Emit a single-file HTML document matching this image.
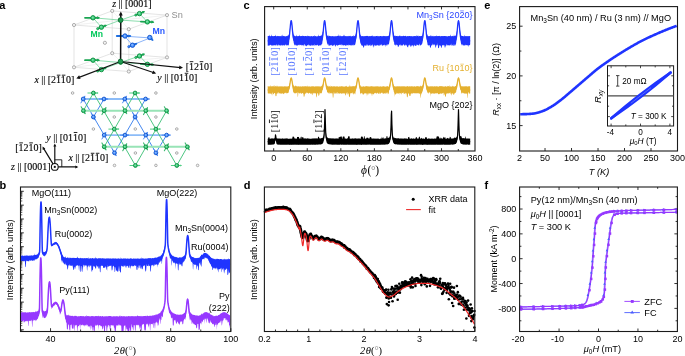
<!DOCTYPE html>
<html><head><meta charset="utf-8"><title>Figure</title>
<style>html,body{margin:0;padding:0;background:#fff;width:685px;height:356px;overflow:hidden}
svg{display:block;font-family:"Liberation Sans",sans-serif;will-change:transform}</style></head>
<body><svg xmlns="http://www.w3.org/2000/svg" width="685" height="356" viewBox="0 0 685 356"><text x="-0.7" y="8.8" font-family='"Liberation Sans", sans-serif' font-size="11" fill="#000" font-weight="bold">a</text><text x="-0.4" y="188.8" font-family='"Liberation Sans", sans-serif' font-size="11" fill="#000" font-weight="bold">b</text><text x="243.6" y="8.7" font-family='"Liberation Sans", sans-serif' font-size="11" fill="#000" font-weight="bold">c</text><text x="243.7" y="188.8" font-family='"Liberation Sans", sans-serif' font-size="11" fill="#000" font-weight="bold">d</text><text x="484.3" y="8.7" font-family='"Liberation Sans", sans-serif' font-size="11" fill="#000" font-weight="bold">e</text><text x="484.5" y="188.8" font-family='"Liberation Sans", sans-serif' font-size="11" fill="#000" font-weight="bold">f</text><line x1="50.54" y1="331.5" x2="50.54" y2="328.2" stroke="#1a1a1a" stroke-width="0.9"/><line x1="110.63" y1="331.5" x2="110.63" y2="328.2" stroke="#1a1a1a" stroke-width="0.9"/><line x1="170.71" y1="331.5" x2="170.71" y2="328.2" stroke="#1a1a1a" stroke-width="0.9"/><line x1="230.8" y1="331.5" x2="230.8" y2="328.2" stroke="#1a1a1a" stroke-width="0.9"/><line x1="80.59" y1="331.5" x2="80.59" y2="329.5" stroke="#1a1a1a" stroke-width="0.9"/><line x1="140.67" y1="331.5" x2="140.67" y2="329.5" stroke="#1a1a1a" stroke-width="0.9"/><line x1="200.76" y1="331.5" x2="200.76" y2="329.5" stroke="#1a1a1a" stroke-width="0.9"/><line x1="20.5" y1="191.3" x2="23.8" y2="191.3" stroke="#1a1a1a" stroke-width="0.9"/><line x1="20.5" y1="200.98" x2="22.3" y2="200.98" stroke="#1a1a1a" stroke-width="0.7"/><line x1="20.5" y1="198.54" x2="22.3" y2="198.54" stroke="#1a1a1a" stroke-width="0.7"/><line x1="20.5" y1="196.81" x2="22.3" y2="196.81" stroke="#1a1a1a" stroke-width="0.7"/><line x1="20.5" y1="195.47" x2="22.3" y2="195.47" stroke="#1a1a1a" stroke-width="0.7"/><line x1="20.5" y1="194.37" x2="22.3" y2="194.37" stroke="#1a1a1a" stroke-width="0.7"/><line x1="20.5" y1="193.45" x2="22.3" y2="193.45" stroke="#1a1a1a" stroke-width="0.7"/><line x1="20.5" y1="192.64" x2="22.3" y2="192.64" stroke="#1a1a1a" stroke-width="0.7"/><line x1="20.5" y1="191.93" x2="22.3" y2="191.93" stroke="#1a1a1a" stroke-width="0.7"/><line x1="20.5" y1="205.15" x2="23.8" y2="205.15" stroke="#1a1a1a" stroke-width="0.9"/><line x1="20.5" y1="214.83" x2="22.3" y2="214.83" stroke="#1a1a1a" stroke-width="0.7"/><line x1="20.5" y1="212.39" x2="22.3" y2="212.39" stroke="#1a1a1a" stroke-width="0.7"/><line x1="20.5" y1="210.66" x2="22.3" y2="210.66" stroke="#1a1a1a" stroke-width="0.7"/><line x1="20.5" y1="209.32" x2="22.3" y2="209.32" stroke="#1a1a1a" stroke-width="0.7"/><line x1="20.5" y1="208.22" x2="22.3" y2="208.22" stroke="#1a1a1a" stroke-width="0.7"/><line x1="20.5" y1="207.3" x2="22.3" y2="207.3" stroke="#1a1a1a" stroke-width="0.7"/><line x1="20.5" y1="206.49" x2="22.3" y2="206.49" stroke="#1a1a1a" stroke-width="0.7"/><line x1="20.5" y1="205.78" x2="22.3" y2="205.78" stroke="#1a1a1a" stroke-width="0.7"/><line x1="20.5" y1="219" x2="23.8" y2="219" stroke="#1a1a1a" stroke-width="0.9"/><line x1="20.5" y1="228.68" x2="22.3" y2="228.68" stroke="#1a1a1a" stroke-width="0.7"/><line x1="20.5" y1="226.24" x2="22.3" y2="226.24" stroke="#1a1a1a" stroke-width="0.7"/><line x1="20.5" y1="224.51" x2="22.3" y2="224.51" stroke="#1a1a1a" stroke-width="0.7"/><line x1="20.5" y1="223.17" x2="22.3" y2="223.17" stroke="#1a1a1a" stroke-width="0.7"/><line x1="20.5" y1="222.07" x2="22.3" y2="222.07" stroke="#1a1a1a" stroke-width="0.7"/><line x1="20.5" y1="221.15" x2="22.3" y2="221.15" stroke="#1a1a1a" stroke-width="0.7"/><line x1="20.5" y1="220.34" x2="22.3" y2="220.34" stroke="#1a1a1a" stroke-width="0.7"/><line x1="20.5" y1="219.63" x2="22.3" y2="219.63" stroke="#1a1a1a" stroke-width="0.7"/><line x1="20.5" y1="232.85" x2="23.8" y2="232.85" stroke="#1a1a1a" stroke-width="0.9"/><line x1="20.5" y1="242.53" x2="22.3" y2="242.53" stroke="#1a1a1a" stroke-width="0.7"/><line x1="20.5" y1="240.09" x2="22.3" y2="240.09" stroke="#1a1a1a" stroke-width="0.7"/><line x1="20.5" y1="238.36" x2="22.3" y2="238.36" stroke="#1a1a1a" stroke-width="0.7"/><line x1="20.5" y1="237.02" x2="22.3" y2="237.02" stroke="#1a1a1a" stroke-width="0.7"/><line x1="20.5" y1="235.92" x2="22.3" y2="235.92" stroke="#1a1a1a" stroke-width="0.7"/><line x1="20.5" y1="235" x2="22.3" y2="235" stroke="#1a1a1a" stroke-width="0.7"/><line x1="20.5" y1="234.19" x2="22.3" y2="234.19" stroke="#1a1a1a" stroke-width="0.7"/><line x1="20.5" y1="233.48" x2="22.3" y2="233.48" stroke="#1a1a1a" stroke-width="0.7"/><line x1="20.5" y1="246.7" x2="23.8" y2="246.7" stroke="#1a1a1a" stroke-width="0.9"/><line x1="20.5" y1="256.38" x2="22.3" y2="256.38" stroke="#1a1a1a" stroke-width="0.7"/><line x1="20.5" y1="253.94" x2="22.3" y2="253.94" stroke="#1a1a1a" stroke-width="0.7"/><line x1="20.5" y1="252.21" x2="22.3" y2="252.21" stroke="#1a1a1a" stroke-width="0.7"/><line x1="20.5" y1="250.87" x2="22.3" y2="250.87" stroke="#1a1a1a" stroke-width="0.7"/><line x1="20.5" y1="249.77" x2="22.3" y2="249.77" stroke="#1a1a1a" stroke-width="0.7"/><line x1="20.5" y1="248.85" x2="22.3" y2="248.85" stroke="#1a1a1a" stroke-width="0.7"/><line x1="20.5" y1="248.04" x2="22.3" y2="248.04" stroke="#1a1a1a" stroke-width="0.7"/><line x1="20.5" y1="247.33" x2="22.3" y2="247.33" stroke="#1a1a1a" stroke-width="0.7"/><line x1="20.5" y1="260.55" x2="23.8" y2="260.55" stroke="#1a1a1a" stroke-width="0.9"/><line x1="20.5" y1="270.23" x2="22.3" y2="270.23" stroke="#1a1a1a" stroke-width="0.7"/><line x1="20.5" y1="267.79" x2="22.3" y2="267.79" stroke="#1a1a1a" stroke-width="0.7"/><line x1="20.5" y1="266.06" x2="22.3" y2="266.06" stroke="#1a1a1a" stroke-width="0.7"/><line x1="20.5" y1="264.72" x2="22.3" y2="264.72" stroke="#1a1a1a" stroke-width="0.7"/><line x1="20.5" y1="263.62" x2="22.3" y2="263.62" stroke="#1a1a1a" stroke-width="0.7"/><line x1="20.5" y1="262.7" x2="22.3" y2="262.7" stroke="#1a1a1a" stroke-width="0.7"/><line x1="20.5" y1="261.89" x2="22.3" y2="261.89" stroke="#1a1a1a" stroke-width="0.7"/><line x1="20.5" y1="261.18" x2="22.3" y2="261.18" stroke="#1a1a1a" stroke-width="0.7"/><line x1="20.5" y1="274.4" x2="23.8" y2="274.4" stroke="#1a1a1a" stroke-width="0.9"/><line x1="20.5" y1="284.08" x2="22.3" y2="284.08" stroke="#1a1a1a" stroke-width="0.7"/><line x1="20.5" y1="281.64" x2="22.3" y2="281.64" stroke="#1a1a1a" stroke-width="0.7"/><line x1="20.5" y1="279.91" x2="22.3" y2="279.91" stroke="#1a1a1a" stroke-width="0.7"/><line x1="20.5" y1="278.57" x2="22.3" y2="278.57" stroke="#1a1a1a" stroke-width="0.7"/><line x1="20.5" y1="277.47" x2="22.3" y2="277.47" stroke="#1a1a1a" stroke-width="0.7"/><line x1="20.5" y1="276.55" x2="22.3" y2="276.55" stroke="#1a1a1a" stroke-width="0.7"/><line x1="20.5" y1="275.74" x2="22.3" y2="275.74" stroke="#1a1a1a" stroke-width="0.7"/><line x1="20.5" y1="275.03" x2="22.3" y2="275.03" stroke="#1a1a1a" stroke-width="0.7"/><line x1="20.5" y1="288.25" x2="23.8" y2="288.25" stroke="#1a1a1a" stroke-width="0.9"/><line x1="20.5" y1="297.93" x2="22.3" y2="297.93" stroke="#1a1a1a" stroke-width="0.7"/><line x1="20.5" y1="295.49" x2="22.3" y2="295.49" stroke="#1a1a1a" stroke-width="0.7"/><line x1="20.5" y1="293.76" x2="22.3" y2="293.76" stroke="#1a1a1a" stroke-width="0.7"/><line x1="20.5" y1="292.42" x2="22.3" y2="292.42" stroke="#1a1a1a" stroke-width="0.7"/><line x1="20.5" y1="291.32" x2="22.3" y2="291.32" stroke="#1a1a1a" stroke-width="0.7"/><line x1="20.5" y1="290.4" x2="22.3" y2="290.4" stroke="#1a1a1a" stroke-width="0.7"/><line x1="20.5" y1="289.59" x2="22.3" y2="289.59" stroke="#1a1a1a" stroke-width="0.7"/><line x1="20.5" y1="288.88" x2="22.3" y2="288.88" stroke="#1a1a1a" stroke-width="0.7"/><line x1="20.5" y1="302.1" x2="23.8" y2="302.1" stroke="#1a1a1a" stroke-width="0.9"/><line x1="20.5" y1="311.78" x2="22.3" y2="311.78" stroke="#1a1a1a" stroke-width="0.7"/><line x1="20.5" y1="309.34" x2="22.3" y2="309.34" stroke="#1a1a1a" stroke-width="0.7"/><line x1="20.5" y1="307.61" x2="22.3" y2="307.61" stroke="#1a1a1a" stroke-width="0.7"/><line x1="20.5" y1="306.27" x2="22.3" y2="306.27" stroke="#1a1a1a" stroke-width="0.7"/><line x1="20.5" y1="305.17" x2="22.3" y2="305.17" stroke="#1a1a1a" stroke-width="0.7"/><line x1="20.5" y1="304.25" x2="22.3" y2="304.25" stroke="#1a1a1a" stroke-width="0.7"/><line x1="20.5" y1="303.44" x2="22.3" y2="303.44" stroke="#1a1a1a" stroke-width="0.7"/><line x1="20.5" y1="302.73" x2="22.3" y2="302.73" stroke="#1a1a1a" stroke-width="0.7"/><line x1="20.5" y1="315.95" x2="23.8" y2="315.95" stroke="#1a1a1a" stroke-width="0.9"/><line x1="20.5" y1="325.63" x2="22.3" y2="325.63" stroke="#1a1a1a" stroke-width="0.7"/><line x1="20.5" y1="323.19" x2="22.3" y2="323.19" stroke="#1a1a1a" stroke-width="0.7"/><line x1="20.5" y1="321.46" x2="22.3" y2="321.46" stroke="#1a1a1a" stroke-width="0.7"/><line x1="20.5" y1="320.12" x2="22.3" y2="320.12" stroke="#1a1a1a" stroke-width="0.7"/><line x1="20.5" y1="319.02" x2="22.3" y2="319.02" stroke="#1a1a1a" stroke-width="0.7"/><line x1="20.5" y1="318.1" x2="22.3" y2="318.1" stroke="#1a1a1a" stroke-width="0.7"/><line x1="20.5" y1="317.29" x2="22.3" y2="317.29" stroke="#1a1a1a" stroke-width="0.7"/><line x1="20.5" y1="316.58" x2="22.3" y2="316.58" stroke="#1a1a1a" stroke-width="0.7"/><line x1="20.5" y1="329.8" x2="23.8" y2="329.8" stroke="#1a1a1a" stroke-width="0.9"/><line x1="20.5" y1="330.43" x2="22.3" y2="330.43" stroke="#1a1a1a" stroke-width="0.7"/><polygon points="21,312.09 21.3,312.2 21.6,312.19 21.9,312.41 22.2,312.25 22.5,312.44 22.8,312.12 23.1,312.56 23.4,312.27 23.7,312.31 24,312.27 24.3,312.22 24.6,312.13 24.9,312.42 25.2,312.1 25.5,312.33 25.8,312.56 26.1,312.25 26.4,312.75 26.7,312.53 27,312.73 27.3,312.16 27.6,312.52 27.9,312.17 28.2,312.12 28.5,312.13 28.8,312.94 29.1,312.24 29.4,312.06 29.7,312.08 30,312.57 30.3,312.19 30.6,312.36 30.9,312.29 31.2,312.37 31.5,312.27 31.8,311.99 32.1,312.27 32.4,312.15 32.7,311.97 33,311.95 33.3,311.91 33.6,312.29 33.9,311.87 34.2,312.28 34.5,312.32 34.8,312.04 35.1,311.74 35.4,310.6 35.7,312.29 36,311.78 36.3,311.86 36.6,311.37 36.9,311.43 37.2,311.16 37.5,311.16 37.8,310.73 38.1,310.68 38.4,310.64 38.7,309.94 39,307.98 39.3,308.27 39.4,307.32 39.5,305.75 39.6,301.63 39.7,295.94 39.8,290.07 39.9,283.52 40,278.31 40.1,273.27 40.2,269.11 40.3,265.48 40.4,262.5 40.5,260.18 40.6,258.53 40.7,257.54 40.8,257.22 40.9,257.57 41,258.58 41.1,260.26 41.2,262.61 41.3,265.61 41.4,269.27 41.5,273.58 41.6,278.52 41.7,284.04 41.8,290.02 41.9,296.31 42,302.11 42.1,304.03 42.2,307.5 42.3,308.53 42.6,309.39 42.9,310.22 43.2,310.26 43.5,310.74 43.8,311.17 44.1,310.95 44.4,311.48 44.7,311.6 45,310.96 45.3,311.09 45.6,310.71 45.9,311.27 46.2,310.55 46.5,310.19 46.8,307.95 47.1,309.13 47.4,307.4 47.7,303.61 48,298.17 48.1,296.13 48.2,294.39 48.3,292.21 48.4,290.46 48.5,289.21 48.6,287.45 48.7,286.02 48.8,284.84 48.9,283.81 49,282.94 49.1,282.22 49.2,281.67 49.3,281.28 49.4,281.04 49.5,280.98 49.6,281.07 49.7,281.33 49.8,281.74 49.9,282.32 50,283.06 50.1,283.96 50.2,285.01 50.3,286.21 50.4,287.99 50.5,289.54 50.6,290.22 50.7,292.44 50.8,294.18 50.9,296.28 51,298.11 51.3,302.36 51.6,304.14 51.9,304.63 52.2,304.31 52.5,304.23 52.8,303.93 53.1,301.9 53.4,303.28 53.7,302.68 54,302.65 54.3,302.25 54.6,302.08 54.9,301.67 55.2,301.63 55.5,301.5 55.8,301.84 56.1,301.68 56.4,302.1 56.7,301.95 57,302.37 57.3,302.48 57.6,303.3 57.9,303.83 58.2,303.97 58.5,304.77 58.8,305.86 59.1,306.24 59.4,306.75 59.7,307.52 60,308.44 60.3,308.81 60.6,308.88 60.9,308.1 61.2,307.05 61.5,305.22 61.6,304.6 61.7,303.66 61.8,302.94 61.9,302.24 62,301.81 62.1,301.29 62.2,300.85 62.3,300.29 62.4,299.85 62.5,299.48 62.6,299.62 62.7,299.24 62.8,298.99 62.9,298.97 63,299.25 63.1,299.14 63.2,299.26 63.3,299.15 63.4,299.54 63.5,299.51 63.6,300.31 63.7,300.77 63.8,301.09 63.9,302 64,302.51 64.1,303.01 64.2,303.57 64.3,304.44 64.4,305.55 64.5,306.2 64.8,308.51 65.1,310.98 65.4,312.51 65.7,313.81 66,314.18 66.3,314.84 66.6,315.34 66.9,315.64 67.2,315.11 67.5,315.13 67.8,315.27 68.1,315.27 68.4,315.62 68.7,314.35 69,315.47 69.3,315.79 69.6,315.18 69.9,315.7 70.2,315.57 70.5,315.72 70.8,315.95 71.1,315.85 71.4,315.99 71.7,315.97 72,315.75 72.3,315.97 72.6,315.83 72.9,315.84 73.2,316.44 73.5,316.23 73.8,316.07 74.1,315.8 74.4,315.78 74.7,316.29 75,315.95 75.3,316.06 75.6,315.84 75.9,315.84 76.2,315.92 76.5,316.23 76.8,315.84 77.1,316.61 77.4,316.09 77.7,316.54 78,316.99 78.3,316.04 78.6,316.33 78.9,315.88 79.2,316.28 79.5,316.2 79.8,316.27 80.1,315.94 80.4,315.9 80.7,315.91 81,315.91 81.3,316.18 81.6,316.09 81.9,315.98 82.2,316.27 82.5,316.09 82.8,316.15 83.1,316.3 83.4,316.36 83.7,315.97 84,315.92 84.3,316.39 84.6,316.53 84.9,316.44 85.2,316.09 85.5,316.2 85.8,316.07 86.1,316.85 86.4,316.03 86.7,315.07 87,315.97 87.3,316.32 87.6,316.04 87.9,316.01 88.2,316.36 88.5,316.07 88.8,315.95 89.1,316.49 89.4,316.15 89.7,316.09 90,316.59 90.3,316.51 90.6,316.3 90.9,316.28 91.2,316.2 91.5,316 91.8,316.04 92.1,316.06 92.4,316.04 92.7,315.99 93,316.5 93.3,316.17 93.6,315.99 93.9,316.18 94.2,316.2 94.5,316.54 94.8,316.15 95.1,316 95.4,316.1 95.7,316.37 96,316 96.3,316.29 96.6,316.12 96.9,316.06 97.2,316.06 97.5,316.02 97.8,316.54 98.1,316.07 98.4,315.61 98.7,316.3 99,316.26 99.3,316.19 99.6,316.52 99.9,316.1 100.2,316.2 100.5,316.06 100.8,315.99 101.1,316.34 101.4,316.16 101.7,316.7 102,316.09 102.3,316.07 102.6,316.36 102.9,316.11 103.2,316.44 103.5,316.39 103.8,316.45 104.1,316.32 104.4,316.38 104.7,316.54 105,316.09 105.3,316.2 105.6,316.69 105.9,316.07 106.2,316.21 106.5,316.48 106.8,316.02 107.1,316.52 107.4,316.34 107.7,316.34 108,316.31 108.3,316.18 108.6,316.11 108.9,316.08 109.2,316.08 109.5,316.11 109.8,316.11 110.1,316.02 110.4,316.08 110.7,316.04 111,316.19 111.3,316.66 111.6,316.22 111.9,316.03 112.2,316.6 112.5,316.15 112.8,316.69 113.1,316.5 113.4,316.31 113.7,316.26 114,316.06 114.3,316.61 114.6,316.14 114.9,316.25 115.2,316.23 115.5,316.8 115.8,316.09 116.1,316.28 116.4,316.42 116.7,316.03 117,316.07 117.3,316.41 117.6,316.05 117.9,316.41 118.2,316.4 118.5,316.38 118.8,316.39 119.1,316.17 119.4,316.19 119.7,316.05 120,315.05 120.3,316.12 120.6,316.46 120.9,316.51 121.2,316.28 121.5,316.07 121.8,316.08 122.1,316.35 122.4,316.61 122.7,316.28 123,316.06 123.3,316.14 123.6,316.13 123.9,316.36 124.2,316.07 124.5,316.42 124.8,316.32 125.1,316.28 125.4,316.16 125.7,316.66 126,316.46 126.3,316.2 126.6,316.46 126.9,316.12 127.2,316.09 127.5,316.38 127.8,316.87 128.1,316.04 128.4,316.01 128.7,316.21 129,316.03 129.3,316.56 129.6,316.11 129.9,316.32 130.2,316.41 130.5,316.34 130.8,316.08 131.1,316.33 131.4,316.14 131.7,316.12 132,315.98 132.3,316.14 132.6,316.24 132.9,316.06 133.2,316.31 133.5,316.4 133.8,315.96 134.1,316.25 134.4,316.47 134.7,315.94 135,316.16 135.3,316.27 135.6,316.22 135.9,316.1 136.2,316.44 136.5,316.19 136.8,316.04 137.1,315.99 137.4,314.68 137.7,316.1 138,315.95 138.3,316.1 138.6,315.9 138.9,316.26 139.2,315.91 139.5,315.89 139.8,316.2 140.1,316.17 140.4,315.86 140.7,316.45 141,316.07 141.3,316.21 141.6,316.46 141.9,315.84 142.2,316.2 142.5,316.34 142.8,316.17 143.1,316.05 143.4,316.17 143.7,315.9 144,316.04 144.3,316 144.6,315.94 144.9,315.99 145.2,315.87 145.5,316.04 145.8,316.12 146.1,316.32 146.4,316.32 146.7,315.76 147,315.72 147.3,315.63 147.6,315.66 147.9,315.61 148.2,316.24 148.5,315.92 148.8,316.08 149.1,315.87 149.4,315.96 149.7,315.73 150,315.74 150.3,315.76 150.6,315.88 150.9,315.49 151.2,315.82 151.5,316.29 151.8,315.46 152.1,315.61 152.4,315.56 152.7,315.54 153,315.22 153.3,315.6 153.6,315.37 153.9,315.46 154.2,315.21 154.5,315.01 154.8,315.11 155.1,315.4 155.4,314.81 155.7,314.61 156,314.55 156.3,314.47 156.6,314.74 156.9,314.27 157.2,314.16 157.5,314.48 157.8,314.56 158.1,313.82 158.4,313.9 158.7,313.5 159,313.52 159.3,313.38 159.6,312.93 159.9,313.05 160.2,312.66 160.5,312.21 160.8,311.96 161.1,309.98 161.4,311.43 161.7,311.1 162,310.39 162.3,309.99 162.6,309.3 162.9,308.56 163.2,308.29 163.5,306.98 163.8,306.45 164.1,305.05 164.4,303.58 164.7,302.6 164.9,300.61 165,299.81 165.1,298.62 165.2,296.64 165.3,293.11 165.4,288.17 165.5,282.82 165.6,277.58 165.7,272.77 165.8,268.52 165.9,264.9 166,261.92 166.1,259.59 166.2,257.92 166.3,256.92 166.4,256.59 166.5,256.92 166.6,257.92 166.7,259.59 166.8,261.92 166.9,264.9 167,268.52 167.1,272.77 167.2,277.58 167.3,282.81 167.4,288.16 167.5,293.16 167.6,296.9 167.7,298.91 167.8,299.83 167.9,300.14 168,301.58 168.3,303.02 168.6,305.28 168.9,305.72 169.2,307.15 169.5,307.97 169.8,308.51 170.1,309.41 170.4,309.69 170.7,310.18 171,311.17 171.3,311.53 171.6,311.38 171.9,311.76 172.2,312.42 172.5,312.49 172.8,312.64 173.1,312.85 173.4,312.95 173.7,313.44 174,313.52 174.3,313.42 174.6,313.79 174.9,313.86 175.2,314.14 175.5,314 175.8,314.06 176.1,314.16 176.4,314.46 176.7,314.75 177,314.43 177.3,314.3 177.6,314.43 177.9,314.96 178.2,314.52 178.5,314.63 178.8,314.74 179.1,315.23 179.4,314.57 179.7,314.76 180,314.57 180.3,314.63 180.6,314.4 180.9,314.62 181.2,315.28 181.5,314.3 181.8,314.38 182.1,314.34 182.4,314.6 182.7,314.28 183,313.85 183.3,313.68 183.6,313.65 183.9,313.34 184.2,312.89 184.5,312.87 184.8,312.86 185.1,311.78 185.4,311.18 185.7,310.42 186,309.45 186.1,308.35 186.2,308.1 186.3,307.08 186.4,305.88 186.5,304.91 186.6,304.13 186.7,303.24 186.8,302.46 186.9,301.38 187,300.38 187.1,299.8 187.2,299.52 187.3,298.89 187.4,298.36 187.5,298.16 187.6,298.09 187.7,298.35 187.8,298.27 187.9,298.91 188,299.3 188.1,299.87 188.2,299.94 188.3,301.3 188.4,302.17 188.5,302.97 188.6,304.18 188.7,304.88 188.8,305.95 188.9,307.07 189,307.83 189.1,308.51 189.3,309.99 189.6,311.51 189.9,312.14 190.2,312 190.5,312.5 190.8,313.34 191.1,313.18 191.4,313.76 191.7,313.71 192,314.04 192.3,314.36 192.6,314.81 192.9,314.88 193.2,314.74 193.5,314.88 193.8,314.77 194.1,314.88 194.4,315.1 194.7,315.07 195,315.2 195.3,315.39 195.6,315.26 195.9,315.53 196.2,315.61 196.5,315.26 196.8,315.53 197.1,315.42 197.4,315.38 197.7,315.56 198,315.87 198.3,315.66 198.6,315.4 198.9,316.11 199.2,315.51 199.5,315.14 199.8,315.26 200.1,315.63 200.4,314.87 200.7,314.77 201,314.91 201.3,313.02 201.6,314.36 201.9,314.1 202.2,314.38 202.5,314.1 202.8,313.48 203.1,313.31 203.4,313.57 203.7,312.89 204,312.55 204.3,312.47 204.6,312.41 204.9,312.16 205.2,312.54 205.5,312 205.8,312.08 206.1,311.91 206.4,312.02 206.7,311.96 207,312.71 207.3,312.42 207.6,312.2 207.9,312.64 208.2,313.1 208.5,312.59 208.8,313.41 209.1,313.31 209.4,313.63 209.7,311.86 210,313.69 210.3,314.59 210.6,314.24 210.9,314.86 211.2,314.64 211.5,314.76 211.8,315.01 212.1,315.08 212.4,315.38 212.7,315.53 213,315.46 213.3,315.52 213.6,316.23 213.9,316.33 214.2,316.15 214.5,315.96 214.8,315.98 215.1,316.25 215.4,315.77 215.7,315.76 216,315.82 216.3,315.72 216.6,315.79 216.9,315.61 217.2,315.88 217.5,315.54 217.8,316.1 218.1,315.2 218.4,315.12 218.7,315.06 219,314.94 219.3,314.89 219.6,314.37 219.9,314.4 220.2,313.95 220.5,313.67 220.8,313.15 221.1,313.41 221.4,312.98 221.7,312.93 222,313.08 222.3,313.07 222.6,312.46 222.9,311.38 223.2,312.23 223.5,312.13 223.8,312.35 224.1,312.39 224.4,312.1 224.7,311.98 225,312.17 225.3,312.21 225.6,312.46 225.9,313 226.2,312.57 226.5,313.14 226.8,313.04 227.1,313.16 227.4,313.36 227.7,314.03 228,313.77 228.3,314.47 228.6,314.42 228.9,314.69 229.2,315 229.5,314.92 229.8,315.17 230.1,315.79 230.1,324.17 229.8,325.48 229.5,325.51 229.2,328.86 228.9,322.52 228.6,322.25 228.3,321.45 228,322.51 227.7,322.41 227.4,320.46 227.1,320.1 226.8,319.18 226.5,319.85 226.2,320.73 225.9,320.17 225.6,320.07 225.3,317.69 225,318.43 224.7,318.41 224.4,318.37 224.1,317.93 223.8,318.27 223.5,320.23 223.2,320.21 222.9,320.69 222.6,320.41 222.3,325.13 222,321.2 221.7,319.88 221.4,325.19 221.1,325.43 220.8,320.97 220.5,320.54 220.2,322.21 219.9,322.17 219.6,322.3 219.3,322.86 219,323.04 218.7,322.97 218.4,322.97 218.1,323.79 217.8,324.39 217.5,324.79 217.2,324.46 216.9,330.33 216.6,325.08 216.3,324.84 216,322.62 215.7,324.72 215.4,324.97 215.1,324.74 214.8,325.6 214.5,326.9 214.2,327.04 213.9,324.12 213.6,324.84 213.3,323.8 213,323.84 212.7,324.38 212.4,324.02 212.1,323.74 211.8,322.7 211.5,322.31 211.2,322.95 210.9,322.28 210.6,322.02 210.3,320.06 210,321.23 209.7,323.49 209.4,323.38 209.1,322.72 208.8,323.31 208.5,322.05 208.2,320.66 207.9,319.8 207.6,319.08 207.3,318.61 207,318 206.7,318.91 206.4,323.14 206.1,321.82 205.8,319.26 205.5,318.77 205.2,318.71 204.9,318.24 204.6,324.34 204.3,319.15 204,319.14 203.7,319.76 203.4,320.05 203.1,320.22 202.8,321.83 202.5,321.5 202.2,322.58 201.9,320.6 201.6,322.39 201.3,325.01 201,322.54 200.7,323.25 200.4,323.4 200.1,323.61 199.8,329.35 199.5,329.83 199.2,329.62 198.9,330.19 198.6,329.54 198.3,323.91 198,323.86 197.7,324.07 197.4,323.72 197.1,327.69 196.8,327.78 196.5,328.52 196.2,327.97 195.9,325.02 195.6,325.12 195.3,325.24 195,324.81 194.7,325.1 194.4,323.93 194.1,324.1 193.8,322.87 193.5,324.12 193.2,324.19 192.9,323.74 192.6,322.37 192.3,322.11 192,323.99 191.7,323.85 191.4,320.28 191.1,320.4 190.8,319.76 190.5,318.61 190.2,320.84 189.9,320.19 189.6,318.4 189.3,316.66 189.1,313.29 189,312.43 188.9,314.71 188.8,310.2 188.7,309.4 188.6,307.13 188.5,305.77 188.4,305.05 188.3,303.5 188.2,302.69 188.1,302.51 188,301.94 187.9,300.88 187.8,300.82 187.7,299.95 187.6,300.98 187.5,300.65 187.4,301.52 187.3,301.98 187.2,303.14 187.1,301.79 187,302.44 186.9,305.16 186.8,304.7 186.7,306.2 186.6,307.16 186.5,308.69 186.4,309.34 186.3,310.4 186.2,311.82 186.1,312.64 186,318.74 185.7,320.14 185.4,316.92 185.1,317.79 184.8,318.98 184.5,319.53 184.2,318.65 183.9,320.52 183.6,320.37 183.3,323.41 183,323.99 182.7,324.06 182.4,324.82 182.1,321.13 181.8,321.6 181.5,321.75 181.2,321.37 180.9,321.55 180.6,321.17 180.3,322.28 180,322.52 179.7,324.72 179.4,324.14 179.1,324.71 178.8,322.38 178.5,323.95 178.2,323.87 177.9,321.48 177.6,321.39 177.3,322.31 177,322.29 176.7,323.94 176.4,323.17 176.1,323.72 175.8,321.98 175.5,321.04 175.2,319.61 174.9,321.09 174.6,320.14 174.3,319.93 174,319.88 173.7,325.7 173.4,325.52 173.1,325.25 172.8,325.27 172.5,318.61 172.2,317.61 171.9,318.2 171.6,317.26 171.3,318.82 171,317.65 170.7,315.32 170.4,313.8 170.1,314.37 169.8,313.28 169.5,312.19 169.2,314.04 168.9,311.73 168.6,308.25 168.3,305.93 168,304.4 167.9,302.69 167.8,302.74 167.7,301.52 167.6,299.49 167.5,295.19 167.4,290.98 167.3,284.69 167.2,279.32 167.1,274.48 167,270.14 166.9,266.48 166.8,263.5 166.7,261.16 166.6,259.49 166.5,258.48 166.4,258.14 166.3,258.47 166.2,259.47 166.1,261.14 166,263.48 165.9,266.48 165.8,270.43 165.7,274.73 165.6,279.62 165.5,284.7 165.4,290.26 165.3,294.94 165.2,298.97 165.1,301.4 165,301.86 164.9,302.92 164.7,305.3 164.4,306.9 164.1,309.71 163.8,309.61 163.5,311.06 163.2,311.83 162.9,316.71 162.6,317.09 162.3,317.39 162,315.42 161.7,315.85 161.4,319.39 161.1,320.18 160.8,318.78 160.5,323.7 160.2,323.78 159.9,317.85 159.6,319.35 159.3,319.83 159,321.27 158.7,323.45 158.4,325.42 158.1,325.29 157.8,326.11 157.5,322.92 157.2,322.63 156.9,321.26 156.6,322.5 156.3,322.41 156,322.16 155.7,322.87 155.4,322.64 155.1,328.98 154.8,323.29 154.5,322.97 154.2,328.39 153.9,327.8 153.6,327.72 153.3,322.86 153,323.08 152.7,324.59 152.4,324.18 152.1,324.22 151.8,324.11 151.5,323.99 151.2,323.86 150.9,324.7 150.6,323.31 150.3,330.16 150,330.67 149.7,324.46 149.4,323.24 149.1,325.16 148.8,327.83 148.5,326.2 148.2,325.5 147.9,323.29 147.6,324 147.3,324.6 147,324.61 146.7,323.49 146.4,324.86 146.1,324.31 145.8,330.9 145.5,330.45 145.2,329.84 144.9,330.41 144.6,330.34 144.3,329.15 144,324.83 143.7,324.08 143.4,324.27 143.1,323.87 142.8,324.28 142.5,324.59 142.2,324.89 141.9,325.42 141.6,330.9 141.3,330.08 141,330.9 140.7,325.38 140.4,328.48 140.1,328.8 139.8,329.09 139.5,325.01 139.2,328.79 138.9,325.15 138.6,325.3 138.3,324.48 138,325.39 137.7,325.15 137.4,324.44 137.1,325.61 136.8,324.47 136.5,325.26 136.2,325.23 135.9,325.02 135.6,330.9 135.3,330.34 135,330.9 134.7,325.25 134.4,325.39 134.1,325.09 133.8,324.88 133.5,329.41 133.2,330.68 132.9,329.4 132.6,327.82 132.3,326.87 132,327.14 131.7,325.1 131.4,323.86 131.1,330.9 130.8,330.9 130.5,330.69 130.2,330.86 129.9,327.6 129.6,327.91 129.3,330.56 129,330.9 128.7,330.9 128.4,330.9 128.1,330.9 127.8,330.62 127.5,330.9 127.2,328.72 126.9,329.31 126.6,329.26 126.3,326.39 126,330.9 125.7,330.9 125.4,326.57 125.1,324.94 124.8,325.65 124.5,325.54 124.2,325.74 123.9,326.26 123.6,330.56 123.3,330.9 123,330.9 122.7,330.75 122.4,330.9 122.1,330.9 121.8,330.9 121.5,330.9 121.2,325.73 120.9,325.59 120.6,325.76 120.3,325.18 120,324.87 119.7,325.79 119.4,325.34 119.1,324.2 118.8,325.8 118.5,323.72 118.2,325.76 117.9,325.68 117.6,324.86 117.3,325.81 117,326.02 116.7,325.35 116.4,324.99 116.1,327.18 115.8,330.9 115.5,330.9 115.2,330.9 114.9,330.9 114.6,329.8 114.3,327.32 114,327.95 113.7,325.63 113.4,325.25 113.1,325.4 112.8,325.84 112.5,325.35 112.2,325.17 111.9,324.93 111.6,324.88 111.3,325.88 111,324.64 110.7,325.5 110.4,329.43 110.1,328.99 109.8,329.35 109.5,326.34 109.2,325.16 108.9,326.83 108.6,325.03 108.3,324.93 108,325.12 107.7,326.97 107.4,327.46 107.1,330.9 106.8,330.66 106.5,330.9 106.2,325.61 105.9,325.78 105.6,325.83 105.3,325.35 105,330.9 104.7,330.9 104.4,330.9 104.1,330.9 103.8,326.02 103.5,325.81 103.2,328.36 102.9,328.7 102.6,329.48 102.3,329.31 102,326.42 101.7,326.18 101.4,326.45 101.1,325.82 100.8,326.46 100.5,325.45 100.2,325.62 99.9,325.01 99.6,324.89 99.3,325.16 99,325.85 98.7,325.63 98.4,330.44 98.1,325.09 97.8,325.34 97.5,325.18 97.2,324.21 96.9,325.87 96.6,324.76 96.3,325.64 96,325.64 95.7,325.81 95.4,325.62 95.1,324.13 94.8,330.9 94.5,330.9 94.2,330.75 93.9,330.27 93.6,330.9 93.3,327.27 93,326.91 92.7,327.32 92.4,330.78 92.1,330.46 91.8,327.92 91.5,325.64 91.2,325.74 90.9,326.05 90.6,324.96 90.3,330.9 90,327.85 89.7,326.9 89.4,325.65 89.1,326.52 88.8,326.75 88.5,325.73 88.2,326.55 87.9,326.64 87.6,324.65 87.3,324.76 87,325.47 86.7,325.39 86.4,325.34 86.1,323.96 85.8,325.6 85.5,325.79 85.2,324.99 84.9,325.56 84.6,326.75 84.3,325.24 84,324.77 83.7,325.67 83.4,325.5 83.1,324.98 82.8,325.02 82.5,325.6 82.2,324.04 81.9,325.5 81.6,325.18 81.3,324.72 81,325.49 80.7,324.11 80.4,325.53 80.1,330.9 79.8,324.93 79.5,325.62 79.2,324.31 78.9,326.03 78.6,326.05 78.3,326.25 78,326.23 77.7,327.38 77.4,330.9 77.1,330.9 76.8,324.95 76.5,324.66 76.2,325.59 75.9,324.69 75.6,325.33 75.3,325.66 75,325.59 74.7,330.9 74.4,330.26 74.1,324.67 73.8,324.62 73.5,328.85 73.2,328.62 72.9,329.07 72.6,328.49 72.3,328.31 72,328.85 71.7,325.14 71.4,324.78 71.1,324.23 70.8,324.92 70.5,324.9 70.2,330.75 69.9,330.67 69.6,329.32 69.3,330.42 69,324.02 68.7,324.7 68.4,324.47 68.1,325.75 67.8,329.9 67.5,329.25 67.2,329.13 66.9,328.88 66.6,322.97 66.3,322.51 66,322.19 65.7,319.45 65.4,319.15 65.1,316.2 64.8,311.73 64.5,310.76 64.4,309.44 64.3,307.47 64.2,306.66 64.1,305.61 64,305.29 63.9,303.82 63.8,304.16 63.7,303.56 63.6,303.47 63.5,302.26 63.4,302.16 63.3,302.56 63.2,301.87 63.1,301.43 63,300.88 62.9,301.24 62.8,300.1 62.7,301.81 62.6,304.12 62.5,303.8 62.4,304.04 62.3,302.36 62.2,303.74 62.1,303.99 62,304.38 61.9,304.16 61.8,305.96 61.7,306.85 61.6,307.46 61.5,308.61 61.2,310.64 60.9,312.98 60.6,313.53 60.3,313.87 60,315.05 59.7,312.79 59.4,310.71 59.1,310.56 58.8,309.46 58.5,308.22 58.2,307.72 57.9,306.43 57.6,306.58 57.3,305.35 57,305.11 56.7,305 56.4,304.06 56.1,304.73 55.8,304.04 55.5,304.65 55.2,303.73 54.9,304.89 54.6,305.29 54.3,306.05 54,304.62 53.7,306.1 53.4,306.19 53.1,306.18 52.8,306.56 52.5,307.91 52.2,307.75 51.9,308.77 51.6,308.76 51.3,306.1 51,300.82 50.9,297.44 50.8,296.24 50.7,293.47 50.6,292.05 50.5,290.47 50.4,289.5 50.3,288.3 50.2,287.05 50.1,285.95 50,285.02 49.9,284.25 49.8,283.66 49.7,283.22 49.6,282.96 49.5,282.86 49.4,282.93 49.3,283.17 49.2,283.58 49.1,284.15 49,284.9 48.9,285.8 48.8,286.88 48.7,288.12 48.6,287.76 48.5,290.88 48.4,292.55 48.3,294.19 48.2,295.68 48.1,298.25 48,300.88 47.7,307.14 47.4,312.89 47.1,315.2 46.8,315.19 46.5,316.87 46.2,316.43 45.9,316.82 45.6,318 45.3,317.5 45,318.23 44.7,317.76 44.4,318.33 44.1,317.9 43.8,317.97 43.5,317.08 43.2,316.01 42.9,318.24 42.6,316.96 42.3,315.59 42.2,314.23 42.1,310.47 42,305.45 41.9,299.36 41.8,291.8 41.7,286.08 41.6,280.36 41.5,275.31 41.4,270.93 41.3,267.23 41.2,264.2 41.1,261.84 41,260.15 40.9,259.13 40.8,258.78 40.7,259.1 40.6,260.09 40.5,261.75 40.4,264.35 40.3,267.36 40.2,271.04 40.1,275.39 40,280.14 39.9,285.84 39.8,291.21 39.7,298.86 39.6,304.8 39.5,310.07 39.4,312.97 39.3,314.39 39,315.83 38.7,316.31 38.4,316.78 38.1,318.04 37.8,318.65 37.5,319 37.2,319.17 36.9,319.46 36.6,320.56 36.3,319.72 36,321.4 35.7,320.39 35.4,320.45 35.1,319.5 34.8,320.25 34.5,320.59 34.2,319.72 33.9,320.77 33.6,319.35 33.3,320.89 33,320.56 32.7,320.99 32.4,326.71 32.1,326.77 31.8,320.9 31.5,319.51 31.2,320.86 30.9,320.63 30.6,320.48 30.3,321.19 30,320.95 29.7,320.47 29.4,321.22 29.1,320.74 28.8,320.71 28.5,326.28 28.2,325.77 27.9,321.4 27.6,320.94 27.3,321.21 27,320.14 26.7,321.38 26.4,320.9 26.1,321.18 25.8,321.41 25.5,320.79 25.2,321.42 24.9,320.99 24.6,322.37 24.3,322.19 24,322.25 23.7,322.41 23.4,319.74 23.1,320.69 22.8,321.38 22.5,321.32 22.2,321.25 21.9,320.68 21.6,321.15 21.3,321 21,320.5" fill="#9638ff"/><polyline points="21,316.83 21.3,316.83 21.6,316.83 21.9,316.83 22.2,316.83 22.5,316.83 22.8,316.83 23.1,316.83 23.4,316.82 23.7,316.82 24,316.82 24.3,316.82 24.6,316.81 24.9,316.81 25.2,316.81 25.5,316.8 25.8,316.8 26.1,316.8 26.4,316.79 26.7,316.79 27,316.78 27.3,316.78 27.6,316.77 27.9,316.76 28.2,316.76 28.5,316.75 28.8,316.74 29.1,316.73 29.4,316.72 29.7,316.71 30,316.7 30.3,316.68 30.6,316.67 30.9,316.65 31.2,316.64 31.5,316.62 31.8,316.6 32.1,316.58 32.4,316.55 32.7,316.53 33,316.5 33.3,316.47 33.6,316.43 33.9,316.39 34.2,316.34 34.5,316.29 34.8,316.24 35.1,316.17 35.4,316.1 35.7,316.01 36,315.91 36.3,315.8 36.6,315.66 36.9,315.5 37.2,315.3 37.5,315.07 37.8,314.77 38.1,314.41 38.4,313.97 38.7,313.38 39,312.58 39.3,311.31 39.4,310.28 39.5,307.93 39.6,303.45 39.7,297.39 39.8,290.96 39.9,284.82 40,279.23 40.1,274.26 40.2,269.94 40.3,266.28 40.4,263.29 40.5,260.97 40.6,259.31 40.7,258.32 40.8,258 40.9,258.35 41,259.36 41.1,261.05 41.2,263.4 41.3,266.42 41.4,270.1 41.5,274.45 41.6,279.44 41.7,285.06 41.8,291.22 41.9,297.67 42,303.72 42.1,308.16 42.2,310.46 42.3,311.46 42.6,312.69 42.9,313.43 43.2,313.95 43.5,314.3 43.8,314.54 44.1,314.68 44.4,314.74 44.7,314.74 45,314.68 45.3,314.56 45.6,314.38 45.9,314.14 46.2,313.84 46.5,313.46 46.8,312.97 47.1,312.15 47.4,310.14 47.7,305.7 48,299.52 48.1,297.41 48.2,295.38 48.3,293.45 48.4,291.64 48.5,289.97 48.6,288.44 48.7,287.07 48.8,285.86 48.9,284.81 49,283.92 49.1,283.19 49.2,282.62 49.3,282.22 49.4,281.99 49.5,281.92 49.6,282.01 49.7,282.27 49.8,282.7 49.9,283.29 50,284.04 50.1,284.95 50.2,286.03 50.3,287.25 50.4,288.64 50.5,290.16 50.6,291.82 50.7,293.6 50.8,295.46 50.9,297.38 51,299.29 51.3,304.13 51.6,306.32 51.9,306.57 52.2,306.27 52.5,305.91 52.8,305.58 53.1,305.26 53.4,304.96 53.7,304.66 54,304.35 54.3,304.05 54.6,303.77 54.9,303.53 55.2,303.34 55.5,303.22 55.8,303.17 56.1,303.21 56.4,303.34 56.7,303.56 57,303.87 57.3,304.26 57.6,304.75 57.9,305.31 58.2,305.96 58.5,306.68 58.8,307.47 59.1,308.31 59.4,309.19 59.7,310.06 60,310.86 60.3,311.42 60.6,311.47 60.9,310.7 61.2,309.06 61.5,306.92 61.6,306.18 61.7,305.45 61.8,304.74 61.9,304.06 62,303.43 62.1,302.84 62.2,302.31 62.3,301.83 62.4,301.41 62.5,301.06 62.6,300.77 62.7,300.55 62.8,300.4 62.9,300.31 63,300.29 63.1,300.35 63.2,300.47 63.3,300.66 63.4,300.92 63.5,301.24 63.6,301.64 63.7,302.1 63.8,302.63 63.9,303.21 64,303.86 64.1,304.57 64.2,305.33 64.3,306.14 64.4,306.99 64.5,307.88 64.8,310.68 65.1,313.42 65.4,315.73 65.7,317.35 66,318.33 66.3,318.85 66.6,319.16 66.9,319.36 67.2,319.53 67.5,319.66 67.8,319.78 68.1,319.88 68.4,319.96 68.7,320.04 69,320.11 69.3,320.17 69.6,320.22 69.9,320.27 70.2,320.31 70.5,320.35 70.8,320.39 71.1,320.42 71.4,320.45 71.7,320.47 72,320.5 72.3,320.52 72.6,320.54 72.9,320.56 73.2,320.58 73.5,320.6 73.8,320.61 74.1,320.63 74.4,320.64 74.7,320.66 75,320.67 75.3,320.68 75.6,320.69 75.9,320.7 76.2,320.71 76.5,320.72 76.8,320.73 77.1,320.74 77.4,320.74 77.7,320.75 78,320.76 78.3,320.77 78.6,320.77 78.9,320.78 79.2,320.79 79.5,320.79 79.8,320.8 80.1,320.8 80.4,320.81 80.7,320.81 81,320.82 81.3,320.82 81.6,320.83 81.9,320.83 82.2,320.83 82.5,320.84 82.8,320.84 83.1,320.85 83.4,320.85 83.7,320.85 84,320.86 84.3,320.86 84.6,320.86 84.9,320.86 85.2,320.87 85.5,320.87 85.8,320.87 86.1,320.88 86.4,320.88 86.7,320.88 87,320.88 87.3,320.89 87.6,320.89 87.9,320.89 88.2,320.89 88.5,320.89 88.8,320.9 89.1,320.9 89.4,320.9 89.7,320.9 90,320.9 90.3,320.91 90.6,320.91 90.9,320.91 91.2,320.91 91.5,320.91 91.8,320.91 92.1,320.92 92.4,320.92 92.7,320.92 93,320.92 93.3,320.92 93.6,320.92 93.9,320.92 94.2,320.93 94.5,320.93 94.8,320.93 95.1,320.93 95.4,320.93 95.7,320.93 96,320.93 96.3,320.93 96.6,320.93 96.9,320.94 97.2,320.94 97.5,320.94 97.8,320.94 98.1,320.94 98.4,320.94 98.7,320.94 99,320.94 99.3,320.94 99.6,320.94 99.9,320.94 100.2,320.94 100.5,320.95 100.8,320.95 101.1,320.95 101.4,320.95 101.7,320.95 102,320.95 102.3,320.95 102.6,320.95 102.9,320.95 103.2,320.95 103.5,320.95 103.8,320.95 104.1,320.95 104.4,320.95 104.7,320.95 105,320.95 105.3,320.95 105.6,320.95 105.9,320.95 106.2,320.95 106.5,320.95 106.8,320.96 107.1,320.96 107.4,320.96 107.7,320.96 108,320.96 108.3,320.96 108.6,320.96 108.9,320.96 109.2,320.96 109.5,320.96 109.8,320.96 110.1,320.96 110.4,320.96 110.7,320.96 111,320.96 111.3,320.96 111.6,320.96 111.9,320.96 112.2,320.96 112.5,320.95 112.8,320.95 113.1,320.95 113.4,320.95 113.7,320.95 114,320.95 114.3,320.95 114.6,320.95 114.9,320.95 115.2,320.95 115.5,320.95 115.8,320.95 116.1,320.95 116.4,320.95 116.7,320.95 117,320.95 117.3,320.95 117.6,320.95 117.9,320.95 118.2,320.95 118.5,320.94 118.8,320.94 119.1,320.94 119.4,320.94 119.7,320.94 120,320.94 120.3,320.94 120.6,320.94 120.9,320.94 121.2,320.94 121.5,320.93 121.8,320.93 122.1,320.93 122.4,320.93 122.7,320.93 123,320.93 123.3,320.93 123.6,320.92 123.9,320.92 124.2,320.92 124.5,320.92 124.8,320.92 125.1,320.92 125.4,320.91 125.7,320.91 126,320.91 126.3,320.91 126.6,320.9 126.9,320.9 127.2,320.9 127.5,320.9 127.8,320.9 128.1,320.89 128.4,320.89 128.7,320.89 129,320.88 129.3,320.88 129.6,320.88 129.9,320.88 130.2,320.87 130.5,320.87 130.8,320.87 131.1,320.86 131.4,320.86 131.7,320.86 132,320.85 132.3,320.85 132.6,320.84 132.9,320.84 133.2,320.84 133.5,320.83 133.8,320.83 134.1,320.82 134.4,320.82 134.7,320.81 135,320.81 135.3,320.8 135.6,320.8 135.9,320.79 136.2,320.78 136.5,320.78 136.8,320.77 137.1,320.77 137.4,320.76 137.7,320.75 138,320.74 138.3,320.74 138.6,320.73 138.9,320.72 139.2,320.71 139.5,320.7 139.8,320.7 140.1,320.69 140.4,320.68 140.7,320.67 141,320.66 141.3,320.65 141.6,320.64 141.9,320.63 142.2,320.61 142.5,320.6 142.8,320.59 143.1,320.58 143.4,320.56 143.7,320.55 144,320.53 144.3,320.52 144.6,320.5 144.9,320.49 145.2,320.47 145.5,320.45 145.8,320.43 146.1,320.41 146.4,320.39 146.7,320.37 147,320.35 147.3,320.33 147.6,320.3 147.9,320.28 148.2,320.25 148.5,320.22 148.8,320.2 149.1,320.17 149.4,320.13 149.7,320.1 150,320.07 150.3,320.03 150.6,319.99 150.9,319.95 151.2,319.9 151.5,319.86 151.8,319.81 152.1,319.76 152.4,319.7 152.7,319.65 153,319.58 153.3,319.52 153.6,319.45 153.9,319.38 154.2,319.31 154.5,319.23 154.8,319.14 155.1,319.05 155.4,318.95 155.7,318.85 156,318.74 156.3,318.62 156.6,318.49 156.9,318.36 157.2,318.21 157.5,318.06 157.8,317.89 158.1,317.71 158.4,317.51 158.7,317.3 159,317.07 159.3,316.83 159.6,316.56 159.9,316.26 160.2,315.94 160.5,315.6 160.8,315.21 161.1,314.79 161.4,314.33 161.7,313.82 162,313.26 162.3,312.63 162.6,311.94 162.9,311.16 163.2,310.28 163.5,309.29 163.8,308.17 164.1,306.88 164.4,305.38 164.7,303.61 164.9,302.2 165,301.32 165.1,300.05 165.2,297.86 165.3,294.18 165.4,289.22 165.5,283.76 165.6,278.45 165.7,273.6 165.8,269.33 165.9,265.69 166,262.7 166.1,260.37 166.2,258.7 166.3,257.69 166.4,257.36 166.5,257.69 166.6,258.7 166.7,260.37 166.8,262.7 166.9,265.69 167,269.33 167.1,273.6 167.2,278.45 167.3,283.75 167.4,289.21 167.5,294.18 167.6,297.85 167.7,300.04 167.8,301.31 167.9,302.2 168,302.93 168.3,304.81 168.6,306.38 168.9,307.74 169.2,308.91 169.5,309.94 169.8,310.84 170.1,311.64 170.4,312.36 170.7,313 171,313.57 171.3,314.09 171.6,314.55 171.9,314.97 172.2,315.36 172.5,315.7 172.8,316.02 173.1,316.31 173.4,316.57 173.7,316.8 174,317.02 174.3,317.22 174.6,317.4 174.9,317.56 175.2,317.71 175.5,317.85 175.8,317.97 176.1,318.08 176.4,318.18 176.7,318.27 177,318.35 177.3,318.42 177.6,318.48 177.9,318.54 178.2,318.58 178.5,318.61 178.8,318.64 179.1,318.65 179.4,318.66 179.7,318.66 180,318.64 180.3,318.62 180.6,318.58 180.9,318.53 181.2,318.47 181.5,318.39 181.8,318.3 182.1,318.18 182.4,318.04 182.7,317.88 183,317.69 183.3,317.46 183.6,317.2 183.9,316.89 184.2,316.53 184.5,316.1 184.8,315.61 185.1,315.04 185.4,314.33 185.7,313.33 186,311.67 186.1,310.91 186.2,310.03 186.3,309.05 186.4,307.99 186.5,306.9 186.6,305.79 186.7,304.71 186.8,303.68 186.9,302.73 187,301.87 187.1,301.12 187.2,300.5 187.3,300.01 187.4,299.65 187.5,299.44 187.6,299.37 187.7,299.44 187.8,299.65 187.9,300.01 188,300.5 188.1,301.12 188.2,301.87 188.3,302.73 188.4,303.68 188.5,304.71 188.6,305.8 188.7,306.91 188.8,308.01 188.9,309.06 189,310.05 189.1,310.94 189.3,312.37 189.6,313.79 189.9,314.68 190.2,315.37 190.5,315.94 190.8,316.44 191.1,316.87 191.4,317.26 191.7,317.59 192,317.88 192.3,318.14 192.6,318.37 192.9,318.57 193.2,318.75 193.5,318.91 193.8,319.05 194.1,319.18 194.4,319.3 194.7,319.4 195,319.49 195.3,319.58 195.6,319.65 195.9,319.72 196.2,319.77 196.5,319.82 196.8,319.86 197.1,319.89 197.4,319.91 197.7,319.92 198,319.91 198.3,319.89 198.6,319.85 198.9,319.8 199.2,319.72 199.5,319.62 199.8,319.49 200.1,319.34 200.4,319.16 200.7,318.96 201,318.73 201.3,318.49 201.6,318.23 201.9,317.95 202.2,317.66 202.5,317.37 202.8,317.08 203.1,316.8 203.4,316.53 203.7,316.27 204,316.03 204.3,315.81 204.6,315.62 204.9,315.46 205.2,315.33 205.5,315.24 205.8,315.18 206.1,315.15 206.4,315.16 206.7,315.2 207,315.28 207.3,315.4 207.6,315.55 207.9,315.72 208.2,315.93 208.5,316.17 208.8,316.43 209.1,316.7 209.4,317 209.7,317.3 210,317.61 210.3,317.92 210.6,318.23 210.9,318.53 211.2,318.81 211.5,319.08 211.8,319.33 212.1,319.56 212.4,319.76 212.7,319.94 213,320.1 213.3,320.23 213.6,320.34 213.9,320.43 214.2,320.5 214.5,320.55 214.8,320.58 215.1,320.6 215.4,320.6 215.7,320.58 216,320.55 216.3,320.5 216.6,320.43 216.9,320.34 217.2,320.23 217.5,320.09 217.8,319.93 218.1,319.75 218.4,319.54 218.7,319.3 219,319.05 219.3,318.77 219.6,318.48 219.9,318.18 220.2,317.87 220.5,317.56 220.8,317.25 221.1,316.95 221.4,316.66 221.7,316.39 222,316.14 222.3,315.91 222.6,315.71 222.9,315.55 223.2,315.41 223.5,315.31 223.8,315.24 224.1,315.21 224.4,315.22 224.7,315.26 225,315.34 225.3,315.45 225.6,315.6 225.9,315.78 226.2,315.99 226.5,316.22 226.8,316.48 227.1,316.76 227.4,317.06 227.7,317.36 228,317.68 228.3,317.99 228.6,318.3 228.9,318.6 229.2,318.89 229.5,319.16 229.8,319.42 230.1,319.65" fill="none" stroke="#9638ff" stroke-width="1.5" stroke-linejoin="round"/><polygon points="21,255.75 21.3,255.76 21.6,255.93 21.9,254.63 22.2,255.66 22.5,255.61 22.8,255.62 23.1,255.75 23.4,255.67 23.7,256.19 24,255.78 24.3,256.08 24.6,255.6 24.9,255.46 25.2,255.76 25.5,255.56 25.8,255.65 26.1,255.54 26.4,255.55 26.7,255.62 27,255.51 27.3,255.74 27.6,255.38 27.9,255.39 28.2,255.47 28.5,255.67 28.8,255.94 29.1,255.46 29.4,255.44 29.7,256.09 30,255.34 30.3,255.43 30.6,256.01 30.9,255.34 31.2,255.43 31.5,255.46 31.8,255.31 32.1,255.49 32.4,255.39 32.7,255.63 33,255.17 33.3,255.71 33.6,255.01 33.9,255.11 34.2,254.96 34.5,255.27 34.8,253.13 35.1,254.88 35.4,255.02 35.7,254.71 36,254.93 36.3,254.77 36.6,254.83 36.9,254.48 37.2,254.54 37.5,254.16 37.8,253.76 38.1,253.51 38.4,253.23 38.7,252.89 39,251.93 39.3,251.14 39.5,250.62 39.6,249.64 39.7,248.23 39.8,244.8 39.9,239.99 40,234.45 40.1,227.59 40.2,222.34 40.3,217.43 40.4,213.14 40.5,209.5 40.6,206.52 40.7,204.2 40.8,202.55 40.9,201.56 41,201.23 41.1,201.58 41.2,202.59 41.3,204.27 41.4,206.61 41.5,209.62 41.6,213.28 41.7,217.59 41.8,222.52 41.9,228.01 42,234.4 42.1,240.01 42.2,245.31 42.3,248.09 42.4,249.7 42.5,250.35 42.6,250.48 42.9,251.26 43.2,251.67 43.5,252.11 43.8,252.16 44.1,252.18 44.4,252 44.7,252.07 45,251.68 45.3,251.64 45.6,251.32 45.9,251.3 46.2,250.16 46.5,250.33 46.8,248.76 47.1,247.18 47.4,242.58 47.7,236.79 47.8,234.22 47.9,232.03 48,229.98 48.1,228.04 48.2,226.23 48.3,224.56 48.4,223.04 48.5,221.67 48.6,220.46 48.7,219.41 48.8,218.52 48.9,217.79 49,217.23 49.1,216.83 49.2,216.59 49.3,216.52 49.4,216.62 49.5,216.87 49.6,217.29 49.7,217.88 49.8,218.63 49.9,219.54 50,220.61 50.1,221.84 50.2,223.22 50.3,224.75 50.4,226.42 50.5,228.22 50.6,229.88 50.7,232.7 50.8,234.3 51,238.36 51.3,242.48 51.6,243.72 51.9,244.04 52.2,244.21 52.5,243.63 52.8,243.5 53.1,243.4 53.4,243.16 53.7,242.99 54,242.52 54.3,242.37 54.6,242.24 54.9,242.42 55.2,242.13 55.5,241.8 55.8,241.95 56.1,242.06 56.4,242.11 56.7,242.35 57,242.68 57.3,243.05 57.6,243.34 57.9,243.64 58.2,244.19 58.5,245.47 58.8,245.44 59.1,245.92 59.4,246.58 59.7,247.41 60,248.6 60.3,249.13 60.6,250.02 60.9,251.13 61.2,251.7 61.5,252.62 61.8,253.59 62.1,254.11 62.4,255.19 62.7,255.07 63,255.87 63.3,256.31 63.6,256.89 63.9,257.07 64.2,257.32 64.5,257.03 64.8,257.58 65.1,257.28 65.4,257.77 65.7,255.75 66,257.64 66.3,258.08 66.6,257.98 66.9,257.64 67.2,257.5 67.5,257.62 67.8,257.56 68.1,257.76 68.4,257.58 68.7,258.39 69,257.57 69.3,257.53 69.6,258.43 69.9,257.81 70.2,257.73 70.5,257.77 70.8,258.01 71.1,257.8 71.4,258.25 71.7,258.11 72,257.83 72.3,258.04 72.6,257.66 72.9,257.98 73.2,257.83 73.5,257.8 73.8,257.97 74.1,257.9 74.4,257.72 74.7,258.02 75,257.99 75.3,258.1 75.6,258.12 75.9,258.05 76.2,258.11 76.5,257.82 76.8,258.05 77.1,258.36 77.4,256.93 77.7,256.42 78,258.09 78.3,258.02 78.6,258.01 78.9,258.33 79.2,258.28 79.5,258.61 79.8,257.92 80.1,257.89 80.4,258.17 80.7,257.83 81,257.85 81.3,258.2 81.6,258.19 81.9,258.22 82.2,258.03 82.5,258.35 82.8,258.25 83.1,258.23 83.4,258.17 83.7,258.43 84,258.04 84.3,258.3 84.6,258.17 84.9,257.92 85.2,258.07 85.5,258.71 85.8,258.02 86.1,258.07 86.4,258.31 86.7,258.12 87,258.21 87.3,258.28 87.6,257.94 87.9,258.18 88.2,258.75 88.5,258.49 88.8,256.93 89.1,258.3 89.4,258.66 89.7,258.57 90,258.17 90.3,258.14 90.6,258.11 90.9,258.38 91.2,258.12 91.5,258.36 91.8,258.95 92.1,258.07 92.4,258.33 92.7,258.12 93,258.09 93.3,258.5 93.6,258.62 93.9,258.4 94.2,258.32 94.5,258.44 94.8,258.18 95.1,258.23 95.4,256.58 95.7,258.44 96,258.2 96.3,258.13 96.6,258.18 96.9,258.24 97.2,258.51 97.5,258.13 97.8,259.03 98.1,258.3 98.4,258.1 98.7,258.42 99,258.19 99.3,258.17 99.6,258.32 99.9,258.33 100.2,258.25 100.5,258.31 100.8,258.36 101.1,258.3 101.4,258.3 101.7,258.7 102,258.34 102.3,258.37 102.6,258.25 102.9,258.26 103.2,258.55 103.5,258.5 103.8,258.34 104.1,258.2 104.4,258.6 104.7,258.73 105,258.3 105.3,258.64 105.6,258.27 105.9,258.88 106.2,258.7 106.5,258.2 106.8,258.22 107.1,258.19 107.4,258.4 107.7,258.36 108,258.74 108.3,258.56 108.6,258.37 108.9,258.35 109.2,258.8 109.5,258.52 109.8,258.32 110.1,258.85 110.4,258.26 110.7,258.4 111,258.24 111.3,258.65 111.6,258.49 111.9,258.66 112.2,258.3 112.5,258.51 112.8,258.59 113.1,258.49 113.4,258.32 113.7,258.43 114,258.42 114.3,258.29 114.6,258.99 114.9,258.32 115.2,258.56 115.5,258.41 115.8,258.27 116.1,258.86 116.4,258.27 116.7,258.68 117,259 117.3,258.69 117.6,258.51 117.9,258.29 118.2,258.49 118.5,258.33 118.8,258.5 119.1,258.56 119.4,258.61 119.7,258.63 120,258.91 120.3,257.04 120.6,258.88 120.9,258.77 121.2,258.69 121.5,258.37 121.8,258.37 122.1,258.7 122.4,258.74 122.7,258.47 123,258.76 123.3,258.43 123.6,258.3 123.9,258.46 124.2,258.8 124.5,258.58 124.8,258.34 125.1,258.52 125.4,258.43 125.7,258.35 126,258.64 126.3,258.8 126.6,258.57 126.9,258.75 127.2,258.45 127.5,258.41 127.8,258.42 128.1,258.41 128.4,258.48 128.7,258.88 129,258.38 129.3,258.64 129.6,258.48 129.9,258.95 130.2,258.33 130.5,258.74 130.8,257.86 131.1,258.48 131.4,258.54 131.7,258.35 132,258.94 132.3,258.71 132.6,258.87 132.9,258.65 133.2,258.38 133.5,258.59 133.8,258.52 134.1,258.4 134.4,258.87 134.7,258.42 135,258.65 135.3,259.19 135.6,258.37 135.9,258.36 136.2,258.69 136.5,258.45 136.8,258.74 137.1,258.63 137.4,258.37 137.7,258.48 138,258.52 138.3,258.45 138.6,258.72 138.9,258.61 139.2,258.9 139.5,258.41 139.8,258.66 140.1,258.41 140.4,258.57 140.7,258.54 141,258.55 141.3,258.48 141.6,258.76 141.9,256.95 142.2,258.4 142.5,258.3 142.8,258.51 143.1,258.29 143.4,258.61 143.7,258.71 144,258.52 144.3,258.66 144.6,258.49 144.9,258.8 145.2,258.91 145.5,258.18 145.8,258.24 146.1,258.38 146.4,258.51 146.7,258.87 147,258.13 147.3,258.88 147.6,258.23 147.9,258.09 148.2,258.31 148.5,258.35 148.8,258.06 149.1,258.37 149.4,258.09 149.7,258.14 150,258.11 150.3,258.08 150.6,257.98 150.9,258.45 151.2,258.17 151.5,257.98 151.8,258.73 152.1,258.1 152.4,258.09 152.7,258.12 153,258.47 153.3,258.13 153.6,258.03 153.9,258.04 154.2,257.79 154.5,257.67 154.8,257.97 155.1,257.51 155.4,257.49 155.7,257.59 156,257.91 156.3,257.65 156.6,257.25 156.9,257.63 157.2,257.34 157.5,257.18 157.8,257.14 158.1,256.55 158.4,256.8 158.7,256.66 159,256.66 159.3,256.46 159.6,256.43 159.9,256.07 160.2,256.58 160.5,255.97 160.8,255.48 161.1,255.42 161.4,254.81 161.7,254.71 162,254.51 162.3,253.82 162.6,253.51 162.9,253.1 163.2,252 163.5,251.63 163.8,249.67 164.1,249.52 164.4,248.55 164.7,247.02 165,245.57 165.1,244.24 165.2,244.31 165.3,243.52 165.4,241.81 165.5,239.28 165.6,234.46 165.7,228.7 165.8,222.83 165.9,217.34 166,212.47 166.1,208.31 166.2,204.89 166.3,202.22 166.4,200.31 166.5,199.16 166.6,198.78 166.7,199.16 166.8,200.31 166.9,202.22 167,204.89 167.1,208.32 167.2,212.48 167.3,217.35 167.4,222.84 167.5,228.71 167.6,234.86 167.7,239.1 167.8,241.66 167.9,243.45 168,244.31 168.1,244.85 168.3,246 168.6,247.53 168.9,247.28 169.2,249.87 169.5,250.96 169.8,251.6 170.1,252.32 170.4,252.91 170.7,253.51 171,254.14 171.3,254.35 171.6,254.67 171.9,254.92 172.2,255.26 172.5,256.16 172.8,255.85 173.1,255.86 173.4,256.06 173.7,256.53 174,256.31 174.3,257.02 174.6,256.83 174.9,256.83 175.2,256.91 175.5,256.83 175.8,257.2 176.1,256.98 176.4,257.13 176.7,257.07 177,257.4 177.3,257.23 177.6,257.38 177.9,257.88 178.2,257.61 178.5,258.02 178.8,257.68 179.1,257.32 179.4,257.5 179.7,257.29 180,257.52 180.3,257.4 180.6,257.29 180.9,257.4 181.2,257.48 181.5,257.65 181.8,256.96 182.1,257 182.4,257.14 182.7,256.72 183,256.43 183.3,255.94 183.6,256.48 183.9,256.06 184.2,256.09 184.5,255.24 184.8,254.8 185.1,254.11 185.4,253.86 185.7,252.59 186,250.54 186.2,248.56 186.3,247.96 186.4,245.99 186.5,244.51 186.6,243.54 186.7,242.13 186.8,240.79 186.9,239.35 187,238.39 187.1,237.46 187.2,236.52 187.3,236.34 187.4,235.74 187.5,235.1 187.6,234.74 187.7,234.74 187.8,234.89 187.9,235.21 188,235.33 188.1,235.99 188.2,236.49 188.3,237.77 188.4,238.59 188.5,239.52 188.6,240.45 188.7,241.96 188.8,243.21 188.9,244.68 189,246.08 189.1,247.22 189.2,248.68 189.3,249.52 189.6,252.44 189.9,253.86 190.2,254.07 190.5,255.05 190.8,255.19 191.1,255.67 191.4,256.42 191.7,256.19 192,256.82 192.3,257.07 192.6,257.05 192.9,257 193.2,257.11 193.5,257.2 193.8,257.44 194.1,258 194.4,258.16 194.7,257.6 195,257.91 195.3,258.13 195.6,257.92 195.9,257.97 196.2,257.97 196.5,258.08 196.8,258.21 197.1,257.98 197.4,257.82 197.7,258.25 198,257.79 198.3,257.88 198.6,257.65 198.9,257.7 199.2,257.85 199.5,257.57 199.8,257.17 200.1,256.6 200.4,256.16 200.7,255.89 201,255.58 201.3,253.99 201.6,255.1 201.9,255.07 202.2,254.77 202.5,254.78 202.8,254.6 203.1,253.59 203.4,253.82 203.7,253.28 204,253.24 204.3,252.82 204.6,253.02 204.9,253.08 205.2,252.95 205.5,252.91 205.8,252.78 206.1,253.16 206.4,253.37 206.7,253.16 207,253.73 207.3,253.57 207.6,254.3 207.9,254.18 208.2,254.31 208.5,255.37 208.8,255.22 209.1,255.5 209.4,255.71 209.7,255.86 210,256.2 210.3,257.01 210.6,257.11 210.9,257.25 211.2,257.88 211.5,257.73 211.8,257.93 212.1,258.1 212.4,258.49 212.7,258.37 213,258.72 213.3,258.51 213.6,258.75 213.9,258.77 214.2,258.76 214.5,259.22 214.8,259.05 215.1,258.79 215.4,259.1 215.7,259.47 216,259.36 216.3,258.52 216.6,259.1 216.9,259.17 217.2,259.01 217.5,258.82 217.8,258.86 218.1,259.09 218.4,258.93 218.7,258.97 219,258.88 219.3,259.6 219.6,258.97 219.9,259.32 220.2,258.98 220.5,258.9 220.8,259.06 221.1,259.02 221.4,259.25 221.7,258.95 222,259.22 222.3,259.95 222.6,259.07 222.9,259.56 223.2,259.51 223.5,259.15 223.8,259.13 224.1,259.55 224.4,259.18 224.7,258.49 225,259.16 225.3,259.15 225.6,259.46 225.9,259.32 226.2,259.4 226.5,259.29 226.8,259.21 227.1,259.37 227.4,259.31 227.7,259.24 228,258.98 228.3,258.04 228.6,259.22 228.9,259.17 229.2,259.37 229.5,259.1 229.8,258.94 230.1,259.26 230.1,271.46 229.8,272.76 229.5,272.56 229.2,273.17 228.9,273.19 228.6,269.24 228.3,274.01 228,274.72 227.7,274.88 227.4,274.71 227.1,268.75 226.8,268.98 226.5,268.33 226.2,269.01 225.9,270.07 225.6,269.35 225.3,270.14 225,269.51 224.7,273.65 224.4,272.61 224.1,269.3 223.8,267.82 223.5,272.9 223.2,268.22 222.9,269.7 222.6,269.75 222.3,268.67 222,268.4 221.7,267.58 221.4,272.23 221.1,271.88 220.8,268.12 220.5,268.39 220.2,268.91 219.9,269.04 219.6,269.72 219.3,268.69 219,269.19 218.7,268.77 218.4,271.79 218.1,272.62 217.8,268.14 217.5,268.82 217.2,270.82 216.9,268.58 216.6,268.65 216.3,267.23 216,268.36 215.7,267.99 215.4,268.66 215.1,269.56 214.8,267.79 214.5,268.88 214.2,267.71 213.9,267.49 213.6,268.33 213.3,267.95 213,269.41 212.7,270.34 212.4,269.64 212.1,266.72 211.8,266.63 211.5,266.38 211.2,265.98 210.9,265.07 210.6,263.96 210.3,264.18 210,263.42 209.7,262.89 209.4,262.58 209.1,261.87 208.8,261.03 208.5,260.77 208.2,259.52 207.9,259.22 207.6,258.9 207.3,258.39 207,257.51 206.7,257.93 206.4,258.23 206.1,258.38 205.8,257.88 205.5,257.76 205.2,257.49 204.9,257.51 204.6,257.77 204.3,259.27 204,259.55 203.7,259.11 203.4,258.77 203.1,258.85 202.8,259.25 202.5,258.96 202.2,259.56 201.9,261.28 201.6,265.53 201.3,266.81 201,266.49 200.7,263.9 200.4,265.47 200.1,261.95 199.8,262.99 199.5,263.7 199.2,263.03 198.9,269.93 198.6,270.12 198.3,270.57 198,265.82 197.7,267.07 197.4,265.28 197.1,265.82 196.8,269.51 196.5,269.04 196.2,264.9 195.9,264.65 195.6,265.27 195.3,264.54 195,264.39 194.7,264.91 194.4,264.45 194.1,264.69 193.8,263.7 193.5,264.16 193.2,269.76 192.9,268.66 192.6,263.05 192.3,263.3 192,261.36 191.7,262.04 191.4,262.14 191.1,261.66 190.8,261.01 190.5,258.96 190.2,257.84 189.9,258.17 189.6,255.97 189.3,251.87 189.2,252.14 189.1,249.38 189,248.2 188.9,247.55 188.8,245.6 188.7,243.95 188.6,241.89 188.5,241.26 188.4,240.59 188.3,239.29 188.2,238.37 188.1,237.73 188,237.45 187.9,236.7 187.8,236.68 187.7,236.73 187.6,236 187.5,236.29 187.4,237.38 187.3,237.74 187.2,238.13 187.1,238.47 187,239.84 186.9,241.49 186.8,242.94 186.7,243.24 186.6,245.88 186.5,246.16 186.4,248.79 186.3,252.99 186.2,255.01 186,254.56 185.7,259.14 185.4,258.86 185.1,259.74 184.8,259.37 184.5,261.61 184.2,261.03 183.9,261.18 183.6,262.07 183.3,262.56 183,262.26 182.7,262.92 182.4,266.28 182.1,266.37 181.8,265.44 181.5,266.62 181.2,263.95 180.9,264.73 180.6,264.16 180.3,264.39 180,264.17 179.7,264.31 179.4,265.34 179.1,262.61 178.8,264.42 178.5,270.47 178.2,270.18 177.9,269.77 177.6,263.82 177.3,264.02 177,263.49 176.7,263.64 176.4,263.24 176.1,263.39 175.8,263.66 175.5,269.49 175.2,263.2 174.9,263.31 174.6,263.35 174.3,262.03 174,263.35 173.7,262.9 173.4,262.82 173.1,261.91 172.8,261.35 172.5,261.34 172.2,259.91 171.9,265.2 171.6,265.62 171.3,259.76 171,257.7 170.7,258.71 170.4,259.12 170.1,258.25 169.8,257.56 169.5,255.61 169.2,253.6 168.9,252.58 168.6,250.92 168.3,248.55 168.1,247.51 168,246.84 167.9,245.89 167.8,243.73 167.7,239.92 167.6,234.97 167.5,230.65 167.4,224.62 167.3,219.12 167.2,214.19 167.1,209.91 167,206.45 166.9,203.77 166.8,201.9 166.7,200.74 166.6,200.36 166.5,200.74 166.4,201.85 166.3,203.77 166.2,206.45 166.1,209.89 166,214.09 165.9,219.01 165.8,224.59 165.7,230.64 165.6,236.6 165.5,241.42 165.4,244.31 165.3,245.91 165.2,247.8 165.1,249.31 165,249.49 164.7,248.83 164.4,251.73 164.1,252.74 163.8,253.82 163.5,255.04 163.2,256.81 162.9,256.57 162.6,259.18 162.3,258.74 162,263.24 161.7,264.33 161.4,260.4 161.1,260.78 160.8,260.43 160.5,261.35 160.2,262.01 159.9,261.58 159.6,262.78 159.3,262.91 159,261.93 158.7,264.19 158.4,264.91 158.1,264.3 157.8,265.23 157.5,264.18 157.2,267.76 156.9,264.11 156.6,264.2 156.3,264.46 156,264.81 155.7,264.51 155.4,264.81 155.1,264.65 154.8,264.02 154.5,265.56 154.2,265.45 153.9,266.19 153.6,266.48 153.3,264.4 153,265.79 152.7,265.3 152.4,265.03 152.1,264.78 151.8,265.37 151.5,265.4 151.2,265.71 150.9,270.89 150.6,271.7 150.3,271.3 150,265.88 149.7,265.73 149.4,265.76 149.1,266.36 148.8,265.8 148.5,266.43 148.2,263.64 147.9,266.08 147.6,265.9 147.3,265.86 147,266.23 146.7,264.12 146.4,267.27 146.1,270.85 145.8,270.41 145.5,271.9 145.2,270.9 144.9,265.61 144.6,266.28 144.3,264.92 144,265.03 143.7,265.89 143.4,266.13 143.1,265.94 142.8,268.83 142.5,268.84 142.2,269.82 141.9,267.88 141.6,266.22 141.3,268.96 141,269.26 140.7,268.13 140.4,268.24 140.1,265.03 139.8,265.49 139.5,265.82 139.2,268.01 138.9,267.98 138.6,268.75 138.3,264.77 138,267.31 137.7,266.42 137.4,270.07 137.1,269.86 136.8,269.49 136.5,270.15 136.2,265.56 135.9,265.94 135.6,265.33 135.3,266.15 135,265.73 134.7,264.7 134.4,265.4 134.1,266.21 133.8,265.97 133.5,266.49 133.2,266.11 132.9,266.14 132.6,266.56 132.3,265.46 132,266.44 131.7,265.98 131.4,266 131.1,265.03 130.8,268.8 130.5,268.57 130.2,266.28 129.9,265.65 129.6,265.22 129.3,267.81 129,267.92 128.7,267.86 128.4,267.69 128.1,266.29 127.8,265.97 127.5,266.23 127.2,265.43 126.9,265.89 126.6,265.63 126.3,267.72 126,267.46 125.7,267.56 125.4,266.31 125.1,265.36 124.8,265.74 124.5,265.53 124.2,266.68 123.9,265.32 123.6,266.79 123.3,266.67 123,266.49 122.7,266.16 122.4,266.5 122.1,266.21 121.8,265.62 121.5,266.04 121.2,266.11 120.9,272.29 120.6,272.27 120.3,272.43 120,272.24 119.7,265.75 119.4,271.12 119.1,270.9 118.8,271.77 118.5,270.16 118.2,265.87 117.9,272.07 117.6,271.67 117.3,271.13 117,271.36 116.7,269.86 116.4,270.92 116.1,270.94 115.8,267.48 115.5,267 115.2,271.08 114.9,272.12 114.6,272.02 114.3,266.88 114,267.04 113.7,265.77 113.4,265.67 113.1,266.36 112.8,266.51 112.5,269.38 112.2,270.25 111.9,270.73 111.6,269.55 111.3,265.31 111,266.03 110.7,265.69 110.4,266.26 110.1,265.32 109.8,266.5 109.5,265.58 109.2,266.31 108.9,265.83 108.6,267.17 108.3,265.96 108,266.93 107.7,267.09 107.4,264.84 107.1,271.5 106.8,266.39 106.5,269.96 106.2,269.76 105.9,267.63 105.6,266.43 105.3,266.27 105,267.22 104.7,268.19 104.4,267.29 104.1,268.11 103.8,268.02 103.5,267.71 103.2,267.99 102.9,265.81 102.6,265.98 102.3,266 102,265.18 101.7,265.74 101.4,266.05 101.1,265.69 100.8,266.23 100.5,272.19 100.2,272.22 99.9,271.69 99.6,266.11 99.3,268.84 99,268.44 98.7,268.74 98.4,267.89 98.1,266.05 97.8,266.13 97.5,266.19 97.2,267.52 96.9,265.99 96.6,265.01 96.3,266.25 96,268.92 95.7,268.75 95.4,267.96 95.1,267.7 94.8,265.9 94.5,266.7 94.2,266.85 93.9,266.1 93.6,266.75 93.3,265.25 93,269.68 92.7,269.92 92.4,269.7 92.1,271.57 91.8,271.34 91.5,271.89 91.2,265.87 90.9,264.97 90.6,266.12 90.3,266.21 90,265.39 89.7,265.33 89.4,267.29 89.1,267.14 88.8,266.44 88.5,265.28 88.2,265.41 87.9,267.37 87.6,265.9 87.3,270.23 87,270.8 86.7,266 86.4,265.55 86.1,265.36 85.8,264.73 85.5,266.16 85.2,265.62 84.9,264.97 84.6,267.22 84.3,265.65 84,264.81 83.7,264.8 83.4,265.56 83.1,266.95 82.8,272.13 82.5,271.82 82.2,267.79 81.9,265.97 81.6,265.94 81.3,271.09 81,271.5 80.7,271.96 80.4,271.57 80.1,265.96 79.8,265.36 79.5,265.89 79.2,270.99 78.9,269.98 78.6,265.89 78.3,265.88 78,265.12 77.7,265.19 77.4,265.55 77.1,265.62 76.8,265.86 76.5,265.83 76.2,265.21 75.9,267.57 75.6,265.58 75.3,269.26 75,268.11 74.7,269.56 74.4,266.93 74.1,266.66 73.8,270.04 73.5,269.74 73.2,270.1 72.9,267.36 72.6,264.74 72.3,266.27 72,266.21 71.7,265.79 71.4,265.71 71.1,265.45 70.8,265.45 70.5,265.97 70.2,265.26 69.9,266.37 69.6,264.1 69.3,265.45 69,265.6 68.7,265.59 68.4,265.08 68.1,268.1 67.8,269.53 67.5,269.41 67.2,268.17 66.9,264.37 66.6,265.34 66.3,265.54 66,265.19 65.7,263.81 65.4,264.91 65.1,262.54 64.8,264.22 64.5,264.22 64.2,264.39 63.9,263.65 63.6,262.9 63.3,262.87 63,261.78 62.7,261.55 62.4,260.04 62.1,263.59 61.8,261.59 61.5,260.14 61.2,260.25 60.9,254.05 60.6,254.2 60.3,253.17 60,251.94 59.7,250.48 59.4,249.64 59.1,249.4 58.8,248.37 58.5,246.8 58.2,247.06 57.9,246.05 57.6,245.52 57.3,245.36 57,244.05 56.7,244.07 56.4,244.82 56.1,244.58 55.8,244.04 55.5,244.61 55.2,244.48 54.9,244.79 54.6,244.46 54.3,245.02 54,244.52 53.7,245.52 53.4,244.16 53.1,245.72 52.8,245.31 52.5,246.12 52.2,245.89 51.9,246.87 51.6,246.47 51.3,244.92 51,239.39 50.8,234.97 50.7,233.13 50.6,232.14 50.5,230.15 50.4,228.29 50.3,226.57 50.2,225 50.1,223.59 50,222.34 49.9,221.25 49.8,220.32 49.7,219.56 49.6,218.97 49.5,218.54 49.4,218.28 49.3,218.18 49.2,218.26 49.1,218.5 49,218.9 48.9,219.47 48.8,220.21 48.7,221.12 48.6,222.19 48.5,223.42 48.4,224.82 48.3,226.38 48.2,228.09 48.1,229.96 48,231.98 47.9,234.12 47.8,236.22 47.7,238.49 47.4,244.86 47.1,249.78 46.8,252.14 46.5,253.58 46.2,254.48 45.9,254.68 45.6,254.6 45.3,255.63 45,256.34 44.7,255.56 44.4,256.13 44.1,256.4 43.8,255.76 43.5,255.86 43.2,255.55 42.9,254.61 42.6,254.39 42.5,253.98 42.4,252.88 42.3,251.27 42.2,247.27 42.1,240.85 42,235.64 41.9,229.92 41.8,224.28 41.7,219.26 41.6,214.9 41.5,211.21 41.4,208.18 41.3,205.83 41.2,204.14 41.1,203.12 41,202.78 40.9,203.1 40.8,204.09 40.7,205.76 40.6,208.09 40.5,211.09 40.4,214.76 40.3,219.1 40.2,224.09 40.1,229.71 40,234.73 39.9,241.81 39.8,247.7 39.7,250.87 39.6,253.24 39.5,253.59 39.3,255.28 39,255.6 38.7,257.29 38.4,257.98 38.1,258.1 37.8,258.03 37.5,259.05 37.2,258.83 36.9,258.72 36.6,259.43 36.3,259 36,259.79 35.7,259.87 35.4,258.64 35.1,259.39 34.8,259.61 34.5,260.42 34.2,260.7 33.9,260.57 33.6,260.28 33.3,260.73 33,260.32 32.7,260.46 32.4,261.09 32.1,261.02 31.8,260.84 31.5,260 31.2,260.2 30.9,261.12 30.6,259.99 30.3,260.9 30,260.87 29.7,260.4 29.4,260.03 29.1,261.38 28.8,261.45 28.5,261.32 28.2,261.09 27.9,260.97 27.6,260.82 27.3,261.13 27,261.32 26.7,260.99 26.4,260.2 26.1,261.39 25.8,267.29 25.5,266.95 25.2,266.53 24.9,261.47 24.6,260.88 24.3,261.17 24,260.54 23.7,261.63 23.4,260.99 23.1,261.36 22.8,260.77 22.5,260.55 22.2,260.76 21.9,261.27 21.6,260.84 21.3,261.02 21,261.6" fill="#1f34ff"/><polyline points="21,258.63 21.3,258.62 21.6,258.62 21.9,258.62 22.2,258.61 22.5,258.61 22.8,258.6 23.1,258.6 23.4,258.59 23.7,258.59 24,258.58 24.3,258.58 24.6,258.57 24.9,258.57 25.2,258.56 25.5,258.55 25.8,258.54 26.1,258.53 26.4,258.53 26.7,258.52 27,258.51 27.3,258.5 27.6,258.48 27.9,258.47 28.2,258.46 28.5,258.45 28.8,258.43 29.1,258.42 29.4,258.4 29.7,258.38 30,258.36 30.3,258.34 30.6,258.32 30.9,258.3 31.2,258.27 31.5,258.25 31.8,258.22 32.1,258.18 32.4,258.15 32.7,258.11 33,258.07 33.3,258.03 33.6,257.98 33.9,257.93 34.2,257.88 34.5,257.81 34.8,257.74 35.1,257.67 35.4,257.58 35.7,257.48 36,257.37 36.3,257.25 36.6,257.1 36.9,256.94 37.2,256.74 37.5,256.51 37.8,256.22 38.1,255.89 38.4,255.49 38.7,254.98 39,254.3 39.3,253.39 39.5,252.5 39.6,251.68 39.7,249.91 39.8,246.32 39.9,240.92 40,234.79 40.1,228.77 40.2,223.22 40.3,218.26 40.4,213.95 40.5,210.3 40.6,207.31 40.7,204.98 40.8,203.32 40.9,202.33 41,202 41.1,202.35 41.2,203.37 41.3,205.05 41.4,207.4 41.5,210.41 41.6,214.09 41.7,218.42 41.8,223.4 41.9,228.97 42,235 42.1,241.12 42.2,246.44 42.3,249.89 42.4,251.54 42.5,252.28 42.6,252.71 42.9,253.53 43.2,254.04 43.5,254.33 43.8,254.47 44.1,254.49 44.4,254.41 44.7,254.25 45,254.01 45.3,253.69 45.6,253.3 45.9,252.84 46.2,252.29 46.5,251.63 46.8,250.67 47.1,248.61 47.4,244.06 47.7,237.52 47.8,235.27 47.9,233.07 48,230.98 48.1,229 48.2,227.16 48.3,225.47 48.4,223.93 48.5,222.55 48.6,221.32 48.7,220.26 48.8,219.37 48.9,218.63 49,218.06 49.1,217.66 49.2,217.42 49.3,217.35 49.4,217.45 49.5,217.71 49.6,218.13 49.7,218.72 49.8,219.48 49.9,220.39 50,221.47 50.1,222.71 50.2,224.11 50.3,225.66 50.4,227.36 50.5,229.19 50.6,231.13 50.7,233.17 50.8,235.26 51,239.32 51.3,243.74 51.6,245.25 51.9,245.33 52.2,245.11 52.5,244.86 52.8,244.65 53.1,244.46 53.4,244.29 53.7,244.12 54,243.95 54.3,243.77 54.6,243.6 54.9,243.45 55.2,243.33 55.5,243.26 55.8,243.24 56.1,243.29 56.4,243.41 56.7,243.59 57,243.85 57.3,244.18 57.6,244.58 57.9,245.05 58.2,245.59 58.5,246.19 58.8,246.87 59.1,247.6 59.4,248.4 59.7,249.25 60,250.14 60.3,251.08 60.6,252.04 60.9,253.02 61.2,254 61.5,254.97 61.8,255.9 62.1,256.79 62.4,257.61 62.7,258.35 63,259 63.3,259.53 63.6,259.96 63.9,260.31 64.2,260.59 64.5,260.81 64.8,260.97 65.1,261.09 65.4,261.19 65.7,261.26 66,261.32 66.3,261.36 66.6,261.4 66.9,261.43 67.2,261.46 67.5,261.48 67.8,261.5 68.1,261.52 68.4,261.54 68.7,261.56 69,261.57 69.3,261.59 69.6,261.61 69.9,261.62 70.2,261.63 70.5,261.65 70.8,261.66 71.1,261.68 71.4,261.69 71.7,261.7 72,261.71 72.3,261.72 72.6,261.74 72.9,261.75 73.2,261.76 73.5,261.77 73.8,261.78 74.1,261.79 74.4,261.8 74.7,261.81 75,261.82 75.3,261.83 75.6,261.83 75.9,261.84 76.2,261.85 76.5,261.86 76.8,261.87 77.1,261.88 77.4,261.88 77.7,261.89 78,261.9 78.3,261.91 78.6,261.91 78.9,261.92 79.2,261.93 79.5,261.93 79.8,261.94 80.1,261.95 80.4,261.95 80.7,261.96 81,261.97 81.3,261.97 81.6,261.98 81.9,261.99 82.2,261.99 82.5,262 82.8,262 83.1,262.01 83.4,262.02 83.7,262.02 84,262.03 84.3,262.03 84.6,262.04 84.9,262.04 85.2,262.05 85.5,262.05 85.8,262.06 86.1,262.06 86.4,262.07 86.7,262.07 87,262.08 87.3,262.08 87.6,262.09 87.9,262.09 88.2,262.1 88.5,262.1 88.8,262.11 89.1,262.11 89.4,262.12 89.7,262.12 90,262.13 90.3,262.13 90.6,262.13 90.9,262.14 91.2,262.14 91.5,262.15 91.8,262.15 92.1,262.16 92.4,262.16 92.7,262.16 93,262.17 93.3,262.17 93.6,262.18 93.9,262.18 94.2,262.18 94.5,262.19 94.8,262.19 95.1,262.2 95.4,262.2 95.7,262.2 96,262.21 96.3,262.21 96.6,262.22 96.9,262.22 97.2,262.22 97.5,262.23 97.8,262.23 98.1,262.23 98.4,262.24 98.7,262.24 99,262.25 99.3,262.25 99.6,262.25 99.9,262.26 100.2,262.26 100.5,262.26 100.8,262.27 101.1,262.27 101.4,262.27 101.7,262.28 102,262.28 102.3,262.28 102.6,262.29 102.9,262.29 103.2,262.29 103.5,262.3 103.8,262.3 104.1,262.3 104.4,262.31 104.7,262.31 105,262.31 105.3,262.32 105.6,262.32 105.9,262.32 106.2,262.33 106.5,262.33 106.8,262.33 107.1,262.34 107.4,262.34 107.7,262.34 108,262.34 108.3,262.35 108.6,262.35 108.9,262.35 109.2,262.36 109.5,262.36 109.8,262.36 110.1,262.36 110.4,262.37 110.7,262.37 111,262.37 111.3,262.38 111.6,262.38 111.9,262.38 112.2,262.38 112.5,262.39 112.8,262.39 113.1,262.39 113.4,262.4 113.7,262.4 114,262.4 114.3,262.4 114.6,262.41 114.9,262.41 115.2,262.41 115.5,262.41 115.8,262.42 116.1,262.42 116.4,262.42 116.7,262.42 117,262.43 117.3,262.43 117.6,262.43 117.9,262.43 118.2,262.43 118.5,262.44 118.8,262.44 119.1,262.44 119.4,262.44 119.7,262.45 120,262.45 120.3,262.45 120.6,262.45 120.9,262.45 121.2,262.45 121.5,262.45 121.8,262.45 122.1,262.45 122.4,262.45 122.7,262.45 123,262.45 123.3,262.45 123.6,262.45 123.9,262.45 124.2,262.45 124.5,262.45 124.8,262.45 125.1,262.45 125.4,262.45 125.7,262.45 126,262.45 126.3,262.45 126.6,262.45 126.9,262.45 127.2,262.45 127.5,262.45 127.8,262.45 128.1,262.45 128.4,262.45 128.7,262.45 129,262.45 129.3,262.45 129.6,262.45 129.9,262.45 130.2,262.44 130.5,262.44 130.8,262.44 131.1,262.44 131.4,262.44 131.7,262.44 132,262.44 132.3,262.44 132.6,262.43 132.9,262.43 133.2,262.43 133.5,262.43 133.8,262.43 134.1,262.43 134.4,262.42 134.7,262.42 135,262.42 135.3,262.42 135.6,262.41 135.9,262.41 136.2,262.41 136.5,262.41 136.8,262.4 137.1,262.4 137.4,262.4 137.7,262.39 138,262.39 138.3,262.38 138.6,262.38 138.9,262.38 139.2,262.37 139.5,262.37 139.8,262.36 140.1,262.36 140.4,262.35 140.7,262.35 141,262.34 141.3,262.34 141.6,262.33 141.9,262.32 142.2,262.32 142.5,262.31 142.8,262.3 143.1,262.29 143.4,262.29 143.7,262.28 144,262.27 144.3,262.26 144.6,262.25 144.9,262.24 145.2,262.23 145.5,262.22 145.8,262.21 146.1,262.2 146.4,262.18 146.7,262.17 147,262.16 147.3,262.14 147.6,262.13 147.9,262.11 148.2,262.09 148.5,262.08 148.8,262.06 149.1,262.04 149.4,262.02 149.7,261.99 150,261.97 150.3,261.95 150.6,261.92 150.9,261.9 151.2,261.87 151.5,261.84 151.8,261.81 152.1,261.77 152.4,261.74 152.7,261.7 153,261.66 153.3,261.62 153.6,261.57 153.9,261.52 154.2,261.47 154.5,261.42 154.8,261.36 155.1,261.3 155.4,261.23 155.7,261.16 156,261.08 156.3,261 156.6,260.91 156.9,260.82 157.2,260.71 157.5,260.6 157.8,260.48 158.1,260.35 158.4,260.21 158.7,260.05 159,259.88 159.3,259.7 159.6,259.5 159.9,259.28 160.2,259.03 160.5,258.76 160.8,258.47 161.1,258.14 161.4,257.77 161.7,257.36 162,256.91 162.3,256.4 162.6,255.83 162.9,255.18 163.2,254.45 163.5,253.62 163.8,252.66 164.1,251.56 164.4,250.28 164.7,248.78 165,246.98 165.1,246.3 165.2,245.54 165.3,244.58 165.4,243.06 165.5,240.19 165.6,235.5 165.7,229.67 165.8,223.71 165.9,218.17 166,213.28 166.1,209.1 166.2,205.67 166.3,202.99 166.4,201.08 166.5,199.93 166.6,199.55 166.7,199.93 166.8,201.08 166.9,203 167,205.67 167.1,209.11 167.2,213.29 167.3,218.18 167.4,223.72 167.5,229.68 167.6,235.51 167.7,240.21 167.8,243.07 167.9,244.59 168,245.55 168.1,246.31 168.3,247.63 168.6,249.32 168.9,250.75 169.2,251.96 169.5,253.01 169.8,253.92 170.1,254.71 170.4,255.41 170.7,256.02 171,256.57 171.3,257.05 171.6,257.48 171.9,257.87 172.2,258.21 172.5,258.52 172.8,258.79 173.1,259.04 173.4,259.27 173.7,259.47 174,259.65 174.3,259.81 174.6,259.96 174.9,260.09 175.2,260.21 175.5,260.32 175.8,260.42 176.1,260.5 176.4,260.58 176.7,260.64 177,260.7 177.3,260.75 177.6,260.79 177.9,260.82 178.2,260.85 178.5,260.86 178.8,260.87 179.1,260.87 179.4,260.86 179.7,260.84 180,260.82 180.3,260.78 180.6,260.73 180.9,260.67 181.2,260.59 181.5,260.5 181.8,260.4 182.1,260.27 182.4,260.12 182.7,259.95 183,259.74 183.3,259.51 183.6,259.23 183.9,258.91 184.2,258.53 184.5,258.08 184.8,257.57 185.1,256.95 185.4,256.16 185.7,254.92 186,252.61 186.2,250.26 186.3,248.88 186.4,247.43 186.5,245.95 186.6,244.48 186.7,243.07 186.8,241.73 186.9,240.5 187,239.39 187.1,238.41 187.2,237.57 187.3,236.88 187.4,236.34 187.5,235.95 187.6,235.71 187.7,235.63 187.8,235.71 187.9,235.95 188,236.34 188.1,236.88 188.2,237.58 188.3,238.42 188.4,239.4 188.5,240.51 188.6,241.75 188.7,243.08 188.8,244.5 188.9,245.97 189,247.45 189.1,248.91 189.2,250.29 189.3,251.55 189.6,254.37 189.9,255.91 190.2,256.82 190.5,257.51 190.8,258.08 191.1,258.58 191.4,259.01 191.7,259.38 192,259.71 192.3,259.99 192.6,260.24 192.9,260.46 193.2,260.66 193.5,260.83 193.8,260.98 194.1,261.12 194.4,261.24 194.7,261.34 195,261.44 195.3,261.52 195.6,261.58 195.9,261.63 196.2,261.67 196.5,261.69 196.8,261.69 197.1,261.67 197.4,261.63 197.7,261.56 198,261.46 198.3,261.33 198.6,261.16 198.9,260.96 199.2,260.73 199.5,260.45 199.8,260.15 200.1,259.82 200.4,259.49 200.7,259.13 201,258.77 201.3,258.39 201.6,258.02 201.9,257.65 202.2,257.3 202.5,256.96 202.8,256.64 203.1,256.36 203.4,256.1 203.7,255.88 204,255.69 204.3,255.55 204.6,255.44 204.9,255.37 205.2,255.35 205.5,255.37 205.8,255.44 206.1,255.55 206.4,255.7 206.7,255.89 207,256.12 207.3,256.39 207.6,256.7 207.9,257.04 208.2,257.41 208.5,257.8 208.8,258.22 209.1,258.65 209.4,259.1 209.7,259.55 210,260 210.3,260.44 210.6,260.87 210.9,261.27 211.2,261.66 211.5,262.01 211.8,262.34 212.1,262.63 212.4,262.88 212.7,263.11 213,263.3 213.3,263.44 213.6,263.56 213.9,263.65 214.2,263.73 214.5,263.79 214.8,263.84 215.1,263.88 215.4,263.9 215.7,263.93 216,263.95 216.3,263.96 216.6,263.97 216.9,263.98 217.2,263.99 217.5,263.99 217.8,264 218.1,264.01 218.4,264.01 218.7,264.02 219,264.02 219.3,264.02 219.6,264.03 219.9,264.03 220.2,264.04 220.5,264.04 220.8,264.04 221.1,264.05 221.4,264.05 221.7,264.05 222,264.06 222.3,264.06 222.6,264.07 222.9,264.07 223.2,264.07 223.5,264.08 223.8,264.08 224.1,264.08 224.4,264.09 224.7,264.09 225,264.09 225.3,264.1 225.6,264.1 225.9,264.1 226.2,264.1 226.5,264.11 226.8,264.11 227.1,264.11 227.4,264.12 227.7,264.12 228,264.12 228.3,264.13 228.6,264.13 228.9,264.13 229.2,264.13 229.5,264.14 229.8,264.14 230.1,264.14" fill="none" stroke="#1f34ff" stroke-width="1.5" stroke-linejoin="round"/><rect x="20.5" y="187" width="210.3" height="144.5" fill="none" stroke="#1a1a1a" stroke-width="1.1"/><text x="20.5" y="341.8" font-family='"Liberation Sans", sans-serif' font-size="9" fill="#000"></text><text x="50.54" y="341.8" font-family='"Liberation Sans", sans-serif' font-size="9" fill="#000" text-anchor="middle">40</text><text x="110.63" y="341.8" font-family='"Liberation Sans", sans-serif' font-size="9" fill="#000" text-anchor="middle">60</text><text x="170.71" y="341.8" font-family='"Liberation Sans", sans-serif' font-size="9" fill="#000" text-anchor="middle">80</text><text x="230.8" y="341.8" font-family='"Liberation Sans", sans-serif' font-size="9" fill="#000" text-anchor="middle">100</text><g transform="translate(113.9,353.9)" font-family='"Liberation Serif", serif' fill="#000"><text x="0" y="0" font-size="10.5" font-style="italic" xml:space="preserve">2</text><text x="5.75" y="0" font-size="10.5" font-style="italic" xml:space="preserve">θ</text><text x="11.21" y="0" font-size="10.5" xml:space="preserve">(</text><text x="14.5" y="0" font-size="10.5" fill="#8a8a8a" xml:space="preserve">°</text><text x="18.5" y="0" font-size="10.5" xml:space="preserve">)</text></g><text transform="translate(12.5,259.8) rotate(-90)" font-family='"Liberation Sans", sans-serif' font-size="9.2" fill="#000" text-anchor="middle">Intensity (arb. units)</text><text x="31.8" y="195.8" font-family='"Liberation Sans", sans-serif' font-size="9" fill="#000">MgO(111)</text><g transform="translate(44.3,213.2)" font-family='"Liberation Sans", sans-serif' fill="#000"><text x="0" y="0" font-size="9" xml:space="preserve">Mn</text><text x="12.5" y="1.98" font-size="6.3" xml:space="preserve">3</text><text x="16.01" y="0" font-size="9" xml:space="preserve">Sn(0002)</text></g><text x="54.8" y="236.9" font-family='"Liberation Sans", sans-serif' font-size="9" fill="#000">Ru(0002)</text><text x="156.8" y="195.6" font-family='"Liberation Sans", sans-serif' font-size="9" fill="#000">MgO(222)</text><g transform="translate(175,230.7)" font-family='"Liberation Sans", sans-serif' fill="#000"><text x="0" y="0" font-size="9" xml:space="preserve">Mn</text><text x="12.5" y="1.98" font-size="6.3" xml:space="preserve">3</text><text x="16.01" y="0" font-size="9" xml:space="preserve">Sn(0004)</text></g><text x="191" y="249.6" font-family='"Liberation Sans", sans-serif' font-size="9" fill="#000">Ru(0004)</text><text x="59.3" y="293" font-family='"Liberation Sans", sans-serif' font-size="9" fill="#000">Py(111)</text><text x="229.6" y="299.1" font-family='"Liberation Sans", sans-serif' font-size="9" fill="#000" text-anchor="end">Py</text><text x="229.8" y="311" font-family='"Liberation Sans", sans-serif' font-size="9" fill="#000" text-anchor="end">(222)</text><line x1="273.7" y1="151" x2="273.7" y2="148.2" stroke="#1a1a1a" stroke-width="0.9"/><line x1="273.7" y1="6.6" x2="273.7" y2="9.4" stroke="#1a1a1a" stroke-width="0.9"/><line x1="290.48" y1="151" x2="290.48" y2="149" stroke="#1a1a1a" stroke-width="0.9"/><line x1="290.48" y1="6.6" x2="290.48" y2="8.6" stroke="#1a1a1a" stroke-width="0.9"/><line x1="307.26" y1="151" x2="307.26" y2="148.2" stroke="#1a1a1a" stroke-width="0.9"/><line x1="307.26" y1="6.6" x2="307.26" y2="9.4" stroke="#1a1a1a" stroke-width="0.9"/><line x1="324.05" y1="151" x2="324.05" y2="149" stroke="#1a1a1a" stroke-width="0.9"/><line x1="324.05" y1="6.6" x2="324.05" y2="8.6" stroke="#1a1a1a" stroke-width="0.9"/><line x1="340.83" y1="151" x2="340.83" y2="148.2" stroke="#1a1a1a" stroke-width="0.9"/><line x1="340.83" y1="6.6" x2="340.83" y2="9.4" stroke="#1a1a1a" stroke-width="0.9"/><line x1="357.61" y1="151" x2="357.61" y2="149" stroke="#1a1a1a" stroke-width="0.9"/><line x1="357.61" y1="6.6" x2="357.61" y2="8.6" stroke="#1a1a1a" stroke-width="0.9"/><line x1="374.39" y1="151" x2="374.39" y2="148.2" stroke="#1a1a1a" stroke-width="0.9"/><line x1="374.39" y1="6.6" x2="374.39" y2="9.4" stroke="#1a1a1a" stroke-width="0.9"/><line x1="391.17" y1="151" x2="391.17" y2="149" stroke="#1a1a1a" stroke-width="0.9"/><line x1="391.17" y1="6.6" x2="391.17" y2="8.6" stroke="#1a1a1a" stroke-width="0.9"/><line x1="407.96" y1="151" x2="407.96" y2="148.2" stroke="#1a1a1a" stroke-width="0.9"/><line x1="407.96" y1="6.6" x2="407.96" y2="9.4" stroke="#1a1a1a" stroke-width="0.9"/><line x1="424.74" y1="151" x2="424.74" y2="149" stroke="#1a1a1a" stroke-width="0.9"/><line x1="424.74" y1="6.6" x2="424.74" y2="8.6" stroke="#1a1a1a" stroke-width="0.9"/><line x1="441.52" y1="151" x2="441.52" y2="148.2" stroke="#1a1a1a" stroke-width="0.9"/><line x1="441.52" y1="6.6" x2="441.52" y2="9.4" stroke="#1a1a1a" stroke-width="0.9"/><line x1="458.3" y1="151" x2="458.3" y2="149" stroke="#1a1a1a" stroke-width="0.9"/><line x1="458.3" y1="6.6" x2="458.3" y2="8.6" stroke="#1a1a1a" stroke-width="0.9"/><polygon points="267.7,35.91 268,35.88 268.3,36.07 268.6,35.86 268.9,36.32 269.2,36.03 269.5,34.49 269.8,36.09 270.1,36.01 270.4,36.04 270.7,36.49 271,36.23 271.3,35.86 271.6,34.22 271.9,36.12 272.2,35.98 272.5,36.03 272.8,36.35 273.1,36.22 273.4,36.25 273.7,35.95 274,36.02 274.3,36.04 274.6,35.99 274.9,36 275.2,36.03 275.5,34.52 275.8,35.86 276.1,36.15 276.4,36.22 276.7,36.2 277,36.08 277.3,36.16 277.6,35.86 277.9,35.88 278.2,36.06 278.5,36.07 278.8,36.31 279.1,36.33 279.4,36.19 279.7,35.88 280,35.98 280.3,35.95 280.6,36.37 280.9,36.28 281.2,36.22 281.5,36.15 281.8,35.12 282.1,36.3 282.4,36.34 282.7,34.37 283,35.96 283.3,35.96 283.6,35.85 283.9,36.23 284.2,36.2 284.5,36.07 284.8,36.13 285.1,36.06 285.4,36.37 285.7,36.64 286,36.22 286.3,35.96 286.6,36.22 286.9,36.06 287.2,35.9 287.5,36.14 287.8,35.21 288.1,35.61 288.4,35.4 288.7,35.12 289,34.21 289.3,32.86 289.6,30.88 289.9,28.72 290.2,26.34 290.5,23.7 290.8,21.29 291.1,20.08 291.4,20.33 291.7,21.98 292,24.68 292.3,27.52 292.6,29.58 292.9,29.78 293.2,33.2 293.5,34.34 293.8,35.04 294.1,35.69 294.4,35.73 294.7,35.55 295,36.18 295.3,36.14 295.6,36.13 295.9,35.97 296.2,35.99 296.5,34.39 296.8,36.27 297.1,35.88 297.4,36.5 297.7,35.99 298,36.1 298.3,36.28 298.6,36.04 298.9,36.11 299.2,35.99 299.5,34.4 299.8,36.11 300.1,36.33 300.4,36.03 300.7,35.91 301,36.31 301.3,36.02 301.6,35.97 301.9,35.97 302.2,36.06 302.5,35.17 302.8,36.37 303.1,35.91 303.4,35.91 303.7,36 304,35.84 304.3,36.39 304.6,36.03 304.9,36.08 305.2,36.11 305.5,35.91 305.8,35.91 306.1,35.88 306.4,36.16 306.7,36.13 307,36.02 307.3,35.95 307.6,36.58 307.9,34.9 308.2,36.28 308.5,36.08 308.8,35.92 309.1,36.36 309.4,36.12 309.7,36.24 310,36.29 310.3,35.97 310.6,36.65 310.9,36.07 311.2,36.29 311.5,36 311.8,35.92 312.1,36.41 312.4,36.3 312.7,36.41 313,35.97 313.3,35.97 313.6,35.96 313.9,36.21 314.2,36.37 314.5,36.14 314.8,34.64 315.1,36.13 315.4,36 315.7,36.01 316,36.21 316.3,36.14 316.6,36.17 316.9,36.77 317.2,35.92 317.5,36.4 317.8,36.28 318.1,36.05 318.4,34.23 318.7,36.02 319,36.16 319.3,36.05 319.6,35.88 319.9,36.01 320.2,36.06 320.5,35.88 320.8,35.82 321.1,34.3 321.4,35.74 321.7,35.44 322,34.98 322.3,34.23 322.6,31.85 322.9,31.73 323.2,29.76 323.5,27.56 323.8,24.68 324.1,21.98 324.4,20.33 324.7,20.08 325,21.29 325.3,23.7 325.6,26.3 325.9,28.73 326.2,31.31 326.5,32.15 326.8,34.24 327.1,35.05 327.4,35.75 327.7,35.66 328,35.93 328.3,36.13 328.6,36.48 328.9,34.42 329.2,35.98 329.5,35.99 329.8,35.93 330.1,36.22 330.4,35.97 330.7,35.95 331,36.39 331.3,36.43 331.6,35.99 331.9,35.89 332.2,36.18 332.5,35.89 332.8,36.07 333.1,36.47 333.4,36.16 333.7,36.05 334,36.57 334.3,35.86 334.6,36.34 334.9,36.75 335.2,36.34 335.5,35.86 335.8,36.5 336.1,36.11 336.4,36.2 336.7,36.25 337,36.25 337.3,35.87 337.6,36.12 337.9,36.02 338.2,33.93 338.5,35.98 338.8,36.03 339.1,35.86 339.4,35.51 339.7,35.95 340,36.63 340.3,35.08 340.6,36.25 340.9,36.06 341.2,36.31 341.5,36.26 341.8,36.03 342.1,36.2 342.4,36.22 342.7,35.95 343,36.11 343.3,35.98 343.6,34.48 343.9,36.16 344.2,36 344.5,34.51 344.8,36.17 345.1,36.21 345.4,35.91 345.7,36.08 346,36.19 346.3,36.12 346.6,36.22 346.9,36.3 347.2,36.26 347.5,36.24 347.8,35.91 348.1,36.16 348.4,36.24 348.7,35.96 349,35.87 349.3,36.1 349.6,36.03 349.9,36.34 350.2,35.86 350.5,35.86 350.8,36.5 351.1,35.95 351.4,36.3 351.7,36.72 352,36.07 352.3,35.94 352.6,36.15 352.9,36.03 353.2,34.76 353.5,36.33 353.8,36.21 354.1,36.27 354.4,35.89 354.7,35.89 355,35.71 355.3,35.46 355.6,34.58 355.9,33.59 356.2,32.59 356.5,30.33 356.8,27.94 357.1,25.9 357.4,22.79 357.7,20.74 358,20 358.3,20.74 358.6,22.79 358.9,25.96 359.2,27.94 359.5,30.27 359.8,32.34 360.1,33.97 360.4,35.18 360.7,35.17 361,35.73 361.3,36.1 361.6,36.35 361.9,36.16 362.2,35.98 362.5,36.22 362.8,36.12 363.1,36.32 363.4,36.25 363.7,36.16 364,36.01 364.3,36.61 364.6,36.09 364.9,36.1 365.2,36.35 365.5,35.94 365.8,35.9 366.1,35.64 366.4,35.94 366.7,35.93 367,36.01 367.3,35.86 367.6,35.91 367.9,36.09 368.2,35.92 368.5,36.2 368.8,36.45 369.1,36.25 369.4,35.92 369.7,36.23 370,35.87 370.3,36.13 370.6,36.36 370.9,36.05 371.2,35.87 371.5,35.92 371.8,35.91 372.1,36.42 372.4,34.96 372.7,35.95 373,36.13 373.3,35.93 373.6,36.39 373.9,36.32 374.2,35.99 374.5,36.49 374.8,36.16 375.1,36.26 375.4,35.94 375.7,36.44 376,35.92 376.3,36.1 376.6,35.98 376.9,35.93 377.2,35.85 377.5,36.48 377.8,36.06 378.1,36.31 378.4,36.18 378.7,36.33 379,35.87 379.3,36.29 379.6,36.15 379.9,36.29 380.2,36.05 380.5,36.09 380.8,36.06 381.1,35.97 381.4,36.34 381.7,36.27 382,36.29 382.3,36.04 382.6,36.41 382.9,35.99 383.2,36.23 383.5,35.86 383.8,36.03 384.1,36.11 384.4,36.18 384.7,36.07 385,35.88 385.3,36.27 385.6,36.17 385.9,36.06 386.2,36.12 386.5,36.07 386.8,36.49 387.1,36.01 387.4,35.96 387.7,36.21 388,36.12 388.3,35.74 388.6,35.99 388.9,35.29 389.2,34.46 389.5,33.08 389.8,31.94 390.1,29.74 390.4,27.15 390.7,24.68 391,21.98 391.3,20.33 391.6,20.08 391.9,21.29 392.2,23.7 392.5,26.29 392.8,28.94 393.1,31.07 393.4,32.77 393.7,32.42 394,35.08 394.3,35.52 394.6,36.11 394.9,35.93 395.2,36.13 395.5,35.31 395.8,36.3 396.1,36.02 396.4,36.08 396.7,35.88 397,36 397.3,36.28 397.6,36.26 397.9,35.86 398.2,36.01 398.5,36.48 398.8,35.9 399.1,36 399.4,35.86 399.7,35.31 400,36.18 400.3,36.3 400.6,36.04 400.9,35.61 401.2,36.58 401.5,35.91 401.8,35.93 402.1,35.9 402.4,36.14 402.7,35.99 403,36.36 403.3,35.86 403.6,36 403.9,35.54 404.2,36.2 404.5,36.04 404.8,35.88 405.1,35.86 405.4,35.92 405.7,35.86 406,36.33 406.3,36.82 406.6,36.03 406.9,36.31 407.2,36.37 407.5,36.11 407.8,35.92 408.1,36.14 408.4,36.04 408.7,36.26 409,35.9 409.3,35.96 409.6,35.96 409.9,36.03 410.2,36.23 410.5,36.03 410.8,36.15 411.1,36.02 411.4,36.17 411.7,36.25 412,35.95 412.3,36.78 412.6,36.23 412.9,36.07 413.2,36.04 413.5,35.88 413.8,36.44 414.1,36.35 414.4,36.02 414.7,35.89 415,35.96 415.3,35.93 415.6,36.3 415.9,35.89 416.2,36.39 416.5,34.76 416.8,36.25 417.1,36.01 417.4,36.03 417.7,36.02 418,35.05 418.3,36.02 418.6,36.43 418.9,36.19 419.2,36.04 419.5,35.96 419.8,35.94 420.1,36.48 420.4,35.99 420.7,35.88 421,36.04 421.3,36.01 421.6,35.7 421.9,35.93 422.2,35.71 422.5,34.65 422.8,33.14 423.1,31.79 423.4,29.39 423.7,27.04 424,24.68 424.3,21.98 424.6,20.33 424.9,20.08 425.2,21.29 425.5,23.7 425.8,27.07 426.1,28.62 426.4,31.34 426.7,32.73 427,34.06 427.3,34.77 427.6,35.39 427.9,35.9 428.2,36.08 428.5,35.88 428.8,36.4 429.1,36.17 429.4,36.03 429.7,36.09 430,36.19 430.3,36.26 430.6,35.87 430.9,34.79 431.2,35.87 431.5,35.95 431.8,36.45 432.1,36.03 432.4,36.55 432.7,35.86 433,35.88 433.3,35.87 433.6,36.43 433.9,36.2 434.2,35.9 434.5,35.9 434.8,36.42 435.1,35.98 435.4,35.91 435.7,36.28 436,36.03 436.3,36.31 436.6,35.05 436.9,36.2 437.2,35.96 437.5,36.25 437.8,35.93 438.1,35.96 438.4,35.9 438.7,36.06 439,36.16 439.3,35.9 439.6,36.08 439.9,35.87 440.2,35.98 440.5,36.65 440.8,35.91 441.1,36.29 441.4,35.92 441.7,36.02 442,35.97 442.3,36.04 442.6,36.34 442.9,36.09 443.2,36.17 443.5,36.01 443.8,35.96 444.1,35.95 444.4,35.89 444.7,35.91 445,35.88 445.3,35.93 445.6,36.2 445.9,36.1 446.2,36.01 446.5,36 446.8,36.7 447.1,35.86 447.4,36.66 447.7,36.46 448,36.06 448.3,36.04 448.6,36.11 448.9,36.26 449.2,35.96 449.5,35.88 449.8,36.14 450.1,35.87 450.4,34.36 450.7,36.02 451,36.23 451.3,36.61 451.6,35.88 451.9,36.1 452.2,35.97 452.5,36.37 452.8,35.7 453.1,35.91 453.4,36.19 453.7,36.37 454,34.21 454.3,35.9 454.6,36.08 454.9,35.82 455.2,35.89 455.5,35.78 455.8,35.16 456.1,34.74 456.4,33.74 456.7,32.18 457,30.57 457.3,28.2 457.6,25.89 457.9,22.79 458.2,20.74 458.5,20 458.8,20.74 459.1,22.79 459.4,25.64 459.7,28.04 460,30.19 460.3,32.14 460.6,33.57 460.9,34.61 461.2,35.5 461.5,35.66 461.8,36.12 462.1,35.96 462.4,35.95 462.7,36.05 463,36.06 463.3,36.84 463.6,35.95 463.9,35.88 464.2,36.13 464.5,36.3 464.8,34.54 465.1,36.16 465.4,36.19 465.7,35.93 466,36 466.3,36.14 466.6,35.97 466.9,36.16 467.2,35.98 467.5,36.27 467.8,36.19 468.1,36.09 468.4,36.49 468.7,36.08 469,36 469.3,36.17 469.6,35.91 469.9,36.04 470.2,36.06 470.2,44.35 469.9,44.88 469.6,45.34 469.3,45.06 469,45.69 468.7,44.66 468.4,47.14 468.1,45.45 467.8,45.55 467.5,44.64 467.2,45.79 466.9,44.9 466.6,45.6 466.3,45.04 466,44.93 465.7,45.85 465.4,44.73 465.1,44.85 464.8,45 464.5,45.73 464.2,45.74 463.9,44.82 463.6,45.44 463.3,45.78 463,45.36 462.7,44.8 462.4,44.1 462.1,45.65 461.8,45.34 461.5,44.15 461.2,44.34 460.9,43.04 460.6,40.76 460.3,38.49 460,34.97 459.7,31.1 459.4,26.52 459.1,24.09 458.8,22.04 458.5,21.3 458.2,22.04 457.9,24.09 457.6,27.2 457.3,30.55 457,35.43 456.7,38.44 456.4,40.88 456.1,43.41 455.8,44.22 455.5,45.1 455.2,45.44 454.9,45.66 454.6,45.62 454.3,45.3 454,43.7 453.7,45.28 453.4,46.14 453.1,45.51 452.8,45.55 452.5,45.23 452.2,45.42 451.9,43.17 451.6,45.77 451.3,45.48 451,45.36 450.7,45.43 450.4,44.45 450.1,44.69 449.8,45.84 449.5,45.61 449.2,44.95 448.9,45.51 448.6,44.85 448.3,45.55 448,45.5 447.7,45.75 447.4,44.68 447.1,44.94 446.8,44.04 446.5,45.07 446.2,45.77 445.9,45.49 445.6,46.05 445.3,47.4 445,47.42 444.7,47.53 444.4,45.05 444.1,45.43 443.8,44.97 443.5,44.85 443.2,45.8 442.9,45.64 442.6,44.92 442.3,44.93 442,45.66 441.7,47.94 441.4,47.91 441.1,47.01 440.8,46.36 440.5,45.65 440.2,45.16 439.9,45.72 439.6,44.66 439.3,45.67 439,47.75 438.7,48.29 438.4,47.93 438.1,48.1 437.8,43.07 437.5,45.31 437.2,45.23 436.9,45.31 436.6,45.72 436.3,44.34 436,47.83 435.7,47.6 435.4,47.24 435.1,45.26 434.8,43.89 434.5,44.69 434.2,45.62 433.9,43.81 433.6,45.04 433.3,44.86 433,45.73 432.7,43.28 432.4,44.82 432.1,45.2 431.8,45.69 431.5,45.59 431.2,44.8 430.9,47.65 430.6,47.4 430.3,47.48 430,47.64 429.7,44.96 429.4,45.61 429.1,44.98 428.8,45.47 428.5,45.29 428.2,45.47 427.9,45.3 427.6,44.74 427.3,42.87 427,41.47 426.7,39.24 426.4,36.6 426.1,31.8 425.8,28.73 425.5,25 425.2,22.59 424.9,21.38 424.6,21.63 424.3,23.28 424,26 423.7,29.19 423.4,34.11 423.1,37.28 422.8,40.63 422.5,42.39 422.2,43.4 421.9,44.89 421.6,43.78 421.3,44.93 421,45.03 420.7,45.32 420.4,45.83 420.1,45.34 419.8,43.56 419.5,44.17 419.2,45.6 418.9,45.44 418.6,44.94 418.3,45.55 418,45.14 417.7,44.58 417.4,45.35 417.1,44.87 416.8,44.36 416.5,45.81 416.2,45.56 415.9,46.03 415.6,45.69 415.3,45.96 415,45.2 414.7,44.53 414.4,45.49 414.1,45.85 413.8,45.62 413.5,47.66 413.2,45.8 412.9,45.74 412.6,45.34 412.3,45.14 412,45.26 411.7,45.33 411.4,46.53 411.1,46.18 410.8,46.85 410.5,46.85 410.2,45.58 409.9,44.31 409.6,45.14 409.3,45.68 409,44.8 408.7,45.4 408.4,45.47 408.1,47.58 407.8,46.69 407.5,47.58 407.2,46.85 406.9,45.64 406.6,44.9 406.3,45.79 406,44.26 405.7,44.77 405.4,45.82 405.1,44.89 404.8,45.76 404.5,45.77 404.2,45.23 403.9,44.2 403.6,45.33 403.3,43.8 403,44.97 402.7,45.52 402.4,45.45 402.1,45.62 401.8,44.79 401.5,45.47 401.2,45.77 400.9,46.33 400.6,44.59 400.3,44.46 400,45.59 399.7,44.61 399.4,45.07 399.1,45.53 398.8,46.07 398.5,46.83 398.2,46.95 397.9,46.92 397.6,44.83 397.3,45.18 397,45.34 396.7,44.78 396.4,44.34 396.1,45.48 395.8,44.28 395.5,45.55 395.2,45.72 394.9,44.5 394.6,45.02 394.3,44.65 394,41.58 393.7,41.98 393.4,38.52 393.1,36.81 392.8,32.08 392.5,28.48 392.2,25 391.9,22.59 391.6,21.38 391.3,21.63 391,23.28 390.7,26 390.4,29.21 390.1,34.24 389.8,37.39 389.5,40.79 389.2,42.64 388.9,44.17 388.6,44.51 388.3,44.1 388,45.43 387.7,44.13 387.4,44.14 387.1,45.75 386.8,45.53 386.5,44.34 386.2,45.51 385.9,47.16 385.6,45.3 385.3,45.23 385,45.09 384.7,44.37 384.4,45.7 384.1,45.06 383.8,45.3 383.5,45.33 383.2,44.98 382.9,45.54 382.6,45.58 382.3,45.77 382,45.41 381.7,44.56 381.4,43.96 381.1,45.77 380.8,44.72 380.5,45.7 380.2,44.62 379.9,44.59 379.6,45.72 379.3,45.6 379,46.34 378.7,45.71 378.4,45.05 378.1,45.51 377.8,45.12 377.5,44.82 377.2,45.8 376.9,44.96 376.6,45.78 376.3,45.43 376,45.44 375.7,45.83 375.4,45.4 375.1,45.7 374.8,44.58 374.5,45.56 374.2,45.45 373.9,48.2 373.6,45.19 373.3,46.64 373,46.8 372.7,45.05 372.4,44.37 372.1,45.06 371.8,45.3 371.5,45.43 371.2,45.62 370.9,46.13 370.6,46.08 370.3,45.06 370,44.15 369.7,45.5 369.4,45.49 369.1,45 368.8,45.51 368.5,45.59 368.2,45.71 367.9,45.81 367.6,45.36 367.3,43.92 367,45.73 366.7,45.7 366.4,44 366.1,45.75 365.8,45.66 365.5,45.21 365.2,45.65 364.9,45.54 364.6,45.47 364.3,45.14 364,47.45 363.7,48.21 363.4,46.44 363.1,47.29 362.8,45.36 362.5,45.65 362.2,45.75 361.9,45.54 361.6,45.41 361.3,45.11 361,44.31 360.7,43.38 360.4,43.33 360.1,41.66 359.8,39 359.5,35.52 359.2,31.44 358.9,26.9 358.6,24.09 358.3,22.04 358,21.3 357.7,22.04 357.4,24.09 357.1,26.96 356.8,31.46 356.5,35.51 356.2,38.25 355.9,41.53 355.6,42.8 355.3,44.35 355,44.68 354.7,45.45 354.4,44.66 354.1,45.22 353.8,45.27 353.5,44.35 353.2,45.72 352.9,45.78 352.6,44.8 352.3,45.55 352,44.46 351.7,45.57 351.4,44.98 351.1,45.97 350.8,45.47 350.5,45.26 350.2,45.03 349.9,45.31 349.6,45.05 349.3,44.84 349,45.69 348.7,44.29 348.4,45.57 348.1,45.48 347.8,45.57 347.5,45.11 347.2,45.34 346.9,44.53 346.6,45.65 346.3,45.32 346,45.63 345.7,45.64 345.4,45.6 345.1,45.52 344.8,45.04 344.5,45.2 344.2,45.14 343.9,44.8 343.6,45.71 343.3,45.6 343,45.18 342.7,44.45 342.4,45.32 342.1,45.38 341.8,44.44 341.5,44.17 341.2,45.67 340.9,45.35 340.6,44.98 340.3,44.51 340,44.85 339.7,44.74 339.4,45.14 339.1,44.57 338.8,45.16 338.5,45.12 338.2,45.18 337.9,45.24 337.6,45.64 337.3,45.4 337,45.65 336.7,44.96 336.4,44.64 336.1,45.29 335.8,47.06 335.5,46.26 335.2,45.72 334.9,44.83 334.6,45.67 334.3,43.92 334,45.74 333.7,45.58 333.4,45.4 333.1,44.8 332.8,46.06 332.5,45.72 332.2,45.75 331.9,45.73 331.6,44.97 331.3,44.77 331,45.23 330.7,44.73 330.4,45.78 330.1,45.29 329.8,45.81 329.5,45.75 329.2,45.18 328.9,45.63 328.6,45.39 328.3,44.45 328,43.56 327.7,45.21 327.4,43.93 327.1,43.22 326.8,41.65 326.5,39.03 326.2,37.57 325.9,34.27 325.6,27.94 325.3,25 325,22.59 324.7,21.38 324.4,21.63 324.1,23.28 323.8,26 323.5,28.63 323.2,33.82 322.9,37.85 322.6,40.54 322.3,43 322,44.42 321.7,44.44 321.4,43.89 321.1,45.5 320.8,45.35 320.5,45.55 320.2,45.23 319.9,45.32 319.6,45.26 319.3,45.48 319,45.67 318.7,45.72 318.4,45.77 318.1,45.74 317.8,44.91 317.5,44.45 317.2,45.14 316.9,45.36 316.6,45.79 316.3,45.06 316,44.97 315.7,45.42 315.4,44.86 315.1,45.78 314.8,45.84 314.5,45.51 314.2,44.04 313.9,45 313.6,45.48 313.3,45.55 313,45.28 312.7,45.66 312.4,45.27 312.1,45.59 311.8,44.59 311.5,45.69 311.2,45.41 310.9,45.63 310.6,45.64 310.3,45.73 310,45.34 309.7,45.6 309.4,45.36 309.1,45.62 308.8,44.74 308.5,44.24 308.2,45.68 307.9,45.37 307.6,45.03 307.3,45.14 307,45.72 306.7,46.49 306.4,45.43 306.1,46.27 305.8,45.72 305.5,45.76 305.2,45.14 304.9,44.5 304.6,43.87 304.3,45.35 304,46.02 303.7,46.17 303.4,44.86 303.1,44.96 302.8,45.27 302.5,45.61 302.2,45.01 301.9,45.29 301.6,45.72 301.3,44.64 301,44.98 300.7,45.04 300.4,45.2 300.1,44.51 299.8,45.75 299.5,44.26 299.2,45.33 298.9,45.07 298.6,45.53 298.3,44.61 298,45.36 297.7,45.69 297.4,45.69 297.1,45.11 296.8,45.34 296.5,45.73 296.2,45.85 295.9,44.13 295.6,45.26 295.3,45.51 295,45.05 294.7,45.45 294.4,45.1 294.1,43.98 293.8,43.21 293.5,41.17 293.2,39.73 292.9,37.63 292.6,33.68 292.3,29.01 292,26 291.7,23.28 291.4,21.63 291.1,21.38 290.8,22.59 290.5,25 290.2,28.2 289.9,32.63 289.6,35.97 289.3,40.76 289,43.94 288.7,45.46 288.4,45.53 288.1,45.07 287.8,45.16 287.5,45.44 287.2,45.12 286.9,45.45 286.6,45.5 286.3,45.3 286,44.49 285.7,45.54 285.4,44.23 285.1,44.75 284.8,45.39 284.5,45.64 284.2,45.32 283.9,45.44 283.6,44.72 283.3,45.17 283,45.49 282.7,45.34 282.4,45.79 282.1,45.23 281.8,45.33 281.5,45.67 281.2,44.64 280.9,45 280.6,45.78 280.3,45.62 280,45.64 279.7,45.45 279.4,45.11 279.1,45.27 278.8,44.15 278.5,45.08 278.2,45.84 277.9,45 277.6,45.7 277.3,45.77 277,45.08 276.7,45.52 276.4,43.84 276.1,45.84 275.8,45.15 275.5,45.45 275.2,45.25 274.9,45.55 274.6,44.74 274.3,45.47 274,45.13 273.7,45.63 273.4,45.6 273.1,44.86 272.8,45.74 272.5,45.79 272.2,45.25 271.9,45.03 271.6,45.38 271.3,45.75 271,45.47 270.7,44.49 270.4,44.92 270.1,45.06 269.8,45.34 269.5,45.4 269.2,45.59 268.9,45.53 268.6,45.4 268.3,45.8 268,45.83 267.7,45.52" fill="#1f34ff"/><polyline points="267.7,40.85 268,40.85 268.3,40.85 268.6,40.85 268.9,40.85 269.2,40.85 269.5,40.85 269.8,40.85 270.1,40.85 270.4,40.85 270.7,40.85 271,40.85 271.3,40.85 271.6,40.85 271.9,40.85 272.2,40.85 272.5,40.85 272.8,40.85 273.1,40.85 273.4,40.85 273.7,40.85 274,40.85 274.3,40.85 274.6,40.85 274.9,40.85 275.2,40.85 275.5,40.85 275.8,40.85 276.1,40.85 276.4,40.85 276.7,40.85 277,40.85 277.3,40.85 277.6,40.85 277.9,40.85 278.2,40.85 278.5,40.85 278.8,40.85 279.1,40.85 279.4,40.85 279.7,40.85 280,40.85 280.3,40.85 280.6,40.85 280.9,40.85 281.2,40.85 281.5,40.85 281.8,40.85 282.1,40.85 282.4,40.85 282.7,40.85 283,40.85 283.3,40.85 283.6,40.85 283.9,40.85 284.2,40.85 284.5,40.85 284.8,40.85 285.1,40.85 285.4,40.85 285.7,40.85 286,40.85 286.3,40.85 286.6,40.85 286.9,40.84 287.2,40.82 287.5,40.78 287.8,40.68 288.1,40.47 288.4,40.06 288.7,39.32 289,38.12 289.3,36.31 289.6,33.84 289.9,30.8 290.2,27.49 290.5,24.35 290.8,21.94 291.1,20.73 291.4,20.98 291.7,22.63 292,25.34 292.3,28.6 292.6,31.86 292.9,34.73 293.2,36.98 293.5,38.58 293.8,39.61 294.1,40.22 294.4,40.56 294.7,40.72 295,40.8 295.3,40.83 295.6,40.84 295.9,40.85 296.2,40.85 296.5,40.85 296.8,40.85 297.1,40.85 297.4,40.85 297.7,40.85 298,40.85 298.3,40.85 298.6,40.85 298.9,40.85 299.2,40.85 299.5,40.85 299.8,40.85 300.1,40.85 300.4,40.85 300.7,40.85 301,40.85 301.3,40.85 301.6,40.85 301.9,40.85 302.2,40.85 302.5,40.85 302.8,40.85 303.1,40.85 303.4,40.85 303.7,40.85 304,40.85 304.3,40.85 304.6,40.85 304.9,40.85 305.2,40.85 305.5,40.85 305.8,40.85 306.1,40.85 306.4,40.85 306.7,40.85 307,40.85 307.3,40.85 307.6,40.85 307.9,40.85 308.2,40.85 308.5,40.85 308.8,40.85 309.1,40.85 309.4,40.85 309.7,40.85 310,40.85 310.3,40.85 310.6,40.85 310.9,40.85 311.2,40.85 311.5,40.85 311.8,40.85 312.1,40.85 312.4,40.85 312.7,40.85 313,40.85 313.3,40.85 313.6,40.85 313.9,40.85 314.2,40.85 314.5,40.85 314.8,40.85 315.1,40.85 315.4,40.85 315.7,40.85 316,40.85 316.3,40.85 316.6,40.85 316.9,40.85 317.2,40.85 317.5,40.85 317.8,40.85 318.1,40.85 318.4,40.85 318.7,40.85 319,40.85 319.3,40.85 319.6,40.85 319.9,40.85 320.2,40.84 320.5,40.83 320.8,40.8 321.1,40.72 321.4,40.56 321.7,40.22 322,39.61 322.3,38.58 322.6,36.98 322.9,34.73 323.2,31.86 323.5,28.6 323.8,25.34 324.1,22.63 324.4,20.98 324.7,20.73 325,21.94 325.3,24.35 325.6,27.49 325.9,30.8 326.2,33.84 326.5,36.31 326.8,38.12 327.1,39.32 327.4,40.06 327.7,40.47 328,40.68 328.3,40.78 328.6,40.82 328.9,40.84 329.2,40.85 329.5,40.85 329.8,40.85 330.1,40.85 330.4,40.85 330.7,40.85 331,40.85 331.3,40.85 331.6,40.85 331.9,40.85 332.2,40.85 332.5,40.85 332.8,40.85 333.1,40.85 333.4,40.85 333.7,40.85 334,40.85 334.3,40.85 334.6,40.85 334.9,40.85 335.2,40.85 335.5,40.85 335.8,40.85 336.1,40.85 336.4,40.85 336.7,40.85 337,40.85 337.3,40.85 337.6,40.85 337.9,40.85 338.2,40.85 338.5,40.85 338.8,40.85 339.1,40.85 339.4,40.85 339.7,40.85 340,40.85 340.3,40.85 340.6,40.85 340.9,40.85 341.2,40.85 341.5,40.85 341.8,40.85 342.1,40.85 342.4,40.85 342.7,40.85 343,40.85 343.3,40.85 343.6,40.85 343.9,40.85 344.2,40.85 344.5,40.85 344.8,40.85 345.1,40.85 345.4,40.85 345.7,40.85 346,40.85 346.3,40.85 346.6,40.85 346.9,40.85 347.2,40.85 347.5,40.85 347.8,40.85 348.1,40.85 348.4,40.85 348.7,40.85 349,40.85 349.3,40.85 349.6,40.85 349.9,40.85 350.2,40.85 350.5,40.85 350.8,40.85 351.1,40.85 351.4,40.85 351.7,40.85 352,40.85 352.3,40.85 352.6,40.85 352.9,40.85 353.2,40.85 353.5,40.85 353.8,40.84 354.1,40.81 354.4,40.75 354.7,40.63 355,40.36 355.3,39.86 355.6,38.98 355.9,37.58 356.2,35.55 356.5,32.88 356.8,29.71 357.1,26.4 357.4,23.44 357.7,21.39 358,20.65 358.3,21.39 358.6,23.44 358.9,26.4 359.2,29.71 359.5,32.88 359.8,35.55 360.1,37.58 360.4,38.98 360.7,39.86 361,40.36 361.3,40.63 361.6,40.75 361.9,40.81 362.2,40.84 362.5,40.85 362.8,40.85 363.1,40.85 363.4,40.85 363.7,40.85 364,40.85 364.3,40.85 364.6,40.85 364.9,40.85 365.2,40.85 365.5,40.85 365.8,40.85 366.1,40.85 366.4,40.85 366.7,40.85 367,40.85 367.3,40.85 367.6,40.85 367.9,40.85 368.2,40.85 368.5,40.85 368.8,40.85 369.1,40.85 369.4,40.85 369.7,40.85 370,40.85 370.3,40.85 370.6,40.85 370.9,40.85 371.2,40.85 371.5,40.85 371.8,40.85 372.1,40.85 372.4,40.85 372.7,40.85 373,40.85 373.3,40.85 373.6,40.85 373.9,40.85 374.2,40.85 374.5,40.85 374.8,40.85 375.1,40.85 375.4,40.85 375.7,40.85 376,40.85 376.3,40.85 376.6,40.85 376.9,40.85 377.2,40.85 377.5,40.85 377.8,40.85 378.1,40.85 378.4,40.85 378.7,40.85 379,40.85 379.3,40.85 379.6,40.85 379.9,40.85 380.2,40.85 380.5,40.85 380.8,40.85 381.1,40.85 381.4,40.85 381.7,40.85 382,40.85 382.3,40.85 382.6,40.85 382.9,40.85 383.2,40.85 383.5,40.85 383.8,40.85 384.1,40.85 384.4,40.85 384.7,40.85 385,40.85 385.3,40.85 385.6,40.85 385.9,40.85 386.2,40.85 386.5,40.85 386.8,40.85 387.1,40.84 387.4,40.83 387.7,40.8 388,40.72 388.3,40.56 388.6,40.22 388.9,39.61 389.2,38.58 389.5,36.98 389.8,34.73 390.1,31.86 390.4,28.6 390.7,25.34 391,22.63 391.3,20.98 391.6,20.73 391.9,21.94 392.2,24.35 392.5,27.49 392.8,30.8 393.1,33.84 393.4,36.31 393.7,38.12 394,39.32 394.3,40.06 394.6,40.47 394.9,40.68 395.2,40.78 395.5,40.82 395.8,40.84 396.1,40.85 396.4,40.85 396.7,40.85 397,40.85 397.3,40.85 397.6,40.85 397.9,40.85 398.2,40.85 398.5,40.85 398.8,40.85 399.1,40.85 399.4,40.85 399.7,40.85 400,40.85 400.3,40.85 400.6,40.85 400.9,40.85 401.2,40.85 401.5,40.85 401.8,40.85 402.1,40.85 402.4,40.85 402.7,40.85 403,40.85 403.3,40.85 403.6,40.85 403.9,40.85 404.2,40.85 404.5,40.85 404.8,40.85 405.1,40.85 405.4,40.85 405.7,40.85 406,40.85 406.3,40.85 406.6,40.85 406.9,40.85 407.2,40.85 407.5,40.85 407.8,40.85 408.1,40.85 408.4,40.85 408.7,40.85 409,40.85 409.3,40.85 409.6,40.85 409.9,40.85 410.2,40.85 410.5,40.85 410.8,40.85 411.1,40.85 411.4,40.85 411.7,40.85 412,40.85 412.3,40.85 412.6,40.85 412.9,40.85 413.2,40.85 413.5,40.85 413.8,40.85 414.1,40.85 414.4,40.85 414.7,40.85 415,40.85 415.3,40.85 415.6,40.85 415.9,40.85 416.2,40.85 416.5,40.85 416.8,40.85 417.1,40.85 417.4,40.85 417.7,40.85 418,40.85 418.3,40.85 418.6,40.85 418.9,40.85 419.2,40.85 419.5,40.85 419.8,40.85 420.1,40.85 420.4,40.84 420.7,40.83 421,40.8 421.3,40.72 421.6,40.56 421.9,40.22 422.2,39.61 422.5,38.58 422.8,36.98 423.1,34.73 423.4,31.86 423.7,28.6 424,25.34 424.3,22.63 424.6,20.98 424.9,20.73 425.2,21.94 425.5,24.35 425.8,27.49 426.1,30.8 426.4,33.84 426.7,36.31 427,38.12 427.3,39.32 427.6,40.06 427.9,40.47 428.2,40.68 428.5,40.78 428.8,40.82 429.1,40.84 429.4,40.85 429.7,40.85 430,40.85 430.3,40.85 430.6,40.85 430.9,40.85 431.2,40.85 431.5,40.85 431.8,40.85 432.1,40.85 432.4,40.85 432.7,40.85 433,40.85 433.3,40.85 433.6,40.85 433.9,40.85 434.2,40.85 434.5,40.85 434.8,40.85 435.1,40.85 435.4,40.85 435.7,40.85 436,40.85 436.3,40.85 436.6,40.85 436.9,40.85 437.2,40.85 437.5,40.85 437.8,40.85 438.1,40.85 438.4,40.85 438.7,40.85 439,40.85 439.3,40.85 439.6,40.85 439.9,40.85 440.2,40.85 440.5,40.85 440.8,40.85 441.1,40.85 441.4,40.85 441.7,40.85 442,40.85 442.3,40.85 442.6,40.85 442.9,40.85 443.2,40.85 443.5,40.85 443.8,40.85 444.1,40.85 444.4,40.85 444.7,40.85 445,40.85 445.3,40.85 445.6,40.85 445.9,40.85 446.2,40.85 446.5,40.85 446.8,40.85 447.1,40.85 447.4,40.85 447.7,40.85 448,40.85 448.3,40.85 448.6,40.85 448.9,40.85 449.2,40.85 449.5,40.85 449.8,40.85 450.1,40.85 450.4,40.85 450.7,40.85 451,40.85 451.3,40.85 451.6,40.85 451.9,40.85 452.2,40.85 452.5,40.85 452.8,40.85 453.1,40.85 453.4,40.85 453.7,40.85 454,40.85 454.3,40.84 454.6,40.81 454.9,40.75 455.2,40.63 455.5,40.36 455.8,39.86 456.1,38.98 456.4,37.58 456.7,35.55 457,32.88 457.3,29.71 457.6,26.4 457.9,23.44 458.2,21.39 458.5,20.65 458.8,21.39 459.1,23.44 459.4,26.4 459.7,29.71 460,32.88 460.3,35.55 460.6,37.58 460.9,38.98 461.2,39.86 461.5,40.36 461.8,40.63 462.1,40.75 462.4,40.81 462.7,40.84 463,40.85 463.3,40.85 463.6,40.85 463.9,40.85 464.2,40.85 464.5,40.85 464.8,40.85 465.1,40.85 465.4,40.85 465.7,40.85 466,40.85 466.3,40.85 466.6,40.85 466.9,40.85 467.2,40.85 467.5,40.85 467.8,40.85 468.1,40.85 468.4,40.85 468.7,40.85 469,40.85 469.3,40.85 469.6,40.85 469.9,40.85 470.2,40.85" fill="none" stroke="#1f34ff" stroke-width="1.3" stroke-linejoin="round"/><polygon points="267.7,86.1 268,86.32 268.3,86.62 268.6,86.17 268.9,86.4 269.2,86.5 269.5,86.31 269.8,86.14 270.1,86.64 270.4,86.21 270.7,85.06 271,86.25 271.3,86.11 271.6,86.79 271.9,86.13 272.2,86.14 272.5,86.28 272.8,86.22 273.1,86.56 273.4,86.17 273.7,86.18 274,84.92 274.3,86.97 274.6,86.46 274.9,84.92 275.2,86.36 275.5,86.3 275.8,86.31 276.1,86.15 276.4,86.51 276.7,86.52 277,84.94 277.3,86.71 277.6,86.52 277.9,85.72 278.2,86.6 278.5,86.64 278.8,86.18 279.1,86.52 279.4,86.49 279.7,86.2 280,86.37 280.3,86.25 280.6,86.26 280.9,86.8 281.2,86.13 281.5,86.46 281.8,86.23 282.1,86.61 282.4,86.14 282.7,86.52 283,86.51 283.3,86.53 283.6,86.87 283.9,86.27 284.2,86.47 284.5,86.37 284.8,86.18 285.1,86.52 285.4,86.5 285.7,86.16 286,86.13 286.3,86.34 286.6,86.49 286.9,86.78 287.2,86.49 287.5,86.42 287.8,86.23 288.1,86.6 288.4,85.88 288.7,86.18 289,85.46 289.3,84.63 289.6,83.53 289.9,82.92 290.2,81.34 290.5,79.55 290.8,78.12 291.1,77.4 291.4,77.55 291.7,78.53 292,80.13 292.3,81.5 292.6,82.84 292.9,84.05 293.2,84.9 293.5,85.3 293.8,85.92 294.1,86.2 294.4,86.46 294.7,86.3 295,86.36 295.3,86.12 295.6,86.33 295.9,84.71 296.2,86.15 296.5,86.4 296.8,86.12 297.1,86.29 297.4,86.44 297.7,86.61 298,86.27 298.3,86.27 298.6,86.13 298.9,86.46 299.2,86.2 299.5,86.42 299.8,86.73 300.1,86.17 300.4,86.49 300.7,86.32 301,86.64 301.3,86.85 301.6,86.52 301.9,86.24 302.2,86.57 302.5,86.24 302.8,86.25 303.1,86.31 303.4,86.34 303.7,86.71 304,86.35 304.3,86.5 304.6,86.23 304.9,86.21 305.2,86.35 305.5,86.16 305.8,86.25 306.1,86.31 306.4,86.38 306.7,86.2 307,86.45 307.3,86.32 307.6,85.31 307.9,86.88 308.2,86.22 308.5,86.65 308.8,86.31 309.1,86.82 309.4,86.27 309.7,86.37 310,86.54 310.3,86.45 310.6,86.76 310.9,86.62 311.2,86.29 311.5,86.54 311.8,86.37 312.1,86.67 312.4,86.11 312.7,86.25 313,86.14 313.3,86.4 313.6,86.27 313.9,86.18 314.2,86.65 314.5,86.72 314.8,86.2 315.1,86.3 315.4,86.51 315.7,86.29 316,86.53 316.3,86.19 316.6,86.29 316.9,86.41 317.2,86.49 317.5,86.15 317.8,86.2 318.1,86.22 318.4,86.15 318.7,86.5 319,86.51 319.3,86.21 319.6,86.41 319.9,86.55 320.2,86.44 320.5,86.87 320.8,86.33 321.1,86.53 321.4,86.03 321.7,85.87 322,85.73 322.3,85.28 322.6,84.82 322.9,83.88 323.2,82.75 323.5,81.6 323.8,80.13 324.1,78.53 324.4,77.55 324.7,77.4 325,78.12 325.3,79.55 325.6,81.01 325.9,82.7 326.2,83.64 326.5,84.81 326.8,85.53 327.1,85.54 327.4,86.15 327.7,86.23 328,85.1 328.3,86.47 328.6,86.43 328.9,86.51 329.2,86.33 329.5,86.25 329.8,86.13 330.1,86.95 330.4,86.68 330.7,85.33 331,86.56 331.3,86.24 331.6,86.15 331.9,86.11 332.2,86.6 332.5,86.68 332.8,86.24 333.1,86.17 333.4,86.34 333.7,86.74 334,85.7 334.3,86.14 334.6,86.16 334.9,86.85 335.2,86.58 335.5,86.41 335.8,86.41 336.1,86.46 336.4,86.34 336.7,86.21 337,86.85 337.3,86.2 337.6,86.25 337.9,86.54 338.2,86.6 338.5,86.92 338.8,86.38 339.1,86.42 339.4,86.44 339.7,86.16 340,86.51 340.3,86.45 340.6,86.5 340.9,86.15 341.2,86.36 341.5,86.24 341.8,86.29 342.1,86.27 342.4,86.21 342.7,86.43 343,86.62 343.3,86.3 343.6,86.49 343.9,86.89 344.2,86.94 344.5,86.43 344.8,86.15 345.1,86.54 345.4,86.25 345.7,86.26 346,86.33 346.3,86.33 346.6,86.5 346.9,85.54 347.2,87.14 347.5,86.75 347.8,86.77 348.1,86.19 348.4,86.39 348.7,86.91 349,86.5 349.3,86.53 349.6,86.22 349.9,84.52 350.2,86.31 350.5,86.66 350.8,86.34 351.1,86.14 351.4,86.58 351.7,86.59 352,86.3 352.3,86.29 352.6,86.19 352.9,86.36 353.2,86.22 353.5,86.11 353.8,86.34 354.1,86.26 354.4,86.5 354.7,86.12 355,86.2 355.3,86.32 355.6,85.69 355.9,84.94 356.2,84.16 356.5,83.11 356.8,82.35 357.1,80.54 357.4,79.01 357.7,77.79 358,77.35 358.3,77.79 358.6,79.01 358.9,80.54 359.2,81.89 359.5,83.32 359.8,84.31 360.1,84.9 360.4,85.48 360.7,86.63 361,85.96 361.3,86.7 361.6,86.37 361.9,87.04 362.2,86.41 362.5,87.37 362.8,86.1 363.1,86.48 363.4,86.28 363.7,86.17 364,86.52 364.3,86.46 364.6,86.85 364.9,86.53 365.2,86.49 365.5,86.26 365.8,86.24 366.1,86.31 366.4,86.14 366.7,86.11 367,86.26 367.3,86.14 367.6,86.14 367.9,86.45 368.2,86.54 368.5,86.38 368.8,86.17 369.1,86.62 369.4,86.65 369.7,86.23 370,86.46 370.3,86.17 370.6,86.52 370.9,86.17 371.2,86.26 371.5,86.18 371.8,86.12 372.1,86.81 372.4,86.51 372.7,86.12 373,86.29 373.3,86.47 373.6,86.78 373.9,86.19 374.2,87.08 374.5,86.34 374.8,86.34 375.1,86.69 375.4,86.17 375.7,86.1 376,86.92 376.3,86.36 376.6,86.28 376.9,86.21 377.2,86.46 377.5,86.34 377.8,86.31 378.1,86.29 378.4,86.44 378.7,86.65 379,86.26 379.3,86.87 379.6,86.73 379.9,86.18 380.2,86.28 380.5,86.16 380.8,86.74 381.1,86.19 381.4,86.97 381.7,86.45 382,86.61 382.3,86.58 382.6,86.21 382.9,86.43 383.2,86.46 383.5,86.1 383.8,86.19 384.1,86.34 384.4,86.47 384.7,86.41 385,86.85 385.3,86.65 385.6,86.65 385.9,86.31 386.2,86.33 386.5,86.38 386.8,86.39 387.1,86.24 387.4,86.31 387.7,86.27 388,86.06 388.3,86.67 388.6,86.68 388.9,86.45 389.2,85.23 389.5,84.68 389.8,83.78 390.1,82.74 390.4,81.46 390.7,80.13 391,78.53 391.3,77.55 391.6,77.4 391.9,78.12 392.2,79.55 392.5,81.04 392.8,82.41 393.1,84 393.4,84.56 393.7,85.12 394,85.95 394.3,86.42 394.6,86.21 394.9,86.04 395.2,86.32 395.5,86.87 395.8,86.43 396.1,86.18 396.4,86.44 396.7,86.43 397,86.34 397.3,86.28 397.6,86.25 397.9,86.62 398.2,86.12 398.5,86.43 398.8,86.48 399.1,86.32 399.4,86.41 399.7,86.3 400,86.26 400.3,86.55 400.6,86.28 400.9,86.38 401.2,86.29 401.5,86.41 401.8,86.37 402.1,86.15 402.4,86.28 402.7,86.26 403,86.73 403.3,86.16 403.6,86.33 403.9,86.23 404.2,86.54 404.5,86.19 404.8,86.2 405.1,86.46 405.4,86.15 405.7,86.49 406,86.95 406.3,86.17 406.6,86.4 406.9,86.28 407.2,86.12 407.5,86.16 407.8,86.31 408.1,86.31 408.4,86.13 408.7,86.88 409,86.18 409.3,86.23 409.6,86.54 409.9,86.3 410.2,86.38 410.5,86.53 410.8,86.31 411.1,86.15 411.4,86.28 411.7,86.38 412,86.11 412.3,86.5 412.6,86.48 412.9,86.25 413.2,86.28 413.5,86.84 413.8,86.43 414.1,86.48 414.4,86.27 414.7,86.18 415,86.37 415.3,86.79 415.6,86.4 415.9,86.39 416.2,86.2 416.5,86.24 416.8,86.18 417.1,86.34 417.4,85.88 417.7,86.21 418,86.3 418.3,86.36 418.6,86.2 418.9,86.56 419.2,86.32 419.5,86.75 419.8,86.45 420.1,86.16 420.4,86.32 420.7,85.31 421,86.1 421.3,86.2 421.6,86.41 421.9,85.94 422.2,85.93 422.5,85.48 422.8,85.09 423.1,84.32 423.4,82.72 423.7,81.76 424,80.13 424.3,78.53 424.6,77.55 424.9,77.4 425.2,78.12 425.5,79.55 425.8,81.57 426.1,82.43 426.4,83.58 426.7,84.79 427,85.25 427.3,85.74 427.6,84.64 427.9,86.43 428.2,86.15 428.5,86.43 428.8,86.22 429.1,87.08 429.4,86.23 429.7,86.18 430,86.25 430.3,86.56 430.6,86.36 430.9,86.14 431.2,86.24 431.5,86.5 431.8,86.34 432.1,86.25 432.4,86.37 432.7,86.32 433,86.84 433.3,86.18 433.6,86.78 433.9,86.34 434.2,86.56 434.5,86.16 434.8,86 435.1,86.75 435.4,86.34 435.7,86.27 436,86.55 436.3,86.3 436.6,86.36 436.9,86.32 437.2,86.54 437.5,86.37 437.8,86.62 438.1,86.68 438.4,86.58 438.7,86.67 439,86.16 439.3,86.25 439.6,86.33 439.9,86.11 440.2,86.34 440.5,86.1 440.8,86.31 441.1,86.21 441.4,86.12 441.7,86.21 442,86.29 442.3,86.11 442.6,86.5 442.9,86.48 443.2,86.66 443.5,86.27 443.8,86.59 444.1,86.65 444.4,86.41 444.7,86.39 445,86.26 445.3,86.51 445.6,86.12 445.9,86.25 446.2,87.02 446.5,86.59 446.8,86.55 447.1,85.68 447.4,86.2 447.7,86.42 448,86.3 448.3,86.25 448.6,86.17 448.9,86.1 449.2,85 449.5,86.53 449.8,86.63 450.1,86.28 450.4,86.55 450.7,86.45 451,86.39 451.3,86.5 451.6,86.87 451.9,86.59 452.2,85.49 452.5,86.13 452.8,86.51 453.1,86.26 453.4,86.56 453.7,86.31 454,86.41 454.3,86.15 454.6,86.79 454.9,86.78 455.2,86.05 455.5,86.12 455.8,86.17 456.1,85.51 456.4,84.87 456.7,84.15 457,83.41 457.3,81.84 457.6,80.54 457.9,79.01 458.2,77.79 458.5,77.35 458.8,77.79 459.1,79.01 459.4,80.54 459.7,82.53 460,83.12 460.3,84.22 460.6,85.05 460.9,85.9 461.2,85.73 461.5,86.55 461.8,86.23 462.1,86.34 462.4,86.54 462.7,86.14 463,86.21 463.3,86.17 463.6,86.31 463.9,86.78 464.2,86.14 464.5,86.39 464.8,86.14 465.1,86.24 465.4,86.23 465.7,86.23 466,86.51 466.3,86.3 466.6,86.34 466.9,86.26 467.2,86.61 467.5,86.59 467.8,86.47 468.1,86.52 468.4,86.26 468.7,86.3 469,86.15 469.3,86.34 469.6,86.1 469.9,86.56 470.2,86.34 470.2,93.59 469.9,93.5 469.6,93.51 469.3,93.83 469,93.35 468.7,91.77 468.4,92.47 468.1,93.79 467.8,93.44 467.5,97.88 467.2,97.79 466.9,93.31 466.6,93.68 466.3,93.59 466,93.7 465.7,93.48 465.4,93.24 465.1,93.88 464.8,93.05 464.5,93.76 464.2,93.64 463.9,93.26 463.6,92.85 463.3,93.77 463,92.45 462.7,93.6 462.4,92.26 462.1,93.33 461.8,93.47 461.5,93.4 461.2,92.72 460.9,90.92 460.6,89.59 460.3,89.67 460,86.4 459.7,84.24 459.4,82.29 459.1,80.31 458.8,79.09 458.5,78.65 458.2,79.09 457.9,80.31 457.6,82.29 457.3,84.46 457,86.69 456.7,88.24 456.4,89.92 456.1,92.2 455.8,92.86 455.5,92.73 455.2,92.7 454.9,92.89 454.6,93.47 454.3,93.67 454,94.92 453.7,94.45 453.4,94.99 453.1,93.15 452.8,93.11 452.5,93.65 452.2,93.75 451.9,93.06 451.6,95.35 451.3,95.38 451,93.57 450.7,94.46 450.4,91.68 450.1,93.71 449.8,93.13 449.5,93.35 449.2,92.77 448.9,92.71 448.6,93.82 448.3,93.7 448,92.96 447.7,93.54 447.4,93.08 447.1,94.02 446.8,93.63 446.5,93.45 446.2,93.56 445.9,97 445.6,96.26 445.3,96.82 445,96.36 444.7,93.05 444.4,94.75 444.1,94.81 443.8,95.68 443.5,92.38 443.2,93.01 442.9,93.27 442.6,92.81 442.3,93.86 442,93.41 441.7,93.82 441.4,93.82 441.1,93.6 440.8,93.43 440.5,93.5 440.2,93.56 439.9,93.8 439.6,93.72 439.3,94.03 439,94.42 438.7,93.94 438.4,94.32 438.1,94.01 437.8,93.55 437.5,92.83 437.2,93.13 436.9,93.56 436.6,93.22 436.3,93.24 436,93.62 435.7,92.76 435.4,93.57 435.1,93.7 434.8,93.15 434.5,93.88 434.2,93.57 433.9,93.69 433.6,93.29 433.3,93.59 433,93.63 432.7,93 432.4,93.78 432.1,93.18 431.8,93.65 431.5,93.83 431.2,93.55 430.9,93.71 430.6,92.55 430.3,96.97 430,92.75 429.7,92.21 429.4,92.37 429.1,92.6 428.8,93.67 428.5,93.4 428.2,92.33 427.9,93.19 427.6,92.38 427.3,92.15 427,90.97 426.7,90.23 426.4,89.85 426.1,87.16 425.8,82.57 425.5,80.85 425.2,79.42 424.9,78.7 424.6,78.85 424.3,79.83 424,81.45 423.7,83.99 423.4,86.24 423.1,88.68 422.8,90.71 422.5,91.61 422.2,92.09 421.9,93.29 421.6,93.19 421.3,94.08 421,94.89 420.7,97.83 420.4,97.7 420.1,93.22 419.8,93.69 419.5,93.5 419.2,93.72 418.9,93.68 418.6,93.56 418.3,92.78 418,93.26 417.7,93.41 417.4,93.36 417.1,92.91 416.8,93.56 416.5,93.32 416.2,93.15 415.9,93.43 415.6,93.36 415.3,93.06 415,93.74 414.7,93.11 414.4,92.93 414.1,93.67 413.8,92.85 413.5,93.85 413.2,92.75 412.9,93.54 412.6,93.42 412.3,93.5 412,93.61 411.7,93.17 411.4,93.36 411.1,94.32 410.8,93.4 410.5,95.81 410.2,96 409.9,95.44 409.6,96.07 409.3,96.06 409,93.32 408.7,93.71 408.4,93.66 408.1,93.06 407.8,97.4 407.5,96.31 407.2,97.61 406.9,97 406.6,93.03 406.3,93.94 406,93.27 405.7,92.71 405.4,93.33 405.1,94.43 404.8,93.84 404.5,93.49 404.2,93.65 403.9,93.77 403.6,93.41 403.3,92.05 403,93.12 402.7,92.78 402.4,93.23 402.1,92.9 401.8,92.41 401.5,94.59 401.2,94.14 400.9,93.32 400.6,93.2 400.3,93.15 400,93.57 399.7,93.09 399.4,92.79 399.1,94.91 398.8,93 398.5,93.58 398.2,93.7 397.9,93.13 397.6,93.58 397.3,93.73 397,92.55 396.7,93.05 396.4,93.96 396.1,93.86 395.8,94.86 395.5,94.34 395.2,94.42 394.9,93.38 394.6,97.22 394.3,92.87 394,92.48 393.7,91.33 393.4,89.48 393.1,89.36 392.8,85.14 392.5,82.25 392.2,80.85 391.9,79.42 391.6,78.7 391.3,78.85 391,79.83 390.7,81.45 390.4,82.89 390.1,86.47 389.8,88.66 389.5,89.94 389.2,90.22 388.9,92.49 388.6,94.31 388.3,93.16 388,94.48 387.7,93.48 387.4,92.03 387.1,93.09 386.8,93.72 386.5,93.36 386.2,92.59 385.9,92.53 385.6,93.4 385.3,93.68 385,93.86 384.7,93.6 384.4,93.31 384.1,93 383.8,93.88 383.5,93.88 383.2,92.98 382.9,93.67 382.6,93.21 382.3,92.77 382,92.41 381.7,93.37 381.4,92.61 381.1,92.85 380.8,93.37 380.5,93.76 380.2,93.89 379.9,92.12 379.6,93.52 379.3,93.64 379,93.79 378.7,93.63 378.4,93.45 378.1,93.79 377.8,92.21 377.5,93.57 377.2,92.64 376.9,93.82 376.6,93.31 376.3,93.71 376,92.95 375.7,93.25 375.4,92.46 375.1,93.41 374.8,92.76 374.5,93.68 374.2,92.93 373.9,94.39 373.6,94.01 373.3,94.26 373,94.42 372.7,93.43 372.4,93.87 372.1,95.89 371.8,95.57 371.5,93.6 371.2,93.66 370.9,93.6 370.6,93.8 370.3,92.99 370,93.81 369.7,93.74 369.4,92.76 369.1,93.75 368.8,92.54 368.5,94.88 368.2,93.71 367.9,93.55 367.6,95.56 367.3,92.52 367,96.86 366.7,94.05 366.4,93.21 366.1,93.57 365.8,93.72 365.5,93.06 365.2,93.21 364.9,92.93 364.6,93.46 364.3,93.87 364,93.55 363.7,94.74 363.4,93.9 363.1,95.12 362.8,94.57 362.5,93.57 362.2,93.21 361.9,93.73 361.6,92.91 361.3,92.86 361,93.36 360.7,93.07 360.4,94.46 360.1,93.67 359.8,89.22 359.5,86.93 359.2,83.29 358.9,82.29 358.6,80.31 358.3,79.09 358,78.65 357.7,79.09 357.4,80.31 357.1,82.29 356.8,84.28 356.5,86.94 356.2,88.45 355.9,91.11 355.6,91.53 355.3,94.02 355,94.49 354.7,93.46 354.4,92.99 354.1,93.78 353.8,93.57 353.5,95.11 353.2,93.43 352.9,93.5 352.6,93.57 352.3,91.88 352,93.33 351.7,93.19 351.4,92.73 351.1,93.58 350.8,92.96 350.5,93.25 350.2,93.82 349.9,97.27 349.6,96.98 349.3,96.53 349,96.64 348.7,93.86 348.4,93.85 348.1,93.15 347.8,91.75 347.5,95.31 347.2,93.77 346.9,93.55 346.6,93.59 346.3,92.33 346,94.94 345.7,95.1 345.4,96.04 345.1,93.31 344.8,93.5 344.5,93.13 344.2,93.81 343.9,93.04 343.6,93.8 343.3,93.29 343,93.56 342.7,93.33 342.4,93.53 342.1,93.58 341.8,93.46 341.5,93.84 341.2,93.67 340.9,93.35 340.6,93.19 340.3,93.45 340,93.11 339.7,93.79 339.4,93.49 339.1,93.65 338.8,93.43 338.5,92.91 338.2,93.41 337.9,93.85 337.6,93.65 337.3,92.19 337,91.8 336.7,93.83 336.4,93.67 336.1,92.68 335.8,92.74 335.5,93.69 335.2,93.85 334.9,93.31 334.6,93.63 334.3,93.78 334,91.62 333.7,93.34 333.4,97.3 333.1,97.83 332.8,97.52 332.5,93.45 332.2,93.25 331.9,93.18 331.6,93.73 331.3,92.56 331,93.58 330.7,92.85 330.4,93.25 330.1,93.76 329.8,91.73 329.5,93.87 329.2,93.45 328.9,93.8 328.6,92.25 328.3,93.22 328,93.3 327.7,92.23 327.4,92.46 327.1,91.97 326.8,90.01 326.5,89.3 326.2,87.73 325.9,84.74 325.6,82.8 325.3,80.85 325,79.42 324.7,78.7 324.4,78.85 324.1,79.83 323.8,81.45 323.5,83.57 323.2,85.6 322.9,88.29 322.6,90.37 322.3,90.6 322,92.28 321.7,93.37 321.4,93.29 321.1,93.34 320.8,92.9 320.5,93.16 320.2,93.71 319.9,92.3 319.6,93.63 319.3,94.89 319,95.59 318.7,95.9 318.4,95.61 318.1,93.4 317.8,93.6 317.5,93.37 317.2,92.71 316.9,97.88 316.6,96.22 316.3,97.12 316,93.54 315.7,92.75 315.4,93.44 315.1,93.75 314.8,93.69 314.5,93.06 314.2,92.72 313.9,93.44 313.6,93.35 313.3,93.43 313,92.54 312.7,93.74 312.4,95.06 312.1,95.29 311.8,93.9 311.5,93.17 311.2,93.48 310.9,93.6 310.6,93.66 310.3,93.71 310,92.96 309.7,92.96 309.4,93.22 309.1,92.54 308.8,93.51 308.5,93.43 308.2,93.66 307.9,93.29 307.6,92.7 307.3,92.87 307,93.02 306.7,91.95 306.4,93.42 306.1,93.11 305.8,93.67 305.5,93.24 305.2,93.87 304.9,93.89 304.6,95.86 304.3,96.62 304,97.23 303.7,96.35 303.4,93.81 303.1,93.53 302.8,93.19 302.5,93.07 302.2,93.12 301.9,93.32 301.6,93.63 301.3,93.9 301,93.19 300.7,92.52 300.4,93.3 300.1,93.59 299.8,93.25 299.5,93.77 299.2,93.28 298.9,92.34 298.6,92.91 298.3,92.93 298,96.54 297.7,96.94 297.4,93.05 297.1,92.08 296.8,93.23 296.5,93.17 296.2,92.54 295.9,93.4 295.6,93.25 295.3,93.37 295,93.17 294.7,92.69 294.4,93.16 294.1,93.73 293.8,91.72 293.5,92.9 293.2,92.28 292.9,90.28 292.6,86.34 292.3,83.32 292,81.45 291.7,79.83 291.4,78.85 291.1,78.7 290.8,79.42 290.5,80.85 290.2,82.75 289.9,85.66 289.6,87.9 289.3,89.21 289,90.21 288.7,92.38 288.4,92.74 288.1,92.69 287.8,93.52 287.5,92.92 287.2,92.93 286.9,93.5 286.6,93.62 286.3,92.74 286,92.83 285.7,93.23 285.4,92.97 285.1,92.28 284.8,93.03 284.5,93.52 284.2,93.27 283.9,93.76 283.6,93.98 283.3,94.29 283,93.31 282.7,93.67 282.4,93.43 282.1,92.67 281.8,93.46 281.5,93.65 281.2,93.69 280.9,93.6 280.6,93.6 280.3,93.73 280,92.99 279.7,93.62 279.4,93.05 279.1,93.79 278.8,92.8 278.5,91.87 278.2,93.85 277.9,93.68 277.6,92.22 277.3,93.76 277,93.57 276.7,93.75 276.4,96.15 276.1,95.91 275.8,95.83 275.5,96.48 275.2,93.58 274.9,92.98 274.6,93.09 274.3,92.96 274,93.77 273.7,93.85 273.4,94.57 273.1,94.02 272.8,92.65 272.5,92.17 272.2,95.55 271.9,95.35 271.6,93.83 271.3,93.52 271,93.88 270.7,92.93 270.4,93.78 270.1,93.88 269.8,93.25 269.5,93.61 269.2,93.77 268.9,93.2 268.6,93.65 268.3,93.81 268,92.55 267.7,93.89" fill="#e4b02f"/><polyline points="267.7,90 268,90 268.3,90 268.6,90 268.9,90 269.2,90 269.5,90 269.8,90 270.1,90 270.4,90 270.7,90 271,90 271.3,90 271.6,90 271.9,90 272.2,90 272.5,90 272.8,90 273.1,90 273.4,90 273.7,90 274,90 274.3,90 274.6,90 274.9,90 275.2,90 275.5,90 275.8,90 276.1,90 276.4,90 276.7,90 277,90 277.3,90 277.6,90 277.9,90 278.2,90 278.5,90 278.8,90 279.1,90 279.4,90 279.7,90 280,90 280.3,90 280.6,90 280.9,90 281.2,90 281.5,90 281.8,90 282.1,90 282.4,90 282.7,90 283,90 283.3,90 283.6,90 283.9,90 284.2,90 284.5,90 284.8,90 285.1,90 285.4,90 285.7,90 286,90 286.3,90 286.6,90 286.9,89.99 287.2,89.98 287.5,89.96 287.8,89.9 288.1,89.77 288.4,89.53 288.7,89.09 289,88.38 289.3,87.3 289.6,85.83 289.9,84.03 290.2,82.06 290.5,80.2 290.8,78.77 291.1,78.05 291.4,78.2 291.7,79.18 292,80.79 292.3,82.72 292.6,84.66 292.9,86.36 293.2,87.7 293.5,88.65 293.8,89.27 294.1,89.63 294.4,89.83 294.7,89.92 295,89.97 295.3,89.99 295.6,90 295.9,90 296.2,90 296.5,90 296.8,90 297.1,90 297.4,90 297.7,90 298,90 298.3,90 298.6,90 298.9,90 299.2,90 299.5,90 299.8,90 300.1,90 300.4,90 300.7,90 301,90 301.3,90 301.6,90 301.9,90 302.2,90 302.5,90 302.8,90 303.1,90 303.4,90 303.7,90 304,90 304.3,90 304.6,90 304.9,90 305.2,90 305.5,90 305.8,90 306.1,90 306.4,90 306.7,90 307,90 307.3,90 307.6,90 307.9,90 308.2,90 308.5,90 308.8,90 309.1,90 309.4,90 309.7,90 310,90 310.3,90 310.6,90 310.9,90 311.2,90 311.5,90 311.8,90 312.1,90 312.4,90 312.7,90 313,90 313.3,90 313.6,90 313.9,90 314.2,90 314.5,90 314.8,90 315.1,90 315.4,90 315.7,90 316,90 316.3,90 316.6,90 316.9,90 317.2,90 317.5,90 317.8,90 318.1,90 318.4,90 318.7,90 319,90 319.3,90 319.6,90 319.9,90 320.2,90 320.5,89.99 320.8,89.97 321.1,89.92 321.4,89.83 321.7,89.63 322,89.27 322.3,88.65 322.6,87.7 322.9,86.36 323.2,84.66 323.5,82.72 323.8,80.79 324.1,79.18 324.4,78.2 324.7,78.05 325,78.77 325.3,80.2 325.6,82.06 325.9,84.03 326.2,85.83 326.5,87.3 326.8,88.38 327.1,89.09 327.4,89.53 327.7,89.77 328,89.9 328.3,89.96 328.6,89.98 328.9,89.99 329.2,90 329.5,90 329.8,90 330.1,90 330.4,90 330.7,90 331,90 331.3,90 331.6,90 331.9,90 332.2,90 332.5,90 332.8,90 333.1,90 333.4,90 333.7,90 334,90 334.3,90 334.6,90 334.9,90 335.2,90 335.5,90 335.8,90 336.1,90 336.4,90 336.7,90 337,90 337.3,90 337.6,90 337.9,90 338.2,90 338.5,90 338.8,90 339.1,90 339.4,90 339.7,90 340,90 340.3,90 340.6,90 340.9,90 341.2,90 341.5,90 341.8,90 342.1,90 342.4,90 342.7,90 343,90 343.3,90 343.6,90 343.9,90 344.2,90 344.5,90 344.8,90 345.1,90 345.4,90 345.7,90 346,90 346.3,90 346.6,90 346.9,90 347.2,90 347.5,90 347.8,90 348.1,90 348.4,90 348.7,90 349,90 349.3,90 349.6,90 349.9,90 350.2,90 350.5,90 350.8,90 351.1,90 351.4,90 351.7,90 352,90 352.3,90 352.6,90 352.9,90 353.2,90 353.5,90 353.8,89.99 354.1,89.98 354.4,89.94 354.7,89.87 355,89.71 355.3,89.41 355.6,88.89 355.9,88.06 356.2,86.85 356.5,85.26 356.8,83.38 357.1,81.41 357.4,79.66 357.7,78.44 358,78 358.3,78.44 358.6,79.66 358.9,81.41 359.2,83.38 359.5,85.26 359.8,86.85 360.1,88.06 360.4,88.89 360.7,89.41 361,89.71 361.3,89.87 361.6,89.94 361.9,89.98 362.2,89.99 362.5,90 362.8,90 363.1,90 363.4,90 363.7,90 364,90 364.3,90 364.6,90 364.9,90 365.2,90 365.5,90 365.8,90 366.1,90 366.4,90 366.7,90 367,90 367.3,90 367.6,90 367.9,90 368.2,90 368.5,90 368.8,90 369.1,90 369.4,90 369.7,90 370,90 370.3,90 370.6,90 370.9,90 371.2,90 371.5,90 371.8,90 372.1,90 372.4,90 372.7,90 373,90 373.3,90 373.6,90 373.9,90 374.2,90 374.5,90 374.8,90 375.1,90 375.4,90 375.7,90 376,90 376.3,90 376.6,90 376.9,90 377.2,90 377.5,90 377.8,90 378.1,90 378.4,90 378.7,90 379,90 379.3,90 379.6,90 379.9,90 380.2,90 380.5,90 380.8,90 381.1,90 381.4,90 381.7,90 382,90 382.3,90 382.6,90 382.9,90 383.2,90 383.5,90 383.8,90 384.1,90 384.4,90 384.7,90 385,90 385.3,90 385.6,90 385.9,90 386.2,90 386.5,90 386.8,90 387.1,90 387.4,89.99 387.7,89.97 388,89.92 388.3,89.83 388.6,89.63 388.9,89.27 389.2,88.65 389.5,87.7 389.8,86.36 390.1,84.66 390.4,82.72 390.7,80.79 391,79.18 391.3,78.2 391.6,78.05 391.9,78.77 392.2,80.2 392.5,82.06 392.8,84.03 393.1,85.83 393.4,87.3 393.7,88.38 394,89.09 394.3,89.53 394.6,89.77 394.9,89.9 395.2,89.96 395.5,89.98 395.8,89.99 396.1,90 396.4,90 396.7,90 397,90 397.3,90 397.6,90 397.9,90 398.2,90 398.5,90 398.8,90 399.1,90 399.4,90 399.7,90 400,90 400.3,90 400.6,90 400.9,90 401.2,90 401.5,90 401.8,90 402.1,90 402.4,90 402.7,90 403,90 403.3,90 403.6,90 403.9,90 404.2,90 404.5,90 404.8,90 405.1,90 405.4,90 405.7,90 406,90 406.3,90 406.6,90 406.9,90 407.2,90 407.5,90 407.8,90 408.1,90 408.4,90 408.7,90 409,90 409.3,90 409.6,90 409.9,90 410.2,90 410.5,90 410.8,90 411.1,90 411.4,90 411.7,90 412,90 412.3,90 412.6,90 412.9,90 413.2,90 413.5,90 413.8,90 414.1,90 414.4,90 414.7,90 415,90 415.3,90 415.6,90 415.9,90 416.2,90 416.5,90 416.8,90 417.1,90 417.4,90 417.7,90 418,90 418.3,90 418.6,90 418.9,90 419.2,90 419.5,90 419.8,90 420.1,90 420.4,90 420.7,89.99 421,89.97 421.3,89.92 421.6,89.83 421.9,89.63 422.2,89.27 422.5,88.65 422.8,87.7 423.1,86.36 423.4,84.66 423.7,82.72 424,80.79 424.3,79.18 424.6,78.2 424.9,78.05 425.2,78.77 425.5,80.2 425.8,82.06 426.1,84.03 426.4,85.83 426.7,87.3 427,88.38 427.3,89.09 427.6,89.53 427.9,89.77 428.2,89.9 428.5,89.96 428.8,89.98 429.1,89.99 429.4,90 429.7,90 430,90 430.3,90 430.6,90 430.9,90 431.2,90 431.5,90 431.8,90 432.1,90 432.4,90 432.7,90 433,90 433.3,90 433.6,90 433.9,90 434.2,90 434.5,90 434.8,90 435.1,90 435.4,90 435.7,90 436,90 436.3,90 436.6,90 436.9,90 437.2,90 437.5,90 437.8,90 438.1,90 438.4,90 438.7,90 439,90 439.3,90 439.6,90 439.9,90 440.2,90 440.5,90 440.8,90 441.1,90 441.4,90 441.7,90 442,90 442.3,90 442.6,90 442.9,90 443.2,90 443.5,90 443.8,90 444.1,90 444.4,90 444.7,90 445,90 445.3,90 445.6,90 445.9,90 446.2,90 446.5,90 446.8,90 447.1,90 447.4,90 447.7,90 448,90 448.3,90 448.6,90 448.9,90 449.2,90 449.5,90 449.8,90 450.1,90 450.4,90 450.7,90 451,90 451.3,90 451.6,90 451.9,90 452.2,90 452.5,90 452.8,90 453.1,90 453.4,90 453.7,90 454,90 454.3,89.99 454.6,89.98 454.9,89.94 455.2,89.87 455.5,89.71 455.8,89.41 456.1,88.89 456.4,88.06 456.7,86.85 457,85.26 457.3,83.38 457.6,81.41 457.9,79.66 458.2,78.44 458.5,78 458.8,78.44 459.1,79.66 459.4,81.41 459.7,83.38 460,85.26 460.3,86.85 460.6,88.06 460.9,88.89 461.2,89.41 461.5,89.71 461.8,89.87 462.1,89.94 462.4,89.98 462.7,89.99 463,90 463.3,90 463.6,90 463.9,90 464.2,90 464.5,90 464.8,90 465.1,90 465.4,90 465.7,90 466,90 466.3,90 466.6,90 466.9,90 467.2,90 467.5,90 467.8,90 468.1,90 468.4,90 468.7,90 469,90 469.3,90 469.6,90 469.9,90 470.2,90" fill="none" stroke="#e4b02f" stroke-width="1.3" stroke-linejoin="round"/><polygon points="267.7,138.49 268,138.88 268.3,137.47 268.6,137.26 268.9,137.53 269.2,137.22 269.5,137.51 269.8,139 270.1,138.42 270.4,138.79 270.7,138.8 271,138.48 271.3,138.48 271.6,138.53 271.9,138.3 272.2,138.48 272.5,138.28 272.8,138.5 273.1,138.69 273.4,138.5 273.7,138.24 274,138.76 274.3,138.34 274.6,138.28 274.9,137.7 275.2,137.31 275.5,134.25 275.8,135.25 276.1,137.64 276.4,138.01 276.7,138.67 277,138.15 277.3,138.8 277.6,138.24 277.9,138.4 278.2,138.36 278.5,138.26 278.8,139.1 279.1,138.74 279.4,138.38 279.7,138.41 280,138.28 280.3,139.06 280.6,138.36 280.9,138.68 281.2,138.41 281.5,138.74 281.8,138.76 282.1,138.31 282.4,138.57 282.7,138.54 283,138.53 283.3,138.51 283.6,138.84 283.9,138.72 284.2,138.43 284.5,138.64 284.8,138.41 285.1,138.42 285.4,138.35 285.7,138.71 286,138.58 286.3,138.42 286.6,137.9 286.9,138.72 287.2,138.58 287.5,138.52 287.8,138.48 288.1,138.73 288.4,138.88 288.7,138.39 289,139.01 289.3,138.68 289.6,138.77 289.9,138.38 290.2,138.67 290.5,138.64 290.8,138.51 291.1,138.39 291.4,138.7 291.7,138.78 292,138.4 292.3,138.55 292.6,136.5 292.9,136.63 293.2,136.91 293.5,136.61 293.8,136.52 294.1,136.63 294.4,138.32 294.7,138.36 295,138.66 295.3,138.48 295.6,138.7 295.9,138.37 296.2,138.79 296.5,138.7 296.8,138.77 297.1,136.77 297.4,137 297.7,136.96 298,136.94 298.3,137.05 298.6,137.1 298.9,136.76 299.2,138.31 299.5,138.88 299.8,138.3 300.1,138.39 300.4,138.79 300.7,136.9 301,136.75 301.3,136.81 301.6,136.77 301.9,139.18 302.2,136.93 302.5,137.28 302.8,136.78 303.1,138.76 303.4,138.31 303.7,136.82 304,138.48 304.3,138.36 304.6,138.57 304.9,138.58 305.2,138.29 305.5,138.57 305.8,138.42 306.1,138.45 306.4,138.79 306.7,138.46 307,138.43 307.3,138.5 307.6,138.36 307.9,138.37 308.2,138.51 308.5,138.36 308.8,138.74 309.1,138.93 309.4,138.78 309.7,138.33 310,138.79 310.3,138.42 310.6,138.91 310.9,138.71 311.2,138.79 311.5,138.48 311.8,138.67 312.1,138.43 312.4,138.58 312.7,138.36 313,138.92 313.3,138.6 313.6,138.34 313.9,138.26 314.2,139.04 314.5,137.73 314.8,138.5 315.1,138.31 315.4,138.31 315.7,138.52 316,138.76 316.3,138.33 316.6,138.33 316.9,138.52 317.2,138.39 317.5,138.42 317.8,138.5 318.1,136.8 318.4,136.72 318.7,136.84 319,136.99 319.3,138.16 319.6,138.4 319.9,138.13 320.2,138.27 320.5,139.07 320.8,137.99 321.1,138.18 321.4,137.9 321.7,138.18 322,137.83 322.3,137.9 322.6,137.46 322.9,137.89 323.2,137.11 323.5,136.55 323.8,134.89 324.1,132.63 324.4,128.82 324.7,118.57 325,109 325.3,118.57 325.6,126.95 325.9,132.1 326.2,133.91 326.5,136.22 326.8,136.75 327.1,137.16 327.4,137.33 327.7,137.69 328,138.08 328.3,137.96 328.6,138.56 328.9,138.05 329.2,138.49 329.5,138.22 329.8,138.11 330.1,138.44 330.4,138.29 330.7,138.14 331,138.36 331.3,138.68 331.6,138.18 331.9,138.31 332.2,138.51 332.5,138.21 332.8,138.39 333.1,138.34 333.4,138.4 333.7,138.5 334,138.52 334.3,138.46 334.6,138.39 334.9,138.67 335.2,138.4 335.5,138.38 335.8,138.46 336.1,138.31 336.4,138.87 336.7,138.32 337,138.59 337.3,138.38 337.6,138.34 337.9,138.66 338.2,138.74 338.5,138.58 338.8,136.9 339.1,136.96 339.4,136.82 339.7,137.13 340,137.17 340.3,136.68 340.6,136.4 340.9,136.45 341.2,136.38 341.5,136.5 341.8,136.39 342.1,138.99 342.4,138.39 342.7,136.89 343,136.41 343.3,136.38 343.6,136.43 343.9,136.42 344.2,136.52 344.5,136.85 344.8,138.49 345.1,138.7 345.4,138.55 345.7,138.6 346,138.3 346.3,138.98 346.6,138.65 346.9,138.45 347.2,138.29 347.5,138.36 347.8,138.4 348.1,136.35 348.4,136.4 348.7,136.37 349,136.13 349.3,136.35 349.6,136.45 349.9,138.92 350.2,138.49 350.5,138.37 350.8,139.16 351.1,138.36 351.4,138.65 351.7,138.59 352,139.03 352.3,138.33 352.6,138.52 352.9,138.35 353.2,138.59 353.5,138.64 353.8,138.56 354.1,138.79 354.4,138.39 354.7,138.34 355,138.3 355.3,138.48 355.6,138.3 355.9,138.3 356.2,138.52 356.5,138.61 356.8,138.86 357.1,138.37 357.4,138.77 357.7,138.64 358,138.37 358.3,138.35 358.6,138.68 358.9,138.5 359.2,138.36 359.5,138.47 359.8,138.66 360.1,138.43 360.4,138.94 360.7,138.44 361,136.81 361.3,136.71 361.6,136.49 361.9,136.51 362.2,136.66 362.5,136.57 362.8,137.05 363.1,138.58 363.4,138.81 363.7,138.55 364,136.27 364.3,136.36 364.6,136.16 364.9,138.51 365.2,138.38 365.5,138.5 365.8,138.89 366.1,138.69 366.4,138.1 366.7,137.77 367,137.57 367.3,137.8 367.6,137.58 367.9,138.03 368.2,137.85 368.5,138.35 368.8,138.71 369.1,138.4 369.4,138.64 369.7,137.13 370,137.14 370.3,137 370.6,137.2 370.9,136.91 371.2,137.26 371.5,138.41 371.8,138.39 372.1,138.45 372.4,138.53 372.7,138.66 373,138.54 373.3,138.29 373.6,138.64 373.9,138.58 374.2,138.54 374.5,138.69 374.8,138.55 375.1,138.6 375.4,138.5 375.7,138.65 376,138.63 376.3,138.45 376.6,138.98 376.9,138.28 377.2,138.36 377.5,139.09 377.8,138.5 378.1,138.47 378.4,138.43 378.7,138.85 379,138.67 379.3,138.78 379.6,138.93 379.9,139.28 380.2,138.47 380.5,138.38 380.8,139.29 381.1,136.43 381.4,138.26 381.7,138.74 382,138.51 382.3,138.31 382.6,138.23 382.9,137 383.2,136.98 383.5,138.53 383.8,138.55 384.1,138.66 384.4,138.59 384.7,138.42 385,138.24 385.3,138.55 385.6,138.18 385.9,138.33 386.2,138.38 386.5,136.33 386.8,136.25 387.1,136.36 387.4,136.25 387.7,138.18 388,137.97 388.3,137.8 388.6,137.94 388.9,137.48 389.2,137.71 389.5,137.04 389.8,136.62 390.1,135.92 390.4,134.51 390.7,131.69 391,125.68 391.3,114.28 391.6,110.5 391.9,121.79 392.2,129.19 392.5,133.22 392.8,134.43 393.1,136.83 393.4,137.18 393.7,138.06 394,137.43 394.3,137.59 394.6,138.19 394.9,137.96 395.2,138.02 395.5,138.05 395.8,138.14 396.1,138.49 396.4,138.17 396.7,138.17 397,138.13 397.3,138.22 397.6,138.18 397.9,138.56 398.2,138.37 398.5,138.22 398.8,138.25 399.1,138.59 399.4,138.51 399.7,138.68 400,138.23 400.3,138.3 400.6,138.96 400.9,138.25 401.2,138.85 401.5,138.57 401.8,138.36 402.1,138.7 402.4,138.5 402.7,138.46 403,138.47 403.3,138.82 403.6,138.71 403.9,138.33 404.2,138.31 404.5,138.44 404.8,138.38 405.1,138.33 405.4,138.48 405.7,138.33 406,139.13 406.3,138.56 406.6,138.46 406.9,138.32 407.2,138.86 407.5,138.72 407.8,139.24 408.1,137.3 408.4,136.93 408.7,137.29 409,136.86 409.3,137 409.6,138.66 409.9,138.51 410.2,139.05 410.5,138.8 410.8,138.31 411.1,138.43 411.4,138.57 411.7,138.36 412,138.36 412.3,138.59 412.6,138.71 412.9,138.99 413.2,138.35 413.5,138.6 413.8,138.39 414.1,138.84 414.4,138.88 414.7,138.46 415,138.39 415.3,138.63 415.6,138.37 415.9,137.31 416.2,137.24 416.5,136.98 416.8,137.17 417.1,138.7 417.4,138.33 417.7,138.65 418,138.56 418.3,138.33 418.6,138.99 418.9,136.67 419.2,136.45 419.5,136.88 419.8,136.74 420.1,138.3 420.4,138.84 420.7,138.54 421,138.95 421.3,137.5 421.6,138.36 421.9,137.96 422.2,138.81 422.5,138.54 422.8,138.71 423.1,138.54 423.4,138.39 423.7,138.51 424,138.67 424.3,138.66 424.6,139.26 424.9,138.43 425.2,137.13 425.5,137.31 425.8,137.35 426.1,137.17 426.4,137.28 426.7,137.37 427,138.49 427.3,138.75 427.6,138.64 427.9,139.05 428.2,138.35 428.5,138.62 428.8,138.38 429.1,138.41 429.4,138.43 429.7,138.71 430,138.6 430.3,138.38 430.6,138.66 430.9,139.12 431.2,139.01 431.5,138.53 431.8,138.35 432.1,138.49 432.4,138.47 432.7,138.82 433,138.83 433.3,138.86 433.6,138.53 433.9,138.95 434.2,138.54 434.5,138.58 434.8,138.49 435.1,138.39 435.4,138.56 435.7,138.71 436,138.54 436.3,138.61 436.6,136.4 436.9,136.52 437.2,136.5 437.5,136.29 437.8,136.27 438.1,136.38 438.4,136.38 438.7,136.61 439,136.86 439.3,138.37 439.6,138.46 439.9,138.54 440.2,138.52 440.5,138.6 440.8,137.36 441.1,137.91 441.4,137.71 441.7,138.63 442,138.58 442.3,138.73 442.6,138.75 442.9,138.34 443.2,136.44 443.5,137.57 443.8,137.42 444.1,137.52 444.4,137.48 444.7,137.72 445,137.32 445.3,137.29 445.6,138.44 445.9,139 446.2,138.88 446.5,138.57 446.8,138.34 447.1,138.3 447.4,137.69 447.7,138.32 448,137.84 448.3,138.44 448.6,138.41 448.9,138.51 449.2,138.47 449.5,138.46 449.8,136.71 450.1,136.87 450.4,137.18 450.7,136.93 451,138.95 451.3,138.47 451.6,138.43 451.9,138.25 452.2,138.31 452.5,139.09 452.8,138.29 453.1,138.53 453.4,138.25 453.7,138.22 454,138.23 454.3,138.12 454.6,136.74 454.9,138.01 455.2,137.82 455.5,137.69 455.8,137.9 456.1,137.35 456.4,137.46 456.7,136.94 457,136.28 457.3,134.87 457.6,133.24 457.9,128.2 458.2,118.57 458.5,109 458.8,118.57 459.1,128.22 459.4,133.21 459.7,135.22 460,136.01 460.3,135.87 460.6,136.2 460.9,136.24 461.2,136.34 461.5,136.54 461.8,137.84 462.1,138.12 462.4,138.17 462.7,138.09 463,138.42 463.3,138.12 463.6,138.11 463.9,138.23 464.2,138.13 464.5,138.36 464.8,138.25 465.1,138.76 465.4,136.39 465.7,136.41 466,138.35 466.3,138.21 466.6,138.75 466.9,138.64 467.2,138.57 467.5,138.44 467.8,138.6 468.1,138.34 468.4,138.25 468.7,138.93 469,138.47 469.3,138.71 469.6,138.31 469.9,138.75 470.2,138.52 470.2,144.63 469.9,144.62 469.6,144.83 469.3,144.77 469,144.77 468.7,144.7 468.4,144.77 468.1,144.82 467.8,144.48 467.5,144.52 467.2,144.55 466.9,144.56 466.6,144.75 466.3,144.73 466,144.58 465.7,144.73 465.4,144.74 465.1,144.58 464.8,144.48 464.5,144.63 464.2,144.59 463.9,144.63 463.6,144.57 463.3,144.44 463,144.41 462.7,144.46 462.4,144.34 462.1,144.1 461.8,144.07 461.5,144.07 461.2,143.8 460.9,143.68 460.6,143.22 460.3,142.77 460,141.73 459.7,140.51 459.4,137.65 459.1,132.1 458.8,120.31 458.5,110.2 458.2,120.31 457.9,131.96 457.6,137.68 457.3,140.48 457,141.86 456.7,142.7 456.4,143.08 456.1,143.59 455.8,143.89 455.5,144.11 455.2,144.12 454.9,144.11 454.6,144.4 454.3,144.31 454,144.39 453.7,144.58 453.4,144.49 453.1,144.48 452.8,144.63 452.5,144.66 452.2,144.57 451.9,144.56 451.6,144.46 451.3,144.61 451,144.69 450.7,144.69 450.4,144.51 450.1,144.7 449.8,144.79 449.5,144.8 449.2,144.77 448.9,144.8 448.6,144.71 448.3,144.83 448,144.79 447.7,144.83 447.4,144.78 447.1,144.72 446.8,144.68 446.5,144.83 446.2,144.78 445.9,144.77 445.6,144.85 445.3,144.76 445,144.7 444.7,144.84 444.4,144.7 444.1,144.72 443.8,144.62 443.5,144.57 443.2,144.66 442.9,144.67 442.6,144.63 442.3,144.76 442,144.56 441.7,144.67 441.4,144.68 441.1,144.72 440.8,144.7 440.5,144.84 440.2,144.83 439.9,144.68 439.6,144.81 439.3,144.78 439,144.82 438.7,144.71 438.4,144.84 438.1,144.85 437.8,144.7 437.5,144.84 437.2,144.7 436.9,144.65 436.6,144.55 436.3,144.86 436,144.82 435.7,144.85 435.4,144.85 435.1,144.81 434.8,144.78 434.5,144.71 434.2,144.84 433.9,144.69 433.6,144.71 433.3,144.83 433,144.79 432.7,144.87 432.4,144.79 432.1,144.87 431.8,144.7 431.5,144.65 431.2,144.74 430.9,144.88 430.6,144.75 430.3,144.62 430,144.73 429.7,144.86 429.4,144.63 429.1,144.74 428.8,144.75 428.5,144.67 428.2,144.72 427.9,144.74 427.6,144.8 427.3,144.88 427,144.84 426.7,144.68 426.4,144.81 426.1,144.65 425.8,144.74 425.5,144.79 425.2,144.51 424.9,144.67 424.6,144.59 424.3,144.82 424,144.81 423.7,144.84 423.4,144.75 423.1,144.74 422.8,144.88 422.5,144.82 422.2,144.88 421.9,144.81 421.6,144.72 421.3,144.86 421,144.62 420.7,144.81 420.4,144.67 420.1,144.74 419.8,144.86 419.5,144.83 419.2,144.61 418.9,144.62 418.6,144.79 418.3,144.84 418,144.78 417.7,144.78 417.4,144.78 417.1,144.84 416.8,144.73 416.5,144.74 416.2,144.88 415.9,144.59 415.6,144.82 415.3,144.87 415,144.76 414.7,144.66 414.4,144.79 414.1,144.76 413.8,144.78 413.5,144.67 413.2,144.77 412.9,144.76 412.6,144.63 412.3,144.67 412,144.82 411.7,144.87 411.4,144.75 411.1,144.81 410.8,144.85 410.5,144.81 410.2,144.81 409.9,144.8 409.6,144.74 409.3,144.58 409,144.77 408.7,144.78 408.4,144.85 408.1,144.72 407.8,144.77 407.5,144.86 407.2,144.59 406.9,144.8 406.6,144.63 406.3,144.86 406,144.86 405.7,144.83 405.4,144.79 405.1,144.82 404.8,144.72 404.5,144.69 404.2,144.74 403.9,144.82 403.6,144.79 403.3,144.73 403,144.65 402.7,144.75 402.4,144.73 402.1,144.66 401.8,144.8 401.5,144.78 401.2,144.72 400.9,144.79 400.6,144.62 400.3,144.73 400,144.66 399.7,144.6 399.4,144.78 399.1,144.71 398.8,144.74 398.5,144.54 398.2,144.61 397.9,144.69 397.6,144.5 397.3,144.55 397,144.43 396.7,144.29 396.4,144.3 396.1,144.52 395.8,144.5 395.5,144.24 395.2,144.28 394.9,144.28 394.6,143.99 394.3,143.96 394,143.72 393.7,143.29 393.4,142.91 393.1,142.25 392.8,141.06 392.5,138.89 392.2,134.35 391.9,124.95 391.6,111.7 391.3,115.48 391,128.86 390.7,136.27 390.4,139.58 390.1,141.48 389.8,142.53 389.5,142.82 389.2,143.33 388.9,143.74 388.6,144.05 388.3,144.06 388,144.25 387.7,144.37 387.4,144.4 387.1,144.4 386.8,144.17 386.5,144.59 386.2,144.52 385.9,144.29 385.6,144.63 385.3,144.47 385,144.67 384.7,144.73 384.4,144.63 384.1,144.47 383.8,144.76 383.5,144.62 383.2,144.77 382.9,144.52 382.6,144.76 382.3,144.72 382,144.7 381.7,144.79 381.4,144.59 381.1,144.76 380.8,144.77 380.5,144.75 380.2,144.81 379.9,144.79 379.6,144.72 379.3,144.84 379,144.83 378.7,144.69 378.4,144.82 378.1,144.75 377.8,144.85 377.5,144.83 377.2,144.73 376.9,144.79 376.6,144.84 376.3,144.7 376,144.87 375.7,144.82 375.4,144.71 375.1,144.75 374.8,144.85 374.5,144.86 374.2,144.82 373.9,144.84 373.6,144.79 373.3,144.83 373,144.76 372.7,144.7 372.4,144.87 372.1,144.8 371.8,144.87 371.5,144.85 371.2,144.76 370.9,144.76 370.6,144.82 370.3,144.8 370,144.78 369.7,144.86 369.4,144.51 369.1,144.62 368.8,144.82 368.5,144.82 368.2,144.56 367.9,144.87 367.6,144.62 367.3,144.65 367,144.81 366.7,144.8 366.4,144.72 366.1,144.75 365.8,144.84 365.5,144.83 365.2,144.75 364.9,144.76 364.6,144.8 364.3,144.87 364,144.58 363.7,144.76 363.4,144.86 363.1,144.82 362.8,144.58 362.5,144.78 362.2,144.81 361.9,144.88 361.6,144.88 361.3,144.86 361,144.71 360.7,144.68 360.4,144.74 360.1,144.85 359.8,144.75 359.5,144.77 359.2,144.67 358.9,144.72 358.6,144.66 358.3,144.74 358,144.61 357.7,144.63 357.4,144.69 357.1,144.88 356.8,144.8 356.5,144.75 356.2,144.88 355.9,144.82 355.6,144.8 355.3,144.85 355,144.79 354.7,144.68 354.4,144.68 354.1,144.69 353.8,144.73 353.5,144.78 353.2,144.86 352.9,144.83 352.6,144.71 352.3,144.78 352,144.76 351.7,144.85 351.4,144.79 351.1,144.77 350.8,144.81 350.5,144.78 350.2,144.78 349.9,144.86 349.6,144.77 349.3,144.65 349,144.7 348.7,144.72 348.4,144.76 348.1,144.86 347.8,144.79 347.5,144.6 347.2,144.74 346.9,144.72 346.6,144.83 346.3,144.71 346,144.73 345.7,144.82 345.4,144.84 345.1,144.81 344.8,144.85 344.5,144.77 344.2,144.74 343.9,144.85 343.6,144.73 343.3,144.84 343,144.78 342.7,144.76 342.4,144.58 342.1,144.68 341.8,144.69 341.5,144.85 341.2,144.8 340.9,144.7 340.6,144.57 340.3,144.56 340,144.85 339.7,144.84 339.4,144.86 339.1,144.72 338.8,144.76 338.5,144.83 338.2,144.8 337.9,144.82 337.6,144.73 337.3,144.65 337,144.7 336.7,144.82 336.4,144.81 336.1,144.58 335.8,144.51 335.5,144.83 335.2,144.66 334.9,144.53 334.6,144.77 334.3,144.75 334,144.63 333.7,144.63 333.4,144.74 333.1,144.6 332.8,144.67 332.5,144.77 332.2,144.66 331.9,144.62 331.6,144.68 331.3,144.59 331,144.63 330.7,144.27 330.4,144.43 330.1,144.58 329.8,144.24 329.5,144.49 329.2,144.25 328.9,144.33 328.6,144.29 328.3,143.96 328,144.01 327.7,143.83 327.4,143.61 327.1,143.23 326.8,142.74 326.5,141.89 326.2,140.33 325.9,137.66 325.6,131.95 325.3,120.31 325,110.2 324.7,120.31 324.4,131.85 324.1,137.62 323.8,140.4 323.5,141.86 323.2,142.79 322.9,143.23 322.6,143.64 322.3,143.86 322,144.02 321.7,144.17 321.4,144.24 321.1,144.32 320.8,144.49 320.5,144.51 320.2,144.56 319.9,144.59 319.6,144.59 319.3,144.57 319,144.28 318.7,144.67 318.4,144.55 318.1,144.48 317.8,144.49 317.5,144.73 317.2,144.63 316.9,144.58 316.6,144.48 316.3,144.78 316,144.81 315.7,144.72 315.4,144.65 315.1,144.71 314.8,144.71 314.5,144.83 314.2,144.79 313.9,144.6 313.6,144.8 313.3,144.79 313,144.81 312.7,144.83 312.4,144.79 312.1,144.64 311.8,144.74 311.5,144.62 311.2,144.7 310.9,144.84 310.6,144.77 310.3,144.74 310,144.75 309.7,144.74 309.4,144.74 309.1,144.87 308.8,144.75 308.5,144.83 308.2,144.84 307.9,144.82 307.6,144.79 307.3,144.82 307,144.73 306.7,144.76 306.4,144.69 306.1,144.71 305.8,144.82 305.5,144.75 305.2,144.76 304.9,144.74 304.6,144.79 304.3,144.75 304,144.66 303.7,144.74 303.4,144.74 303.1,144.78 302.8,144.8 302.5,144.79 302.2,144.83 301.9,144.85 301.6,144.74 301.3,144.76 301,144.82 300.7,144.74 300.4,144.86 300.1,144.75 299.8,144.85 299.5,144.74 299.2,144.67 298.9,144.75 298.6,144.77 298.3,144.88 298,144.86 297.7,144.86 297.4,144.75 297.1,144.8 296.8,144.69 296.5,144.69 296.2,144.71 295.9,144.81 295.6,144.77 295.3,144.77 295,144.52 294.7,144.81 294.4,144.79 294.1,144.84 293.8,144.81 293.5,144.81 293.2,144.84 292.9,144.76 292.6,144.7 292.3,144.84 292,144.7 291.7,144.87 291.4,144.67 291.1,144.88 290.8,144.87 290.5,144.87 290.2,144.7 289.9,144.85 289.6,144.88 289.3,144.84 289,144.86 288.7,144.89 288.4,144.76 288.1,144.36 287.8,144.84 287.5,144.84 287.2,144.74 286.9,144.85 286.6,144.85 286.3,144.72 286,144.84 285.7,144.8 285.4,144.81 285.1,144.65 284.8,144.78 284.5,144.87 284.2,144.71 283.9,144.86 283.6,144.68 283.3,144.8 283,144.86 282.7,144.66 282.4,144.73 282.1,144.79 281.8,144.64 281.5,144.84 281.2,144.86 280.9,144.78 280.6,144.8 280.3,144.81 280,144.68 279.7,144.7 279.4,144.61 279.1,144.78 278.8,144.62 278.5,144.7 278.2,144.67 277.9,144.41 277.6,144.52 277.3,144.45 277,144.41 276.7,143.97 276.4,143.41 276.1,141.89 275.8,137.27 275.5,135.45 275.2,140.93 274.9,143.15 274.6,143.88 274.3,144.13 274,144.33 273.7,144.59 273.4,144.46 273.1,144.56 272.8,144.76 272.5,144.57 272.2,144.62 271.9,144.57 271.6,144.77 271.3,144.68 271,144.68 270.7,144.7 270.4,144.81 270.1,144.63 269.8,144.84 269.5,144.84 269.2,144.72 268.9,144.7 268.6,144.84 268.3,144.75 268,144.76 267.7,144.73" fill="#000"/><polyline points="267.7,141.59 268,141.59 268.3,141.58 268.6,141.58 268.9,141.58 269.2,141.58 269.5,141.58 269.8,141.58 270.1,141.57 270.4,141.57 270.7,141.57 271,141.57 271.3,141.56 271.6,141.56 271.9,141.55 272.2,141.54 272.5,141.53 272.8,141.51 273.1,141.49 273.4,141.46 273.7,141.41 274,141.34 274.3,141.22 274.6,140.98 274.9,140.43 275.2,138.9 275.5,134.85 275.8,136.4 276.1,139.61 276.4,140.67 276.7,141.08 277,141.27 277.3,141.37 277.6,141.43 277.9,141.47 278.2,141.5 278.5,141.52 278.8,141.53 279.1,141.54 279.4,141.55 279.7,141.56 280,141.56 280.3,141.57 280.6,141.57 280.9,141.57 281.2,141.57 281.5,141.58 281.8,141.58 282.1,141.58 282.4,141.58 282.7,141.58 283,141.58 283.3,141.58 283.6,141.58 283.9,141.59 284.2,141.59 284.5,141.59 284.8,141.59 285.1,141.59 285.4,141.59 285.7,141.59 286,141.59 286.3,141.59 286.6,141.59 286.9,141.59 287.2,141.59 287.5,141.59 287.8,141.59 288.1,141.59 288.4,141.59 288.7,141.59 289,141.59 289.3,141.59 289.6,141.59 289.9,141.59 290.2,141.59 290.5,141.59 290.8,141.59 291.1,141.59 291.4,141.59 291.7,141.59 292,141.59 292.3,141.59 292.6,141.59 292.9,141.59 293.2,141.59 293.5,141.59 293.8,141.59 294.1,141.59 294.4,141.59 294.7,141.59 295,141.59 295.3,141.59 295.6,141.59 295.9,141.59 296.2,141.59 296.5,141.59 296.8,141.59 297.1,141.59 297.4,141.59 297.7,141.59 298,141.59 298.3,141.59 298.6,141.59 298.9,141.59 299.2,141.59 299.5,141.59 299.8,141.59 300.1,141.59 300.4,141.59 300.7,141.59 301,141.59 301.3,141.59 301.6,141.59 301.9,141.59 302.2,141.59 302.5,141.59 302.8,141.58 303.1,141.58 303.4,141.58 303.7,141.58 304,141.58 304.3,141.58 304.6,141.58 304.9,141.58 305.2,141.58 305.5,141.58 305.8,141.58 306.1,141.58 306.4,141.58 306.7,141.58 307,141.58 307.3,141.58 307.6,141.58 307.9,141.58 308.2,141.58 308.5,141.57 308.8,141.57 309.1,141.57 309.4,141.57 309.7,141.57 310,141.57 310.3,141.57 310.6,141.57 310.9,141.57 311.2,141.56 311.5,141.56 311.8,141.56 312.1,141.56 312.4,141.56 312.7,141.56 313,141.55 313.3,141.55 313.6,141.55 313.9,141.55 314.2,141.54 314.5,141.54 314.8,141.54 315.1,141.53 315.4,141.53 315.7,141.52 316,141.52 316.3,141.51 316.6,141.51 316.9,141.5 317.2,141.49 317.5,141.48 317.8,141.47 318.1,141.46 318.4,141.45 318.7,141.44 319,141.42 319.3,141.4 319.6,141.38 319.9,141.35 320.2,141.32 320.5,141.28 320.8,141.23 321.1,141.18 321.4,141.11 321.7,141.01 322,140.89 322.3,140.73 322.6,140.51 322.9,140.19 323.2,139.72 323.5,138.96 323.8,137.65 324.1,135.2 324.4,130.08 324.7,119.44 325,109.6 325.3,119.44 325.6,130.08 325.9,135.2 326.2,137.65 326.5,138.96 326.8,139.72 327.1,140.19 327.4,140.51 327.7,140.73 328,140.89 328.3,141.01 328.6,141.11 328.9,141.18 329.2,141.23 329.5,141.28 329.8,141.32 330.1,141.35 330.4,141.38 330.7,141.4 331,141.42 331.3,141.44 331.6,141.45 331.9,141.46 332.2,141.47 332.5,141.48 332.8,141.49 333.1,141.5 333.4,141.51 333.7,141.51 334,141.52 334.3,141.52 334.6,141.53 334.9,141.53 335.2,141.54 335.5,141.54 335.8,141.54 336.1,141.54 336.4,141.55 336.7,141.55 337,141.55 337.3,141.55 337.6,141.56 337.9,141.56 338.2,141.56 338.5,141.56 338.8,141.56 339.1,141.56 339.4,141.57 339.7,141.57 340,141.57 340.3,141.57 340.6,141.57 340.9,141.57 341.2,141.57 341.5,141.57 341.8,141.57 342.1,141.57 342.4,141.58 342.7,141.58 343,141.58 343.3,141.58 343.6,141.58 343.9,141.58 344.2,141.58 344.5,141.58 344.8,141.58 345.1,141.58 345.4,141.58 345.7,141.58 346,141.58 346.3,141.58 346.6,141.58 346.9,141.58 347.2,141.58 347.5,141.58 347.8,141.58 348.1,141.58 348.4,141.58 348.7,141.58 349,141.58 349.3,141.58 349.6,141.58 349.9,141.59 350.2,141.59 350.5,141.59 350.8,141.59 351.1,141.59 351.4,141.59 351.7,141.59 352,141.59 352.3,141.59 352.6,141.59 352.9,141.59 353.2,141.59 353.5,141.59 353.8,141.59 354.1,141.59 354.4,141.59 354.7,141.59 355,141.59 355.3,141.59 355.6,141.59 355.9,141.59 356.2,141.59 356.5,141.59 356.8,141.59 357.1,141.59 357.4,141.59 357.7,141.59 358,141.59 358.3,141.59 358.6,141.59 358.9,141.59 359.2,141.59 359.5,141.59 359.8,141.59 360.1,141.59 360.4,141.59 360.7,141.59 361,141.59 361.3,141.59 361.6,141.59 361.9,141.59 362.2,141.59 362.5,141.59 362.8,141.59 363.1,141.59 363.4,141.59 363.7,141.59 364,141.59 364.3,141.59 364.6,141.59 364.9,141.59 365.2,141.59 365.5,141.59 365.8,141.59 366.1,141.59 366.4,141.59 366.7,141.58 367,141.58 367.3,141.58 367.6,141.58 367.9,141.58 368.2,141.58 368.5,141.58 368.8,141.58 369.1,141.58 369.4,141.58 369.7,141.58 370,141.58 370.3,141.58 370.6,141.58 370.9,141.58 371.2,141.58 371.5,141.58 371.8,141.58 372.1,141.58 372.4,141.58 372.7,141.58 373,141.58 373.3,141.58 373.6,141.58 373.9,141.58 374.2,141.57 374.5,141.57 374.8,141.57 375.1,141.57 375.4,141.57 375.7,141.57 376,141.57 376.3,141.57 376.6,141.57 376.9,141.57 377.2,141.56 377.5,141.56 377.8,141.56 378.1,141.56 378.4,141.56 378.7,141.56 379,141.56 379.3,141.55 379.6,141.55 379.9,141.55 380.2,141.55 380.5,141.54 380.8,141.54 381.1,141.54 381.4,141.53 381.7,141.53 382,141.53 382.3,141.52 382.6,141.52 382.9,141.51 383.2,141.5 383.5,141.5 383.8,141.49 384.1,141.48 384.4,141.47 384.7,141.46 385,141.44 385.3,141.43 385.6,141.41 385.9,141.39 386.2,141.37 386.5,141.34 386.8,141.31 387.1,141.27 387.4,141.22 387.7,141.15 388,141.08 388.3,140.98 388.6,140.84 388.9,140.67 389.2,140.42 389.5,140.06 389.8,139.5 390.1,138.6 390.4,137.01 390.7,133.91 391,127.28 391.3,114.88 391.6,111.1 391.9,123.72 392.2,132.24 392.5,136.21 392.8,138.17 393.1,139.25 393.4,139.9 393.7,140.31 394,140.59 394.3,140.79 394.6,140.94 394.9,141.05 395.2,141.13 395.5,141.2 395.8,141.25 396.1,141.29 396.4,141.33 396.7,141.36 397,141.38 397.3,141.41 397.6,141.42 397.9,141.44 398.2,141.45 398.5,141.47 398.8,141.48 399.1,141.49 399.4,141.49 399.7,141.5 400,141.51 400.3,141.51 400.6,141.52 400.9,141.52 401.2,141.53 401.5,141.53 401.8,141.54 402.1,141.54 402.4,141.54 402.7,141.55 403,141.55 403.3,141.55 403.6,141.55 403.9,141.55 404.2,141.56 404.5,141.56 404.8,141.56 405.1,141.56 405.4,141.56 405.7,141.56 406,141.57 406.3,141.57 406.6,141.57 406.9,141.57 407.2,141.57 407.5,141.57 407.8,141.57 408.1,141.57 408.4,141.57 408.7,141.57 409,141.58 409.3,141.58 409.6,141.58 409.9,141.58 410.2,141.58 410.5,141.58 410.8,141.58 411.1,141.58 411.4,141.58 411.7,141.58 412,141.58 412.3,141.58 412.6,141.58 412.9,141.58 413.2,141.58 413.5,141.58 413.8,141.58 414.1,141.58 414.4,141.58 414.7,141.58 415,141.58 415.3,141.58 415.6,141.58 415.9,141.58 416.2,141.58 416.5,141.59 416.8,141.59 417.1,141.59 417.4,141.59 417.7,141.59 418,141.59 418.3,141.59 418.6,141.59 418.9,141.59 419.2,141.59 419.5,141.59 419.8,141.59 420.1,141.59 420.4,141.59 420.7,141.59 421,141.59 421.3,141.59 421.6,141.59 421.9,141.59 422.2,141.59 422.5,141.59 422.8,141.59 423.1,141.59 423.4,141.59 423.7,141.59 424,141.59 424.3,141.59 424.6,141.59 424.9,141.59 425.2,141.59 425.5,141.59 425.8,141.59 426.1,141.59 426.4,141.59 426.7,141.59 427,141.59 427.3,141.59 427.6,141.59 427.9,141.59 428.2,141.59 428.5,141.59 428.8,141.59 429.1,141.59 429.4,141.59 429.7,141.59 430,141.59 430.3,141.59 430.6,141.59 430.9,141.59 431.2,141.59 431.5,141.59 431.8,141.59 432.1,141.59 432.4,141.59 432.7,141.59 433,141.59 433.3,141.59 433.6,141.59 433.9,141.59 434.2,141.58 434.5,141.58 434.8,141.58 435.1,141.58 435.4,141.58 435.7,141.58 436,141.58 436.3,141.58 436.6,141.58 436.9,141.58 437.2,141.58 437.5,141.58 437.8,141.58 438.1,141.58 438.4,141.58 438.7,141.58 439,141.58 439.3,141.58 439.6,141.58 439.9,141.58 440.2,141.58 440.5,141.58 440.8,141.58 441.1,141.58 441.4,141.57 441.7,141.57 442,141.57 442.3,141.57 442.6,141.57 442.9,141.57 443.2,141.57 443.5,141.57 443.8,141.57 444.1,141.57 444.4,141.56 444.7,141.56 445,141.56 445.3,141.56 445.6,141.56 445.9,141.56 446.2,141.55 446.5,141.55 446.8,141.55 447.1,141.55 447.4,141.54 447.7,141.54 448,141.54 448.3,141.54 448.6,141.53 448.9,141.53 449.2,141.52 449.5,141.52 449.8,141.51 450.1,141.51 450.4,141.5 450.7,141.49 451,141.48 451.3,141.47 451.6,141.46 451.9,141.45 452.2,141.44 452.5,141.42 452.8,141.4 453.1,141.38 453.4,141.35 453.7,141.32 454,141.28 454.3,141.23 454.6,141.18 454.9,141.11 455.2,141.01 455.5,140.89 455.8,140.73 456.1,140.51 456.4,140.19 456.7,139.72 457,138.96 457.3,137.65 457.6,135.2 457.9,130.08 458.2,119.44 458.5,109.6 458.8,119.44 459.1,130.08 459.4,135.2 459.7,137.65 460,138.96 460.3,139.72 460.6,140.19 460.9,140.51 461.2,140.73 461.5,140.89 461.8,141.01 462.1,141.11 462.4,141.18 462.7,141.24 463,141.28 463.3,141.32 463.6,141.35 463.9,141.38 464.2,141.4 464.5,141.42 464.8,141.44 465.1,141.45 465.4,141.46 465.7,141.47 466,141.48 466.3,141.49 466.6,141.5 466.9,141.51 467.2,141.51 467.5,141.52 467.8,141.52 468.1,141.53 468.4,141.53 468.7,141.54 469,141.54 469.3,141.54 469.6,141.55 469.9,141.55 470.2,141.55" fill="none" stroke="#000" stroke-width="1.2" stroke-linejoin="round"/><rect x="264.6" y="6.6" width="210.4" height="144.4" fill="none" stroke="#1a1a1a" stroke-width="1.1"/><text x="273.7" y="160.9" font-family='"Liberation Sans", sans-serif' font-size="9" fill="#000" text-anchor="middle">0</text><text x="307.26" y="160.9" font-family='"Liberation Sans", sans-serif' font-size="9" fill="#000" text-anchor="middle">60</text><text x="340.83" y="160.9" font-family='"Liberation Sans", sans-serif' font-size="9" fill="#000" text-anchor="middle">120</text><text x="374.39" y="160.9" font-family='"Liberation Sans", sans-serif' font-size="9" fill="#000" text-anchor="middle">180</text><text x="407.96" y="160.9" font-family='"Liberation Sans", sans-serif' font-size="9" fill="#000" text-anchor="middle">240</text><text x="441.52" y="160.9" font-family='"Liberation Sans", sans-serif' font-size="9" fill="#000" text-anchor="middle">300</text><text x="475.08" y="160.9" font-family='"Liberation Sans", sans-serif' font-size="9" fill="#000" text-anchor="middle">360</text><g transform="translate(361,174.3)" font-family='"Liberation Serif", serif' fill="#000"><text x="0" y="0" font-size="11.5" font-style="italic" xml:space="preserve">ϕ</text><text x="6.45" y="0" font-size="11.5" xml:space="preserve">(</text><text x="9.98" y="0" font-size="11.5" fill="#8a8a8a" xml:space="preserve">°</text><text x="14.18" y="0" font-size="11.5" xml:space="preserve">)</text></g><text transform="translate(257.2,78.8) rotate(-90)" font-family='"Liberation Sans", sans-serif' font-size="9.2" fill="#000" text-anchor="middle">Intensity (arb. units)</text><g transform="translate(278.4,61.4) rotate(-90)" font-family='"Liberation Serif", serif' fill="#5a78ff"><text x="-14.13" y="0" font-size="10.6" xml:space="preserve">[2</text><text x="-5.3" y="0" font-size="10.6" xml:space="preserve">11</text><line x1="-4.56" y1="-8.74" x2="-0.74" y2="-8.74" stroke="#5a78ff" stroke-width="0.85"/><line x1="0.74" y1="-8.74" x2="4.56" y2="-8.74" stroke="#5a78ff" stroke-width="0.85"/><text x="5.3" y="0" font-size="10.6" xml:space="preserve">0]</text></g><g transform="translate(295.3,61.4) rotate(-90)" font-family='"Liberation Serif", serif' fill="#5a78ff"><text x="-14.13" y="0" font-size="10.6" xml:space="preserve">[10</text><text x="0" y="0" font-size="10.6" xml:space="preserve">1</text><line x1="0.74" y1="-8.74" x2="4.56" y2="-8.74" stroke="#5a78ff" stroke-width="0.85"/><text x="5.3" y="0" font-size="10.6" xml:space="preserve">0]</text></g><g transform="translate(312.2,61.4) rotate(-90)" font-family='"Liberation Serif", serif' fill="#5a78ff"><text x="-14.13" y="0" font-size="10.6" xml:space="preserve">[11</text><text x="0" y="0" font-size="10.6" xml:space="preserve">2</text><line x1="0.74" y1="-8.74" x2="4.56" y2="-8.74" stroke="#5a78ff" stroke-width="0.85"/><text x="5.3" y="0" font-size="10.6" xml:space="preserve">0]</text></g><g transform="translate(329,61.4) rotate(-90)" font-family='"Liberation Serif", serif' fill="#5a78ff"><text x="-14.13" y="0" font-size="10.6" xml:space="preserve">[01</text><text x="0" y="0" font-size="10.6" xml:space="preserve">1</text><line x1="0.74" y1="-8.74" x2="4.56" y2="-8.74" stroke="#5a78ff" stroke-width="0.85"/><text x="5.3" y="0" font-size="10.6" xml:space="preserve">0]</text></g><g transform="translate(345.8,61.4) rotate(-90)" font-family='"Liberation Serif", serif' fill="#5a78ff"><text x="-14.13" y="0" font-size="10.6" xml:space="preserve">[</text><text x="-10.6" y="0" font-size="10.6" xml:space="preserve">1</text><line x1="-9.86" y1="-8.74" x2="-6.04" y2="-8.74" stroke="#5a78ff" stroke-width="0.85"/><text x="-5.3" y="0" font-size="10.6" xml:space="preserve">2</text><text x="0" y="0" font-size="10.6" xml:space="preserve">1</text><line x1="0.74" y1="-8.74" x2="4.56" y2="-8.74" stroke="#5a78ff" stroke-width="0.85"/><text x="5.3" y="0" font-size="10.6" xml:space="preserve">0]</text></g><g transform="translate(277.8,121.3) rotate(-90)" font-family='"Liberation Serif", serif' fill="#000"><text x="-10.83" y="0" font-size="10" xml:space="preserve">[1</text><text x="-2.5" y="0" font-size="10" xml:space="preserve">1</text><line x1="-1.8" y1="-8.35" x2="1.8" y2="-8.35" stroke="#000" stroke-width="0.85"/><text x="2.5" y="0" font-size="10" xml:space="preserve">0]</text></g><g transform="translate(322.3,121.3) rotate(-90)" font-family='"Liberation Serif", serif' fill="#000"><text x="-10.83" y="0" font-size="10" xml:space="preserve">[1</text><text x="-2.5" y="0" font-size="10" xml:space="preserve">1</text><line x1="-1.8" y1="-8.35" x2="1.8" y2="-8.35" stroke="#000" stroke-width="0.85"/><text x="2.5" y="0" font-size="10" xml:space="preserve">2]</text></g><g transform="translate(472.6,18.2)" font-family='"Liberation Sans", sans-serif' fill="#2b45ff"><text x="-56.17" y="0" font-size="9.1" xml:space="preserve">Mn</text><text x="-43.52" y="2" font-size="6.37" xml:space="preserve">3</text><text x="-39.98" y="0" font-size="9.1" xml:space="preserve">Sn {20</text><text x="-13.16" y="0" font-size="9.1" xml:space="preserve">2</text><line x1="-12.45" y1="-7.31" x2="-8.81" y2="-7.31" stroke="#2b45ff" stroke-width="0.6"/><text x="-8.1" y="0" font-size="9.1" xml:space="preserve">0}</text></g><g transform="translate(472.6,71.4)" font-family='"Liberation Sans", sans-serif' fill="#e4b02f"><text x="-40.04" y="0" font-size="9" xml:space="preserve">Ru {10</text><text x="-13.02" y="0" font-size="9" xml:space="preserve">1</text><line x1="-12.32" y1="-7.24" x2="-8.71" y2="-7.24" stroke="#e4b02f" stroke-width="0.6"/><text x="-8.01" y="0" font-size="9" xml:space="preserve">0}</text></g><text x="472.6" y="108" font-family='"Liberation Sans", sans-serif' font-size="9" fill="#000" text-anchor="end">MgO {202}</text><line x1="275.48" y1="331.5" x2="275.48" y2="329.5" stroke="#1a1a1a" stroke-width="0.9"/><line x1="286.56" y1="331.5" x2="286.56" y2="329.5" stroke="#1a1a1a" stroke-width="0.9"/><line x1="297.64" y1="331.5" x2="297.64" y2="329.5" stroke="#1a1a1a" stroke-width="0.9"/><line x1="308.72" y1="331.5" x2="308.72" y2="328.5" stroke="#1a1a1a" stroke-width="0.9"/><line x1="319.8" y1="331.5" x2="319.8" y2="329.5" stroke="#1a1a1a" stroke-width="0.9"/><line x1="330.88" y1="331.5" x2="330.88" y2="329.5" stroke="#1a1a1a" stroke-width="0.9"/><line x1="341.96" y1="331.5" x2="341.96" y2="329.5" stroke="#1a1a1a" stroke-width="0.9"/><line x1="353.04" y1="331.5" x2="353.04" y2="329.5" stroke="#1a1a1a" stroke-width="0.9"/><line x1="364.12" y1="331.5" x2="364.12" y2="328.5" stroke="#1a1a1a" stroke-width="0.9"/><line x1="375.2" y1="331.5" x2="375.2" y2="329.5" stroke="#1a1a1a" stroke-width="0.9"/><line x1="386.28" y1="331.5" x2="386.28" y2="329.5" stroke="#1a1a1a" stroke-width="0.9"/><line x1="397.36" y1="331.5" x2="397.36" y2="329.5" stroke="#1a1a1a" stroke-width="0.9"/><line x1="408.44" y1="331.5" x2="408.44" y2="329.5" stroke="#1a1a1a" stroke-width="0.9"/><line x1="419.52" y1="331.5" x2="419.52" y2="328.5" stroke="#1a1a1a" stroke-width="0.9"/><line x1="430.6" y1="331.5" x2="430.6" y2="329.5" stroke="#1a1a1a" stroke-width="0.9"/><line x1="441.68" y1="331.5" x2="441.68" y2="329.5" stroke="#1a1a1a" stroke-width="0.9"/><line x1="452.76" y1="331.5" x2="452.76" y2="329.5" stroke="#1a1a1a" stroke-width="0.9"/><line x1="463.84" y1="331.5" x2="463.84" y2="329.5" stroke="#1a1a1a" stroke-width="0.9"/><line x1="474.92" y1="331.5" x2="474.92" y2="328.5" stroke="#1a1a1a" stroke-width="0.9"/><polyline points="264.6,210.6 265,211.01 265.4,210.88 265.8,210.1 266.2,210.1 266.6,210.13 267,209.9 267.4,210.09 267.8,210.03 268.2,209.79 268.6,209.81 269,209.65 269.4,209.24 269.8,209.03 270.2,208.83 270.6,209.19 271,209.11 271.4,209.05 271.8,208.55 272.2,208.44 272.6,208.54 273,208.74 273.4,208.4 273.8,208.28 274.2,207.89 274.6,208.2 275,208.17 275.4,207.68 275.8,208.44 276.2,207.62 276.6,208.13 277,207.77 277.4,207.84 277.8,207.54 278.2,207.58 278.6,207.92 279,207.64 279.4,207.57 279.8,207.92 280.2,207.85 280.6,207.67 281,207.68 281.4,208.12 281.8,207.55 282.2,207.72 282.6,207.74 283,207.22 283.4,207.09 283.8,207.74 284.2,208 284.6,207.85 285,207.69 285.4,207.72 285.8,208.22 286.2,207.96 286.6,207.65 287,208.43 287.4,208.44 287.8,208.65 288.2,209.04 288.6,209.34 289,209.35 289.4,209.39 289.8,209.09 290.2,210.14 290.6,210.4 291,211.27 291.4,211.73 291.8,211.99 292.2,212.78 292.6,212.94 293,213.6 293.4,214.07 293.8,214.96 294.2,215.87 294.6,216.9 295,217.2 295.4,218.53 295.8,219.88 296.2,219.71 296.6,220.96 297,222.04 297.4,223.37 297.8,224.7 298.2,225.5 298.6,226.07 299,226.71 299.4,227.79 299.8,226.38 300.2,228.21 300.6,229.78 301,232.45 301.4,233.7 301.8,235.92 302.2,237.25 302.6,237.57 303,237.52 303.4,236.09 303.8,234.19 304.2,232.96 304.6,231.8 305,232.69 305.4,232.89 305.8,233.32 306.2,234.18 306.6,236.86 307,238.33 307.4,240.01 307.8,240.84 308.2,240.7 308.6,239.37 309,238.82 309.4,236.8 309.8,235 310.2,235.19 310.6,234.07 311,235.21 311.4,235.85 311.8,236.16 312.2,237.05 312.6,237.5 313,238.22 313.4,238.72 313.8,238.47 314.2,237.93 314.6,237.65 315,236.29 315.4,237.03 315.8,236.21 316.2,235.87 316.6,236.4 317,236.76 317.4,237.52 317.8,238.14 318.2,237.82 318.6,239.2 319,239.46 319.4,238.56 319.8,239.07 320.2,238.68 320.6,238.26 321,238.16 321.4,237.11 321.8,237.74 322.2,237.39 322.6,238.7 323,238.09 323.4,238.41 323.8,239.46 324.2,239.55 324.6,239.49 325,239.49 325.4,239.5 325.8,239.62 326.2,238.67 326.6,238.54 327,238.44 327.4,238.61 327.8,238.77 328.2,238.62 328.6,239.4 329,239.26 329.4,239.84 329.8,240.09 330.2,240.24 330.6,240.81 331,240.83 331.4,240.59 331.8,240.65 332.2,240.04 332.6,240.55 333,240.19 333.4,240.44 333.8,240.69 334.2,240.5 334.6,241.02 335,241.45 335.4,241.86 335.8,241.9 336.2,241.8 336.6,241.77 337,242.15 337.4,241.81 337.8,241.85 338.2,242.25 338.6,242.46 339,242.36 339.4,242.33 339.8,243.25 340.2,243.73 340.6,243.69 341,244 341.4,243.69 341.8,244.91 342.2,244.54 342.6,245.31 343,245.14 343.4,245.52 343.8,245.78 344.2,245.61 344.6,247.34 345,246.44 345.4,247.36 345.8,247.5 346.2,248.08 346.6,248.93 347,248.28 347.4,249.07 347.8,249.49 348.2,249.57 348.6,249.83 349,249.67 349.4,249.59 349.8,249.91 350.2,250.43 350.6,251.06 351,251.18 351.4,251.98 351.8,251.88 352.2,252.26 352.6,252.61 353,252.37 353.4,253.38 353.8,253.19 354.2,253.72 354.6,254.86 355,254.12 355.4,254.89 355.8,255.33 356.2,255.7 356.6,256.09 357,256.37 357.4,257.58 357.8,256.83 358.2,257.56 358.6,258.73 359,258.86 359.4,258.86 359.8,259.21 360.2,259.81 360.6,261.1 361,260.89 361.4,260.86 361.8,261.69 362.2,261.87 362.6,262.96 363,263.05 363.4,263.8 363.8,263.94 364.2,264.97 364.6,264.95 365,265.38 365.4,265.47 365.8,266.13 366.2,266.85 366.6,267.06 367,268.44 367.4,268.17 367.8,268.43 368.2,269.44 368.6,269.47 369,270.23 369.4,270.56 369.8,270.85 370.2,271.96 370.6,272.05 371,272.81 371.4,272.84 371.8,272.97 372.2,273.48 372.6,274.16 373,274.72 373.4,275.26 373.8,275.89 374.2,275.86 374.6,276.82 375,276.93 375.4,277.67 375.8,279.26 376.2,279.52 376.6,279.7 377,281.02 377.4,281.6 377.8,282.13 378.2,282.99 378.6,283.14 379,283.82 379.4,284.26 379.8,285.37 380.2,285.51 380.6,286.42 381,287.4 381.4,287.79 381.8,288.71" fill="none" stroke="#000" stroke-width="3.2" stroke-linejoin="round"/><circle cx="374" cy="277.85" r="1.3"/><circle cx="374.32" cy="277.71" r="1.3"/><circle cx="374.64" cy="275.09" r="1.3"/><circle cx="375.05" cy="278.16" r="1.3"/><circle cx="374.96" cy="275.8" r="1.3"/><circle cx="375.28" cy="276.26" r="1.3"/><circle cx="375.6" cy="276.75" r="1.3"/><circle cx="375.92" cy="278.64" r="1.3"/><circle cx="376.24" cy="280.2" r="1.3"/><circle cx="376.56" cy="278.23" r="1.3"/><circle cx="376.88" cy="281.74" r="1.3"/><circle cx="377.21" cy="280.67" r="1.3"/><circle cx="377.2" cy="279.67" r="1.3"/><circle cx="377.52" cy="281.28" r="1.3"/><circle cx="377.84" cy="279.04" r="1.3"/><circle cx="378.16" cy="282.2" r="1.3"/><circle cx="378.48" cy="281.96" r="1.3"/><circle cx="378.8" cy="281.32" r="1.3"/><circle cx="379.11" cy="286.98" r="1.3"/><circle cx="379.12" cy="283.07" r="1.3"/><circle cx="379.44" cy="283.34" r="1.3"/><circle cx="379.76" cy="284.56" r="1.3"/><circle cx="379.31" cy="286.11" r="1.3"/><circle cx="380.08" cy="284" r="1.3"/><circle cx="380.4" cy="286" r="1.3"/><circle cx="380.72" cy="288.22" r="1.3"/><circle cx="381.04" cy="288.17" r="1.3"/><circle cx="381.36" cy="287.38" r="1.3"/><circle cx="381.68" cy="288.48" r="1.3"/><circle cx="381.63" cy="288.46" r="1.3"/><circle cx="382" cy="288.54" r="1.3"/><circle cx="382.32" cy="287.58" r="1.3"/><circle cx="382.64" cy="289.26" r="1.3"/><circle cx="382.96" cy="291.44" r="1.3"/><circle cx="383.28" cy="291.76" r="1.3"/><circle cx="383.6" cy="290.53" r="1.3"/><circle cx="383.92" cy="292.08" r="1.3"/><circle cx="384.24" cy="291.01" r="1.3"/><circle cx="384.56" cy="292.39" r="1.3"/><circle cx="384.88" cy="290.25" r="1.3"/><circle cx="385.2" cy="293.79" r="1.3"/><circle cx="385.52" cy="292.91" r="1.3"/><circle cx="385.84" cy="289.98" r="1.3"/><circle cx="386.16" cy="289.55" r="1.3"/><circle cx="386.83" cy="304.12" r="1.3"/><circle cx="386.48" cy="293.85" r="1.3"/><circle cx="386.5" cy="297.81" r="1.3"/><circle cx="386.8" cy="297.17" r="1.3"/><circle cx="387.12" cy="294.01" r="1.3"/><circle cx="387.44" cy="292.68" r="1.3"/><circle cx="387.76" cy="292.27" r="1.3"/><circle cx="388.08" cy="294.86" r="1.3"/><circle cx="388.4" cy="289.72" r="1.3"/><circle cx="388.61" cy="293.61" r="1.3"/><circle cx="388.72" cy="298.38" r="1.3"/><circle cx="389.04" cy="301.99" r="1.3"/><circle cx="388.59" cy="305.34" r="1.3"/><circle cx="389.36" cy="296.45" r="1.3"/><circle cx="389.68" cy="292.71" r="1.3"/><circle cx="390" cy="293.96" r="1.3"/><circle cx="390.32" cy="297.22" r="1.3"/><circle cx="390.64" cy="292.79" r="1.3"/><circle cx="390.96" cy="297.74" r="1.3"/><circle cx="391.28" cy="289.42" r="1.3"/><circle cx="391.6" cy="294.5" r="1.3"/><circle cx="391.92" cy="286.99" r="1.3"/><circle cx="392.24" cy="288.22" r="1.3"/><circle cx="392.56" cy="301.23" r="1.3"/><circle cx="392.88" cy="292.04" r="1.3"/><circle cx="393.2" cy="292.64" r="1.3"/><circle cx="393.52" cy="291.42" r="1.3"/><circle cx="393.84" cy="295.26" r="1.3"/><circle cx="394.02" cy="296.45" r="1.3"/><circle cx="394.16" cy="288.62" r="1.3"/><circle cx="394.19" cy="292.93" r="1.3"/><circle cx="394.48" cy="289.63" r="1.3"/><circle cx="394.8" cy="294.27" r="1.3"/><circle cx="395.12" cy="292.53" r="1.3"/><circle cx="395.44" cy="286.05" r="1.3"/><circle cx="395.69" cy="294.04" r="1.3"/><circle cx="395.76" cy="293.62" r="1.3"/><circle cx="396.08" cy="288.61" r="1.3"/><circle cx="396.4" cy="291.46" r="1.3"/><circle cx="396.72" cy="285.83" r="1.3"/><circle cx="397.04" cy="292.81" r="1.3"/><circle cx="397.36" cy="286.28" r="1.3"/><circle cx="397.68" cy="288.09" r="1.3"/><circle cx="398" cy="292.38" r="1.3"/><circle cx="397.69" cy="299.79" r="1.3"/><circle cx="398.32" cy="288.89" r="1.3"/><circle cx="398.64" cy="290.57" r="1.3"/><circle cx="398.96" cy="287.76" r="1.3"/><circle cx="399.28" cy="283.68" r="1.3"/><circle cx="399.6" cy="288.71" r="1.3"/><circle cx="399.92" cy="292.63" r="1.3"/><circle cx="400.24" cy="289.41" r="1.3"/><circle cx="400.56" cy="286.13" r="1.3"/><circle cx="400.88" cy="288.52" r="1.3"/><circle cx="401.2" cy="285.85" r="1.3"/><circle cx="401.15" cy="286.94" r="1.3"/><circle cx="401.52" cy="286.31" r="1.3"/><circle cx="401.84" cy="286.84" r="1.3"/><circle cx="402.16" cy="282.33" r="1.3"/><circle cx="402.48" cy="283.52" r="1.3"/><circle cx="402.8" cy="284.63" r="1.3"/><circle cx="403.12" cy="282.72" r="1.3"/><circle cx="403.44" cy="284.48" r="1.3"/><circle cx="403.76" cy="284.73" r="1.3"/><circle cx="403.88" cy="286.18" r="1.3"/><circle cx="404.08" cy="286.19" r="1.3"/><circle cx="404.4" cy="283.99" r="1.3"/><circle cx="404.72" cy="281.97" r="1.3"/><circle cx="405.04" cy="281.45" r="1.3"/><circle cx="405.36" cy="282.61" r="1.3"/><circle cx="405.68" cy="281.44" r="1.3"/><circle cx="405.73" cy="285.86" r="1.3"/><circle cx="406" cy="281.94" r="1.3"/><circle cx="405.85" cy="285.2" r="1.3"/><circle cx="406.32" cy="283.14" r="1.3"/><circle cx="406.64" cy="285.81" r="1.3"/><circle cx="406.96" cy="283.72" r="1.3"/><circle cx="407.28" cy="284.03" r="1.3"/><circle cx="407.6" cy="283.03" r="1.3"/><circle cx="407.92" cy="282.59" r="1.3"/><circle cx="408.24" cy="283.81" r="1.3"/><circle cx="408.56" cy="285.34" r="1.3"/><circle cx="408.88" cy="284.06" r="1.3"/><circle cx="409.2" cy="282.42" r="1.3"/><circle cx="409.52" cy="283.4" r="1.3"/><circle cx="409.84" cy="285.5" r="1.3"/><circle cx="410.16" cy="284.73" r="1.3"/><circle cx="410.48" cy="279.19" r="1.3"/><circle cx="410.8" cy="285.96" r="1.3"/><circle cx="411.12" cy="281.24" r="1.3"/><circle cx="411.44" cy="281.39" r="1.3"/><circle cx="410.82" cy="287.56" r="1.3"/><circle cx="411.76" cy="283.09" r="1.3"/><circle cx="412.08" cy="277.65" r="1.3"/><circle cx="412.4" cy="281.91" r="1.3"/><circle cx="412.72" cy="283.07" r="1.3"/><circle cx="413.04" cy="283.33" r="1.3"/><circle cx="412.77" cy="287.36" r="1.3"/><circle cx="413.36" cy="280.3" r="1.3"/><circle cx="413.68" cy="280.65" r="1.3"/><circle cx="414" cy="280.43" r="1.3"/><circle cx="414.32" cy="278.96" r="1.3"/><circle cx="414.64" cy="281.53" r="1.3"/><circle cx="414.96" cy="280.62" r="1.3"/><circle cx="415.28" cy="283.73" r="1.3"/><circle cx="415.6" cy="280.98" r="1.3"/><circle cx="415.92" cy="279.79" r="1.3"/><circle cx="416.24" cy="278.18" r="1.3"/><circle cx="415.49" cy="285.89" r="1.3"/><circle cx="416.56" cy="279.34" r="1.3"/><circle cx="416.88" cy="279.35" r="1.3"/><circle cx="417.2" cy="278.23" r="1.3"/><circle cx="417.52" cy="279.17" r="1.3"/><circle cx="417.84" cy="281" r="1.3"/><circle cx="418.16" cy="278.92" r="1.3"/><circle cx="418.03" cy="280.76" r="1.3"/><circle cx="418.48" cy="281.04" r="1.3"/><circle cx="418.8" cy="281.49" r="1.3"/><circle cx="419.12" cy="282.78" r="1.3"/><circle cx="418.6" cy="282.77" r="1.3"/><circle cx="419.44" cy="280.38" r="1.3"/><circle cx="419.76" cy="281.9" r="1.3"/><circle cx="420.08" cy="279.81" r="1.3"/><circle cx="420.4" cy="281.33" r="1.3"/><circle cx="420.72" cy="280.26" r="1.3"/><circle cx="421.04" cy="275.17" r="1.3"/><circle cx="420.42" cy="280.12" r="1.3"/><circle cx="421.36" cy="285.11" r="1.3"/><circle cx="421.68" cy="276.85" r="1.3"/><circle cx="422" cy="278.91" r="1.3"/><circle cx="422.32" cy="279.69" r="1.3"/><circle cx="422.64" cy="281.58" r="1.3"/><circle cx="422.96" cy="282.25" r="1.3"/><circle cx="423.24" cy="282.46" r="1.3"/><circle cx="423.28" cy="281.42" r="1.3"/><circle cx="423.6" cy="279.14" r="1.3"/><circle cx="423.92" cy="277.77" r="1.3"/><circle cx="424.24" cy="281.17" r="1.3"/><circle cx="424.56" cy="279.16" r="1.3"/><circle cx="424.88" cy="284.27" r="1.3"/><circle cx="425.2" cy="279.47" r="1.3"/><circle cx="425.52" cy="278.13" r="1.3"/><circle cx="425.84" cy="280.98" r="1.3"/><circle cx="426.16" cy="282.25" r="1.3"/><circle cx="426.48" cy="279.72" r="1.3"/><circle cx="426.8" cy="286.38" r="1.3"/><circle cx="427.12" cy="280.58" r="1.3"/><circle cx="427.44" cy="278.83" r="1.3"/><circle cx="427.76" cy="280.47" r="1.3"/><circle cx="428.08" cy="280.86" r="1.3"/><circle cx="428.4" cy="280.28" r="1.3"/><circle cx="428.72" cy="281.61" r="1.3"/><circle cx="429.04" cy="279.87" r="1.3"/><circle cx="429.36" cy="281.3" r="1.3"/><circle cx="429.68" cy="279.86" r="1.3"/><circle cx="430" cy="285.84" r="1.3"/><circle cx="430.32" cy="280.75" r="1.3"/><circle cx="430.64" cy="279.09" r="1.3"/><circle cx="430.96" cy="281.86" r="1.3"/><circle cx="431.28" cy="279.12" r="1.3"/><circle cx="431.6" cy="280.11" r="1.3"/><circle cx="431.92" cy="279.93" r="1.3"/><circle cx="432.24" cy="279.49" r="1.3"/><circle cx="432.56" cy="281.26" r="1.3"/><circle cx="432.88" cy="281.75" r="1.3"/><circle cx="433.2" cy="278.11" r="1.3"/><circle cx="433.86" cy="283.27" r="1.3"/><circle cx="433.52" cy="283.69" r="1.3"/><circle cx="433.84" cy="278.44" r="1.3"/><circle cx="434.16" cy="284.2" r="1.3"/><circle cx="434.48" cy="280" r="1.3"/><circle cx="434.38" cy="282.38" r="1.3"/><circle cx="434.8" cy="282.44" r="1.3"/><circle cx="435.12" cy="281.16" r="1.3"/><circle cx="435.44" cy="283.48" r="1.3"/><circle cx="435.42" cy="284.48" r="1.3"/><circle cx="435.76" cy="279.83" r="1.3"/><circle cx="436.08" cy="279.02" r="1.3"/><circle cx="436.4" cy="279.86" r="1.3"/><circle cx="436.72" cy="283.48" r="1.3"/><circle cx="437.04" cy="284.42" r="1.3"/><circle cx="437.36" cy="283.9" r="1.3"/><circle cx="437.68" cy="284.45" r="1.3"/><circle cx="438" cy="287.35" r="1.3"/><circle cx="438.32" cy="283.99" r="1.3"/><circle cx="438.64" cy="285.06" r="1.3"/><circle cx="438.01" cy="285.15" r="1.3"/><circle cx="438.96" cy="282.1" r="1.3"/><circle cx="439.28" cy="285.93" r="1.3"/><circle cx="439.6" cy="281.16" r="1.3"/><circle cx="439.92" cy="282.9" r="1.3"/><circle cx="440.24" cy="278.73" r="1.3"/><circle cx="440.56" cy="287.73" r="1.3"/><circle cx="440.88" cy="287.82" r="1.3"/><circle cx="441.2" cy="287.85" r="1.3"/><circle cx="441.03" cy="288.82" r="1.3"/><circle cx="441.52" cy="284.75" r="1.3"/><circle cx="441.84" cy="285.29" r="1.3"/><circle cx="442.16" cy="293.86" r="1.3"/><circle cx="442.48" cy="285.03" r="1.3"/><circle cx="442.8" cy="283.09" r="1.3"/><circle cx="442.63" cy="293.42" r="1.3"/><circle cx="443.12" cy="287.13" r="1.3"/><circle cx="443.44" cy="291.78" r="1.3"/><circle cx="443.76" cy="284.35" r="1.3"/><circle cx="444.08" cy="283.57" r="1.3"/><circle cx="444.4" cy="289.9" r="1.3"/><circle cx="444.72" cy="288.22" r="1.3"/><circle cx="445.04" cy="283.38" r="1.3"/><circle cx="445.36" cy="288.61" r="1.3"/><circle cx="445.68" cy="284.93" r="1.3"/><circle cx="446" cy="284.95" r="1.3"/><circle cx="446.32" cy="286.77" r="1.3"/><circle cx="446.64" cy="292.87" r="1.3"/><circle cx="446.96" cy="290.12" r="1.3"/><circle cx="447.28" cy="288.47" r="1.3"/><circle cx="447.6" cy="286.95" r="1.3"/><circle cx="447.92" cy="283.51" r="1.3"/><circle cx="448.24" cy="284.1" r="1.3"/><circle cx="448.56" cy="286.08" r="1.3"/><circle cx="448.88" cy="287.96" r="1.3"/><circle cx="449.2" cy="293.4" r="1.3"/><circle cx="448.83" cy="299.3" r="1.3"/><circle cx="449.52" cy="287.87" r="1.3"/><circle cx="449.84" cy="289.81" r="1.3"/><circle cx="450.16" cy="283.77" r="1.3"/><circle cx="450.48" cy="294.91" r="1.3"/><circle cx="450.8" cy="291.23" r="1.3"/><circle cx="450.5" cy="292.43" r="1.3"/><circle cx="451.12" cy="287.52" r="1.3"/><circle cx="451.44" cy="286.74" r="1.3"/><circle cx="451.76" cy="287.22" r="1.3"/><circle cx="452.13" cy="302.93" r="1.3"/><circle cx="452.08" cy="294.45" r="1.3"/><circle cx="452.4" cy="296.23" r="1.3"/><circle cx="452.72" cy="291.92" r="1.3"/><circle cx="453.19" cy="305.94" r="1.3"/><circle cx="453.04" cy="295.48" r="1.3"/><circle cx="453.36" cy="291.72" r="1.3"/><circle cx="453.68" cy="296.55" r="1.3"/><circle cx="454.32" cy="298.63" r="1.3"/><circle cx="454" cy="287.65" r="1.3"/><circle cx="454.32" cy="293.41" r="1.3"/><circle cx="454.64" cy="298.31" r="1.3"/><circle cx="454.96" cy="295.82" r="1.3"/><circle cx="455.28" cy="298.28" r="1.3"/><circle cx="455.6" cy="295.25" r="1.3"/><circle cx="455.92" cy="296.61" r="1.3"/><circle cx="456.24" cy="296.62" r="1.3"/><circle cx="456.56" cy="298.07" r="1.3"/><circle cx="456.88" cy="286" r="1.3"/><circle cx="457.2" cy="294.51" r="1.3"/><circle cx="457.52" cy="297.58" r="1.3"/><circle cx="457.84" cy="292.17" r="1.3"/><circle cx="458.16" cy="299.68" r="1.3"/><circle cx="458.48" cy="296.34" r="1.3"/><circle cx="458.8" cy="303.88" r="1.3"/><circle cx="459.12" cy="304.02" r="1.3"/><circle cx="459.44" cy="295.67" r="1.3"/><circle cx="459.76" cy="299.21" r="1.3"/><circle cx="460.08" cy="296.52" r="1.3"/><circle cx="460.4" cy="296.49" r="1.3"/><circle cx="460.72" cy="302.68" r="1.3"/><circle cx="461.04" cy="302.86" r="1.3"/><circle cx="461.36" cy="304.8" r="1.3"/><circle cx="461.68" cy="298.67" r="1.3"/><circle cx="462" cy="301.48" r="1.3"/><circle cx="462.32" cy="305.04" r="1.3"/><circle cx="462.64" cy="304.74" r="1.3"/><circle cx="462.96" cy="297.9" r="1.3"/><circle cx="463.28" cy="299.52" r="1.3"/><circle cx="463.6" cy="305.84" r="1.3"/><circle cx="463.92" cy="309.76" r="1.3"/><circle cx="464.24" cy="301.82" r="1.3"/><circle cx="464.56" cy="302.95" r="1.3"/><circle cx="464.88" cy="301.31" r="1.3"/><circle cx="465.2" cy="307.47" r="1.3"/><circle cx="465.52" cy="300.95" r="1.3"/><circle cx="465.84" cy="304.66" r="1.3"/><circle cx="466.16" cy="304.36" r="1.3"/><circle cx="466.37" cy="318.51" r="1.3"/><circle cx="466.48" cy="302.6" r="1.3"/><circle cx="466.8" cy="309.66" r="1.3"/><circle cx="467.12" cy="306.78" r="1.3"/><circle cx="467.44" cy="305.61" r="1.3"/><circle cx="467.76" cy="307.5" r="1.3"/><circle cx="468.08" cy="300.62" r="1.3"/><circle cx="468.4" cy="309.57" r="1.3"/><circle cx="469.02" cy="313.96" r="1.3"/><circle cx="468.72" cy="308.39" r="1.3"/><circle cx="469.04" cy="315.83" r="1.3"/><circle cx="469.36" cy="310.62" r="1.3"/><circle cx="469.68" cy="308.64" r="1.3"/><circle cx="470" cy="312.84" r="1.3"/><circle cx="470.32" cy="309.75" r="1.3"/><circle cx="471.35" cy="321.08" r="1.3"/><circle cx="470.64" cy="304.54" r="1.3"/><circle cx="470.96" cy="312.45" r="1.3"/><circle cx="471.28" cy="317.43" r="1.3"/><circle cx="471.6" cy="311.42" r="1.3"/><circle cx="471.51" cy="316.12" r="1.3"/><circle cx="471.92" cy="308.42" r="1.3"/><circle cx="472.24" cy="311.14" r="1.3"/><circle cx="472.56" cy="318.64" r="1.3"/><circle cx="472.88" cy="319.22" r="1.3"/><circle cx="473.2" cy="318.03" r="1.3"/><circle cx="473.52" cy="316.36" r="1.3"/><circle cx="473.84" cy="315.48" r="1.3"/><circle cx="474.35" cy="327.55" r="1.3"/><circle cx="474.16" cy="314.68" r="1.3"/><circle cx="474.48" cy="311" r="1.3"/><polyline points="264.6,212.62 264.8,212.54 265,212.46 265.2,212.38 265.4,212.3 265.6,212.23 265.8,212.15 266,212.07 266.2,212 266.4,211.93 266.6,211.85 266.8,211.78 267,211.71 267.2,211.64 267.4,211.57 267.6,211.51 267.8,211.44 268,211.38 268.2,211.31 268.4,211.25 268.6,211.19 268.8,211.13 269,211.07 269.2,211.01 269.4,210.96 269.6,210.9 269.8,210.85 270,210.8 270.2,210.75 270.4,210.7 270.6,210.65 270.8,210.6 271,210.55 271.2,210.5 271.4,210.45 271.6,210.4 271.8,210.35 272,210.3 272.2,210.25 272.4,210.21 272.6,210.16 272.8,210.11 273,210.07 273.2,210.03 273.4,209.99 273.6,209.95 273.8,209.91 274,209.87 274.2,209.83 274.4,209.8 274.6,209.77 274.8,209.74 275,209.71 275.2,209.68 275.4,209.66 275.6,209.64 275.8,209.62 276,209.6 276.2,209.58 276.4,209.57 276.6,209.55 276.8,209.54 277,209.52 277.2,209.51 277.4,209.49 277.6,209.48 277.8,209.46 278,209.45 278.2,209.44 278.4,209.43 278.6,209.41 278.8,209.4 279,209.39 279.2,209.38 279.4,209.37 279.6,209.36 279.8,209.35 280,209.34 280.2,209.33 280.4,209.33 280.6,209.32 280.8,209.32 281,209.31 281.2,209.31 281.4,209.3 281.6,209.3 281.8,209.3 282,209.3 282.2,209.3 282.4,209.31 282.6,209.31 282.8,209.32 283,209.33 283.2,209.34 283.4,209.36 283.6,209.38 283.8,209.4 284,209.42 284.2,209.44 284.4,209.46 284.6,209.49 284.8,209.52 285,209.55 285.2,209.58 285.4,209.61 285.6,209.64 285.8,209.67 286,209.71 286.2,209.74 286.4,209.78 286.6,209.82 286.8,209.87 287,209.92 287.2,209.99 287.4,210.06 287.6,210.14 287.8,210.23 288,210.33 288.2,210.43 288.4,210.53 288.6,210.65 288.8,210.76 289,210.88 289.2,211.01 289.4,211.14 289.6,211.27 289.8,211.41 290,211.58 290.2,211.75 290.4,211.94 290.6,212.14 290.8,212.35 291,212.58 291.2,212.81 291.4,213.05 291.6,213.29 291.8,213.54 292,213.8 292.2,214.07 292.4,214.36 292.6,214.66 292.8,214.98 293,215.31 293.2,215.66 293.4,216.01 293.6,216.38 293.8,216.75 294,217.12 294.2,217.5 294.4,217.89 294.6,218.28 294.8,218.7 295,219.12 295.2,219.55 295.4,219.99 295.6,220.43 295.8,220.89 296,221.34 296.2,221.8 296.4,222.27 296.6,222.74 296.8,223.22 297,223.73 297.2,224.24 297.4,224.77 297.6,225.29 297.8,225.81 298,226.33 298.2,226.83 298.4,227.32 298.6,227.78 298.8,228.22 299,228.65 299.2,229.08 299.4,229.51 299.6,226.98 299.8,227.78 300,228.68 300.2,229.67 300.4,230.71 300.6,231.78 300.8,232.89 301,234.05 301.2,235.27 301.4,236.61 301.6,238.08 301.8,239.69 302,241.39 302.2,243.02 302.4,244.43 302.6,245.4 302.8,245.72 303,245.31 303.2,244.19 303.4,242.52 303.6,240.55 303.8,238.56 304,236.77 304.2,235.33 304.4,234.3 304.6,233.67 304.8,233.39 305,233.39 305.2,233.61 305.4,234 305.6,234.53 305.8,235.18 306,235.94 306.2,236.83 306.4,237.89 306.6,239.17 306.8,240.72 307,242.54 307.2,244.58 307.4,246.67 307.6,248.57 307.8,249.99 308,250.68 308.2,250.48 308.4,249.42 308.6,247.66 308.8,245.5 309,243.25 309.2,241.17 309.4,239.42 309.6,238.09 309.8,237.14 310,236.54 310.2,236.2 310.4,236.07 310.6,236.1 310.8,236.25 311,236.51 311.2,236.84 311.4,237.22 311.6,237.65 311.8,238.09 312,238.53 312.2,238.95 312.4,239.33 312.6,239.66 312.8,239.91 313,240.1 313.2,240.2 313.4,240.22 313.6,240.16 313.8,240.03 314,239.84 314.2,239.6 314.4,239.33 314.6,239.04 314.8,238.74 315,238.46 315.2,238.21 315.4,238.01 315.6,237.86 315.8,237.77 316,237.75 316.2,237.79 316.4,237.9 316.6,238.07 316.8,238.3 317,238.56 317.2,238.86 317.4,239.17 317.6,239.49 317.8,239.79 318,240.07 318.2,240.31 318.4,240.51 318.6,240.66 318.8,240.75 319,240.78 319.2,240.76 319.4,240.68 319.6,240.56 319.8,240.41 320,240.22 320.2,240.02 320.4,239.82 320.6,239.62 320.8,239.45 321,239.3 321.2,239.18 321.4,239.11 321.6,239.09 321.8,239.11 322,239.18 322.2,239.29 322.4,239.44 322.6,239.63 322.8,239.83 323,240.05 323.2,240.28 323.4,240.5 323.6,240.7 323.8,240.88 324,241.04 324.2,241.15 324.4,241.23 324.6,241.27 324.8,241.27 325,241.24 325.2,241.17 325.4,241.07 325.6,240.96 325.8,240.83 326,240.7 326.2,240.57 326.4,240.45 326.6,240.35 326.8,240.28 327,240.24 327.2,240.23 327.4,240.25 327.6,240.31 327.8,240.4 328,240.51 328.2,240.66 328.4,240.82 328.6,240.99 328.8,241.17 329,241.35 329.2,241.51 329.4,241.67 329.6,241.81 329.8,241.92 330,242.01 330.2,242.08 330.4,242.11 330.6,242.12 330.8,242.11 331,242.08 331.2,242.04 331.4,241.98 331.6,241.93 331.8,241.87 332,241.82 332.2,241.79 332.4,241.77 332.6,241.77 332.8,241.8 333,241.85 333.2,241.92 333.4,242.02 333.6,242.14 333.8,242.27 334,242.42 334.2,242.58 334.4,242.75 334.6,242.91 334.8,243.07 335,243.23 335.2,243.37 335.4,243.49 335.6,243.6 335.8,243.68 336,243.75 336.2,243.8 336.4,243.83 336.6,243.85 336.8,243.86 337,243.86 337.2,243.86 337.4,243.86 337.6,243.87 337.8,243.88 338,243.9 338.2,243.94 338.4,244 338.6,244.07 338.8,244.16 339,244.27 339.2,244.4 339.4,244.54 339.6,244.69 339.8,244.85 340,245.02 340.2,245.19 340.4,245.36 340.6,245.53 340.8,245.68 341,245.84 341.2,245.98 341.4,246.12 341.6,246.25 341.8,246.37 342,246.48 342.2,246.59 342.4,246.7 342.6,246.8 342.8,246.91 343,247.01 343.2,247.13 343.4,247.24 343.6,247.37 343.8,247.51 344,247.66 344.2,247.82 344.4,248 344.6,248.19 344.8,248.38 345,248.59 345.2,248.8 345.4,249.01 345.6,249.23 345.8,249.45 346,249.66 346.2,249.86 346.4,250.06 346.6,250.24 346.8,250.41 347,250.56 347.2,250.71 347.4,250.84 347.6,250.95 347.8,251.06 348,251.16 348.2,251.25 348.4,251.33 348.6,251.41 348.8,251.5 349,251.58 349.2,251.67 349.4,251.77 349.6,251.87 349.8,251.98 350,252.11 350.2,252.24 350.4,252.38 350.6,252.53 350.8,252.68 351,252.85 351.2,253.02 351.4,253.2 351.6,253.38 351.8,253.56 352,253.74 352.2,253.92 352.4,254.1 352.6,254.27 352.8,254.44 353,254.6 353.2,254.76 353.4,254.92 353.6,255.07 353.8,255.23 354,255.38 354.2,255.53 354.4,255.69 354.6,255.85 354.8,256.01 355,256.18 355.2,256.36 355.4,256.54 355.6,256.73 355.8,256.93 356,257.13 356.2,257.35 356.4,257.56 356.6,257.78 356.8,258.01 357,258.24 357.2,258.46 357.4,258.69 357.6,258.92 357.8,259.14 358,259.36 358.2,259.58 358.4,259.79 358.6,260 358.8,260.2 359,260.4 359.2,260.6 359.4,260.79 359.6,260.99 359.8,261.18 360,261.37 360.2,261.59 360.4,261.8 360.6,262.01 360.8,262.23 361,262.44 361.2,262.66 361.4,262.87 361.6,263.09 361.8,263.31 362,263.54 362.2,263.76 362.4,263.98 362.6,264.21 362.8,264.44 363,264.67 363.2,264.89 363.4,265.12 363.6,265.36 363.8,265.59 364,265.82 364.2,266.06 364.4,266.29 364.6,266.53 364.8,266.76 365,267 365.2,267.24 365.4,267.47 365.6,267.71 365.8,267.95 366,268.19 366.2,268.43 366.4,268.67 366.6,268.91 366.8,269.15 367,269.39 367.2,269.64 367.4,269.88 367.6,270.12 367.8,270.36 368,270.6 368.2,270.84 368.4,271.08 368.6,271.33 368.8,271.57 369,271.81 369.2,272.05 369.4,272.29 369.6,272.53 369.8,272.77 370,273.01 370.2,273.24 370.4,273.48 370.6,273.72 370.8,273.95 371,274.19 371.2,274.42 371.4,274.64 371.6,274.87 371.8,275.1 372,275.33 372.2,275.55 372.4,275.78 372.6,276.01 372.8,276.24 373,276.47 373.2,276.71 373.4,276.95 373.6,277.19 373.8,277.43 374,277.68 374.2,277.93 374.4,278.19 374.6,278.46 374.8,278.72 375,279 375.2,279.28 375.4,279.58 375.6,279.88 375.8,280.19 376,280.51 376.2,280.84 376.4,281.17 376.6,281.5 376.8,281.84 377,282.19 377.2,282.53 377.4,282.88 377.6,283.22 377.8,283.56 378,283.91 378.2,284.25 378.4,284.58 378.6,284.91 378.8,285.24 379,285.56 379.2,285.89 379.4,286.22 379.6,286.55 379.8,286.89 380,287.24 380.2,287.58 380.4,287.93 380.6,288.28 380.8,288.62 381,288.97 381.2,289.31 381.4,289.65 381.6,289.98 381.8,290.31 382,290.63 382.2,290.94 382.4,291.25 382.6,291.55 382.8,291.84 383,292.11 383.2,292.38 383.4,292.63 383.6,292.87 383.8,293.09 384,293.3 384.2,293.5 384.4,293.71 384.6,293.91 384.8,294.12 385,294.33 385.2,294.53 385.4,294.73 385.6,294.93 385.8,295.13 386,295.32 386.2,295.51 386.4,295.69 386.6,295.86 386.8,296.02 387,296.18 387.2,296.32 387.4,296.45 387.6,296.57 387.8,296.68 388,296.78 388.2,296.85 388.4,296.92 388.6,296.96 388.8,296.99 389,297 389.2,296.99 389.4,296.98 389.6,296.95 389.8,296.92 390,296.87 390.2,296.82 390.4,296.76 390.6,296.69 390.8,296.62 391,296.54 391.2,296.46 391.4,296.37 391.6,296.28 391.8,296.19 392,296.09 392.2,296 392.4,295.9 392.6,295.8 392.8,295.7 393,295.6 393.2,295.5 393.4,295.38 393.6,295.25 393.8,295.11 394,294.96 394.2,294.81 394.4,294.64 394.6,294.47 394.8,294.3 395,294.12 395.2,293.93 395.4,293.75 395.6,293.56 395.8,293.37 396,293.18 396.2,293 396.4,292.82 396.6,292.64 396.8,292.46 397,292.29 397.2,292.13 397.4,291.97 397.6,291.83 397.8,291.68 398,291.54 398.2,291.39 398.4,291.25 398.6,291.11 398.8,290.96 399,290.82 399.2,290.68 399.4,290.54 399.6,290.41 399.8,290.27 400,290.13 400.2,290 400.4,289.87 400.6,289.74 400.8,289.61 401,289.48 401.2,289.35 401.4,289.23 401.6,289.11 401.8,288.98 402,288.87 402.2,288.75 402.4,288.63 402.6,288.52 402.8,288.41 403,288.3 403.2,288.19 403.4,288.09 403.6,287.98 403.8,287.88 404,287.77 404.2,287.67 404.4,287.57 404.6,287.47 404.8,287.37 405,287.28 405.2,287.18 405.4,287.08 405.6,286.99 405.8,286.9 406,286.81 406.2,286.72 406.4,286.63 406.6,286.54 406.8,286.45 407,286.37 407.2,286.28 407.4,286.2 407.6,286.12 407.8,286.04 408,285.96 408.2,285.89 408.4,285.81 408.6,285.74 408.8,285.66 409,285.59 409.2,285.52 409.4,285.45 409.6,285.38 409.8,285.31 410,285.23 410.2,285.17 410.4,285.1 410.6,285.03 410.8,284.96 411,284.9 411.2,284.83 411.4,284.77 411.6,284.71 411.8,284.64 412,284.59 412.2,284.53 412.4,284.47 412.6,284.42 412.8,284.37 413,284.32 413.2,284.27 413.4,284.22 413.6,284.18 413.8,284.14 414,284.1 414.2,284.06 414.4,284.02 414.6,283.99 414.8,283.95 415,283.91 415.2,283.87 415.4,283.84 415.6,283.8 415.8,283.76 416,283.73 416.2,283.69 416.4,283.66 416.6,283.62 416.8,283.59 417,283.56 417.2,283.53 417.4,283.5 417.6,283.47 417.8,283.45 418,283.42 418.2,283.4 418.4,283.38 418.6,283.36 418.8,283.35 419,283.33 419.2,283.32 419.4,283.31 419.6,283.31 419.8,283.3 420,283.3 420.2,283.3 420.4,283.3 420.6,283.3 420.8,283.3 421,283.3 421.2,283.3 421.4,283.3 421.6,283.3 421.8,283.3 422,283.3 422.2,283.3 422.4,283.3 422.6,283.3 422.8,283.3 423,283.3 423.2,283.3 423.4,283.3 423.6,283.3 423.8,283.3 424,283.3 424.2,283.3 424.4,283.3 424.6,283.3 424.8,283.3 425,283.3 425.2,283.3 425.4,283.3 425.6,283.3 425.8,283.3 426,283.3 426.2,283.3 426.4,283.3 426.6,283.3 426.8,283.3 427,283.3 427.2,283.3 427.4,283.31 427.6,283.32 427.8,283.33 428,283.35 428.2,283.37 428.4,283.4 428.6,283.43 428.8,283.46 429,283.49 429.2,283.53 429.4,283.57 429.6,283.61 429.8,283.65 430,283.7 430.2,283.75 430.4,283.8 430.6,283.85 430.8,283.9 431,283.95 431.2,284 431.4,284.06 431.6,284.11 431.8,284.17 432,284.22 432.2,284.28 432.4,284.33 432.6,284.39 432.8,284.44 433,284.5 433.2,284.55 433.4,284.6 433.6,284.65 433.8,284.7 434,284.76 434.2,284.81 434.4,284.86 434.6,284.92 434.8,284.97 435,285.03 435.2,285.09 435.4,285.15 435.6,285.21 435.8,285.27 436,285.33 436.2,285.39 436.4,285.45 436.6,285.51 436.8,285.58 437,285.64 437.2,285.71 437.4,285.78 437.6,285.85 437.8,285.92 438,285.99 438.2,286.06 438.4,286.13 438.6,286.21 438.8,286.28 439,286.36 439.2,286.43 439.4,286.51 439.6,286.59 439.8,286.67 440,286.76 440.2,286.84 440.4,286.92 440.6,287.01 440.8,287.1 441,287.18 441.2,287.27 441.4,287.37 441.6,287.46 441.8,287.55 442,287.65 442.2,287.75 442.4,287.85 442.6,287.96 442.8,288.07 443,288.19 443.2,288.31 443.4,288.43 443.6,288.55 443.8,288.68 444,288.81 444.2,288.95 444.4,289.09 444.6,289.23 444.8,289.37 445,289.51 445.2,289.66 445.4,289.81 445.6,289.96 445.8,290.11 446,290.27 446.2,290.42 446.4,290.58 446.6,290.74 446.8,290.9 447,291.06 447.2,291.22 447.4,291.39 447.6,291.55 447.8,291.71 448,291.88 448.2,292.04 448.4,292.2 448.6,292.37 448.8,292.53 449,292.69 449.2,292.86 449.4,293.02 449.6,293.18 449.8,293.34 450,293.5 450.2,293.66 450.4,293.82 450.6,293.98 450.8,294.13 451,294.29 451.2,294.45 451.4,294.61 451.6,294.77 451.8,294.93 452,295.09 452.2,295.25 452.4,295.41 452.6,295.58 452.8,295.74 453,295.9 453.2,296.07 453.4,296.23 453.6,296.4 453.8,296.56 454,296.73 454.2,296.9 454.4,297.07 454.6,297.24 454.8,297.41 455,297.59 455.2,297.76 455.4,297.94 455.6,298.12 455.8,298.3 456,298.48 456.2,298.66 456.4,298.84 456.6,299.03 456.8,299.22 457,299.41 457.2,299.6 457.4,299.79 457.6,299.99 457.8,300.18 458,300.38 458.2,300.59 458.4,300.79 458.6,301 458.8,301.2 459,301.42 459.2,301.63 459.4,301.85 459.6,302.07 459.8,302.29 460,302.52 460.2,302.75 460.4,302.98 460.6,303.22 460.8,303.45 461,303.69 461.2,303.93 461.4,304.18 461.6,304.43 461.8,304.68 462,304.93 462.2,305.18 462.4,305.44 462.6,305.69 462.8,305.95 463,306.22 463.2,306.48 463.4,306.75 463.6,307.02 463.8,307.29 464,307.56 464.2,307.83 464.4,308.11 464.6,308.38 464.8,308.66 465,308.94 465.2,309.22 465.4,309.5 465.6,309.79 465.8,310.07 466,310.36 466.2,310.65 466.4,310.93 466.6,311.22 466.8,311.52 467,311.81 467.2,312.1 467.4,312.39 467.6,312.69 467.8,312.99 468,313.29 468.2,313.6 468.4,313.91 468.6,314.22 468.8,314.53 469,314.84 469.2,315.16 469.4,315.48 469.6,315.8 469.8,316.12 470,316.45 470.2,316.78 470.4,317.11 470.6,317.44 470.8,317.78 471,318.11 471.2,318.45 471.4,318.79 471.6,319.14 471.8,319.48 472,319.83 472.2,320.18 472.4,320.53 472.6,320.88 472.8,321.24 473,321.6 473.2,321.95 473.4,322.32 473.6,322.68 473.8,323.04 474,323.41 474.2,323.77 474.4,324.14" fill="none" stroke="#f02828" stroke-width="1.2" stroke-linejoin="round"/><rect x="264.4" y="187" width="210.4" height="144.5" fill="none" stroke="#1a1a1a" stroke-width="1.1"/><text x="264.4" y="341.8" font-family='"Liberation Sans", sans-serif' font-size="9" fill="#000" text-anchor="middle">0.2</text><text x="308.72" y="341.8" font-family='"Liberation Sans", sans-serif' font-size="9" fill="#000" text-anchor="middle">1</text><text x="364.12" y="341.8" font-family='"Liberation Sans", sans-serif' font-size="9" fill="#000" text-anchor="middle">2</text><text x="419.52" y="341.8" font-family='"Liberation Sans", sans-serif' font-size="9" fill="#000" text-anchor="middle">3</text><text x="474.92" y="341.8" font-family='"Liberation Sans", sans-serif' font-size="9" fill="#000" text-anchor="middle">4</text><g transform="translate(359.9,353.9)" font-family='"Liberation Serif", serif' fill="#000"><text x="0" y="0" font-size="10.5" font-style="italic" xml:space="preserve">2</text><text x="5.75" y="0" font-size="10.5" font-style="italic" xml:space="preserve">θ</text><text x="11.21" y="0" font-size="10.5" xml:space="preserve">(</text><text x="14.5" y="0" font-size="10.5" fill="#8a8a8a" xml:space="preserve">°</text><text x="18.5" y="0" font-size="10.5" xml:space="preserve">)</text></g><text transform="translate(256.7,259.6) rotate(-90)" font-family='"Liberation Sans", sans-serif' font-size="9.2" fill="#000" text-anchor="middle">Intensity (arb. units)</text><circle cx="413.2" cy="199.2" r="1.5"/><text x="428.4" y="202.4" font-family='"Liberation Sans", sans-serif' font-size="9" fill="#000">XRR data</text><line x1="406.1" y1="209.6" x2="420.8" y2="209.6" stroke="#ee2a2a" stroke-width="1.1"/><text x="428.4" y="212.8" font-family='"Liberation Sans", sans-serif' font-size="9" fill="#000">fit</text><line x1="545.03" y1="151" x2="545.03" y2="148" stroke="#1a1a1a" stroke-width="0.9"/><line x1="571.53" y1="151" x2="571.53" y2="148" stroke="#1a1a1a" stroke-width="0.9"/><line x1="598.02" y1="151" x2="598.02" y2="148" stroke="#1a1a1a" stroke-width="0.9"/><line x1="624.51" y1="151" x2="624.51" y2="148" stroke="#1a1a1a" stroke-width="0.9"/><line x1="651.01" y1="151" x2="651.01" y2="148" stroke="#1a1a1a" stroke-width="0.9"/><line x1="519.6" y1="125.6" x2="522.6" y2="125.6" stroke="#1a1a1a" stroke-width="0.9"/><line x1="519.6" y1="75.9" x2="522.6" y2="75.9" stroke="#1a1a1a" stroke-width="0.9"/><line x1="519.6" y1="26.2" x2="522.6" y2="26.2" stroke="#1a1a1a" stroke-width="0.9"/><line x1="519.6" y1="100.75" x2="521.4" y2="100.75" stroke="#1a1a1a" stroke-width="0.9"/><line x1="519.6" y1="51.05" x2="521.4" y2="51.05" stroke="#1a1a1a" stroke-width="0.9"/><polyline points="520.2,114.2 520.7,114.2 521.2,114.19 521.7,114.19 522.2,114.18 522.7,114.17 523.2,114.16 523.7,114.15 524.2,114.14 524.7,114.13 525.2,114.12 525.7,114.11 526.2,114.09 526.7,114.08 527.2,114.06 527.7,114.04 528.2,114.01 528.7,113.98 529.2,113.95 529.7,113.92 530.2,113.88 530.7,113.84 531.2,113.8 531.7,113.75 532.2,113.7 532.7,113.65 533.2,113.6 533.7,113.54 534.2,113.47 534.7,113.39 535.2,113.29 535.7,113.19 536.2,113.08 536.7,112.96 537.2,112.83 537.7,112.7 538.2,112.56 538.7,112.41 539.2,112.26 539.7,112.1 540.2,111.94 540.7,111.78 541.2,111.61 541.7,111.44 542.2,111.27 542.7,111.09 543.2,110.91 543.7,110.71 544.2,110.5 544.7,110.28 545.2,110.05 545.7,109.81 546.2,109.56 546.7,109.31 547.2,109.05 547.7,108.78 548.2,108.5 548.7,108.22 549.2,107.94 549.7,107.65 550.2,107.36 550.7,107.07 551.2,106.78 551.7,106.48 552.2,106.18 552.7,105.87 553.2,105.55 553.7,105.22 554.2,104.89 554.7,104.55 555.2,104.2 555.7,103.85 556.2,103.49 556.7,103.13 557.2,102.76 557.7,102.39 558.2,102.02 558.7,101.64 559.2,101.27 559.7,100.89 560.2,100.51 560.7,100.12 561.2,99.74 561.7,99.34 562.2,98.94 562.7,98.54 563.2,98.13 563.7,97.72 564.2,97.3 564.7,96.88 565.2,96.45 565.7,96.03 566.2,95.6 566.7,95.17 567.2,94.74 567.7,94.31 568.2,93.88 568.7,93.45 569.2,93.02 569.7,92.6 570.2,92.18 570.7,91.75 571.2,91.32 571.7,90.9 572.2,90.47 572.7,90.04 573.2,89.61 573.7,89.18 574.2,88.75 574.7,88.32 575.2,87.89 575.7,87.46 576.2,87.02 576.7,86.59 577.2,86.16 577.7,85.73 578.2,85.3 578.7,84.87 579.2,84.44 579.7,84.01 580.2,83.58 580.7,83.15 581.2,82.73 581.7,82.3 582.2,81.87 582.7,81.44 583.2,81.01 583.7,80.58 584.2,80.15 584.7,79.72 585.2,79.29 585.7,78.86 586.2,78.44 586.7,78.01 587.2,77.58 587.7,77.16 588.2,76.73 588.7,76.3 589.2,75.87 589.7,75.44 590.2,75.01 590.7,74.57 591.2,74.14 591.7,73.7 592.2,73.27 592.7,72.84 593.2,72.41 593.7,71.99 594.2,71.56 594.7,71.14 595.2,70.73 595.7,70.32 596.2,69.91 596.7,69.51 597.2,69.12 597.7,68.73 598.2,68.35 598.7,67.97 599.2,67.6 599.7,67.22 600.2,66.86 600.7,66.49 601.2,66.13 601.7,65.77 602.2,65.41 602.7,65.05 603.2,64.7 603.7,64.35 604.2,64 604.7,63.65 605.2,63.3 605.7,62.95 606.2,62.6 606.7,62.25 607.2,61.91 607.7,61.56 608.2,61.22 608.7,60.88 609.2,60.54 609.7,60.2 610.2,59.86 610.7,59.52 611.2,59.19 611.7,58.85 612.2,58.52 612.7,58.19 613.2,57.86 613.7,57.53 614.2,57.2 614.7,56.87 615.2,56.55 615.7,56.22 616.2,55.9 616.7,55.58 617.2,55.26 617.7,54.94 618.2,54.62 618.7,54.3 619.2,53.98 619.7,53.67 620.2,53.35 620.7,53.04 621.2,52.72 621.7,52.41 622.2,52.1 622.7,51.79 623.2,51.48 623.7,51.18 624.2,50.87 624.7,50.56 625.2,50.26 625.7,49.96 626.2,49.65 626.7,49.35 627.2,49.05 627.7,48.76 628.2,48.46 628.7,48.16 629.2,47.87 629.7,47.58 630.2,47.28 630.7,46.99 631.2,46.7 631.7,46.41 632.2,46.12 632.7,45.83 633.2,45.54 633.7,45.25 634.2,44.97 634.7,44.68 635.2,44.4 635.7,44.11 636.2,43.83 636.7,43.55 637.2,43.27 637.7,42.99 638.2,42.72 638.7,42.45 639.2,42.18 639.7,41.91 640.2,41.64 640.7,41.38 641.2,41.12 641.7,40.86 642.2,40.6 642.7,40.35 643.2,40.09 643.7,39.85 644.2,39.6 644.7,39.35 645.2,39.11 645.7,38.87 646.2,38.63 646.7,38.39 647.2,38.15 647.7,37.92 648.2,37.69 648.7,37.45 649.2,37.22 649.7,36.99 650.2,36.76 650.7,36.53 651.2,36.31 651.7,36.08 652.2,35.85 652.7,35.63 653.2,35.41 653.7,35.18 654.2,34.96 654.7,34.73 655.2,34.51 655.7,34.29 656.2,34.07 656.7,33.84 657.2,33.62 657.7,33.4 658.2,33.18 658.7,32.97 659.2,32.75 659.7,32.53 660.2,32.32 660.7,32.1 661.2,31.89 661.7,31.68 662.2,31.46 662.7,31.25 663.2,31.04 663.7,30.84 664.2,30.63 664.7,30.43 665.2,30.22 665.7,30.02 666.2,29.82 666.7,29.62 667.2,29.42 667.7,29.22 668.2,29.03 668.7,28.83 669.2,28.64 669.7,28.44 670.2,28.25 670.7,28.06 671.2,27.87 671.7,27.68 672.2,27.49 672.7,27.3 673.2,27.12 673.7,26.93 674.2,26.75 674.7,26.57 675.2,26.39 675.7,26.2 676.2,26.03 676.7,25.85" fill="none" stroke="#1f34ff" stroke-width="2.6" stroke-linejoin="round"/><rect x="519.6" y="6.6" width="157.9" height="144.4" fill="none" stroke="#1a1a1a" stroke-width="1.1"/><text x="519.6" y="160.9" font-family='"Liberation Sans", sans-serif' font-size="9" fill="#000" text-anchor="middle">2</text><text x="545.03" y="160.9" font-family='"Liberation Sans", sans-serif' font-size="9" fill="#000" text-anchor="middle">50</text><text x="571.53" y="160.9" font-family='"Liberation Sans", sans-serif' font-size="9" fill="#000" text-anchor="middle">100</text><text x="598.02" y="160.9" font-family='"Liberation Sans", sans-serif' font-size="9" fill="#000" text-anchor="middle">150</text><text x="624.51" y="160.9" font-family='"Liberation Sans", sans-serif' font-size="9" fill="#000" text-anchor="middle">200</text><text x="651.01" y="160.9" font-family='"Liberation Sans", sans-serif' font-size="9" fill="#000" text-anchor="middle">250</text><text x="677.5" y="160.9" font-family='"Liberation Sans", sans-serif' font-size="9" fill="#000" text-anchor="middle">300</text><text x="516.2" y="128.8" font-family='"Liberation Sans", sans-serif' font-size="9" fill="#000" text-anchor="end">15</text><text x="516.2" y="79.1" font-family='"Liberation Sans", sans-serif' font-size="9" fill="#000" text-anchor="end">20</text><text x="516.2" y="29.4" font-family='"Liberation Sans", sans-serif' font-size="9" fill="#000" text-anchor="end">25</text><g transform="translate(599,174.8)" font-family='"Liberation Sans", sans-serif' fill="#000"><text x="-10.22" y="0" font-size="9.2" font-style="italic" xml:space="preserve">T (K)</text></g><g transform="translate(499.4,79.4) rotate(-90)" font-family='"Liberation Sans", sans-serif' fill="#000"><text x="-36.37" y="0" font-size="9" font-style="italic" xml:space="preserve">R</text><text x="-29.87" y="1.98" font-size="6.3" xml:space="preserve">xx</text><text x="-23.57" y="0" font-size="9" xml:space="preserve"> · [π / ln(2)] (Ω)</text></g><g transform="translate(530.6,21)" font-family='"Liberation Sans", sans-serif' fill="#000"><text x="0" y="0" font-size="9.2" xml:space="preserve">Mn</text><text x="12.78" y="2.02" font-size="6.44" xml:space="preserve">3</text><text x="16.36" y="0" font-size="9.2" xml:space="preserve">Sn (40 nm) / Ru (3 nm) // MgO</text></g><rect x="607.5" y="65.8" width="66.1" height="60.2" fill="#fff" stroke="#1a1a1a" stroke-width="1.0"/><line x1="611.1" y1="126" x2="611.1" y2="123.6" stroke="#1a1a1a" stroke-width="0.8"/><line x1="611.1" y1="65.8" x2="611.1" y2="68.2" stroke="#1a1a1a" stroke-width="0.8"/><line x1="625.8" y1="126" x2="625.8" y2="124.4" stroke="#1a1a1a" stroke-width="0.8"/><line x1="625.8" y1="65.8" x2="625.8" y2="67.4" stroke="#1a1a1a" stroke-width="0.8"/><line x1="640.5" y1="126" x2="640.5" y2="123.6" stroke="#1a1a1a" stroke-width="0.8"/><line x1="640.5" y1="65.8" x2="640.5" y2="68.2" stroke="#1a1a1a" stroke-width="0.8"/><line x1="655.2" y1="126" x2="655.2" y2="124.4" stroke="#1a1a1a" stroke-width="0.8"/><line x1="655.2" y1="65.8" x2="655.2" y2="67.4" stroke="#1a1a1a" stroke-width="0.8"/><line x1="669.9" y1="126" x2="669.9" y2="123.6" stroke="#1a1a1a" stroke-width="0.8"/><line x1="669.9" y1="65.8" x2="669.9" y2="68.2" stroke="#1a1a1a" stroke-width="0.8"/><line x1="607.5" y1="75.8" x2="609.9" y2="75.8" stroke="#1a1a1a" stroke-width="0.8"/><line x1="673.6" y1="75.8" x2="671.2" y2="75.8" stroke="#1a1a1a" stroke-width="0.8"/><line x1="607.5" y1="85.8" x2="609.1" y2="85.8" stroke="#1a1a1a" stroke-width="0.8"/><line x1="673.6" y1="85.8" x2="672" y2="85.8" stroke="#1a1a1a" stroke-width="0.8"/><line x1="607.5" y1="106.2" x2="609.1" y2="106.2" stroke="#1a1a1a" stroke-width="0.8"/><line x1="673.6" y1="106.2" x2="672" y2="106.2" stroke="#1a1a1a" stroke-width="0.8"/><line x1="607.5" y1="116.6" x2="609.9" y2="116.6" stroke="#1a1a1a" stroke-width="0.8"/><line x1="673.6" y1="116.6" x2="671.2" y2="116.6" stroke="#1a1a1a" stroke-width="0.8"/><line x1="607.5" y1="95.8" x2="673.6" y2="95.8" stroke="#4a4a4a" stroke-width="1.35"/><path d="M611.3,118.3 Q642.29,97.19 670.6,72.6" fill="none" stroke="#1f34ff" stroke-width="2.6" stroke-linecap="round"/><path d="M611.3,118.3 Q639.61,93.71 670.6,72.6" fill="none" stroke="#1f34ff" stroke-width="2.6" stroke-linecap="round"/><path d="M630.87,103.22 L651.03,87.68" fill="none" stroke="#9fb0ff" stroke-width="0.45"/><path d="M617.7,75.6 V86.1 M616,75.6 H619.4 M616,86.1 H619.4" stroke="#333" stroke-width="0.9" fill="none"/><text x="622.3" y="84.2" font-family='"Liberation Sans", sans-serif' font-size="8.2" fill="#000">20 mΩ</text><g transform="translate(666.6,119)" font-family='"Liberation Sans", sans-serif' fill="#000"><text x="-35.78" y="0" font-size="8.2" font-style="italic" xml:space="preserve">T</text><text x="-30.77" y="0" font-size="8.2" xml:space="preserve"> = 300 K</text></g><text x="610.5" y="134.6" font-family='"Liberation Sans", sans-serif' font-size="8.2" fill="#000" text-anchor="middle">-4</text><text x="640.5" y="134.6" font-family='"Liberation Sans", sans-serif' font-size="8.2" fill="#000" text-anchor="middle">0</text><text x="669.9" y="134.6" font-family='"Liberation Sans", sans-serif' font-size="8.2" fill="#000" text-anchor="middle">4</text><g transform="translate(643.2,143.6)" font-family='"Liberation Sans", sans-serif' fill="#000"><text x="-13.5" y="0" font-size="8.4" font-style="italic" xml:space="preserve">μ</text><text x="-8.9" y="1.85" font-size="5.88" xml:space="preserve">0</text><text x="-5.63" y="0" font-size="8.4" font-style="italic" xml:space="preserve">H</text><text x="0.44" y="0" font-size="8.4" xml:space="preserve"> (T)</text></g><g transform="translate(601,96.4) rotate(-90)" font-family='"Liberation Sans", sans-serif' fill="#000"><text x="-6.68" y="0" font-size="9.4" font-style="italic" xml:space="preserve">R</text><text x="0.1" y="2.07" font-size="6.58" font-style="italic" xml:space="preserve">xy</text></g><line x1="539.33" y1="331.5" x2="539.33" y2="329.7" stroke="#1a1a1a" stroke-width="0.9"/><line x1="539.33" y1="187" x2="539.33" y2="188.8" stroke="#1a1a1a" stroke-width="0.9"/><line x1="559.05" y1="331.5" x2="559.05" y2="328.5" stroke="#1a1a1a" stroke-width="0.9"/><line x1="559.05" y1="187" x2="559.05" y2="190" stroke="#1a1a1a" stroke-width="0.9"/><line x1="578.77" y1="331.5" x2="578.77" y2="329.7" stroke="#1a1a1a" stroke-width="0.9"/><line x1="578.77" y1="187" x2="578.77" y2="188.8" stroke="#1a1a1a" stroke-width="0.9"/><line x1="598.5" y1="331.5" x2="598.5" y2="328.5" stroke="#1a1a1a" stroke-width="0.9"/><line x1="598.5" y1="187" x2="598.5" y2="190" stroke="#1a1a1a" stroke-width="0.9"/><line x1="618.23" y1="331.5" x2="618.23" y2="329.7" stroke="#1a1a1a" stroke-width="0.9"/><line x1="618.23" y1="187" x2="618.23" y2="188.8" stroke="#1a1a1a" stroke-width="0.9"/><line x1="637.95" y1="331.5" x2="637.95" y2="328.5" stroke="#1a1a1a" stroke-width="0.9"/><line x1="637.95" y1="187" x2="637.95" y2="190" stroke="#1a1a1a" stroke-width="0.9"/><line x1="657.67" y1="331.5" x2="657.67" y2="329.7" stroke="#1a1a1a" stroke-width="0.9"/><line x1="657.67" y1="187" x2="657.67" y2="188.8" stroke="#1a1a1a" stroke-width="0.9"/><line x1="519.6" y1="320.8" x2="521.4" y2="320.8" stroke="#1a1a1a" stroke-width="0.9"/><line x1="677.4" y1="320.8" x2="675.6" y2="320.8" stroke="#1a1a1a" stroke-width="0.9"/><line x1="519.6" y1="308.38" x2="522.6" y2="308.38" stroke="#1a1a1a" stroke-width="0.9"/><line x1="677.4" y1="308.38" x2="674.4" y2="308.38" stroke="#1a1a1a" stroke-width="0.9"/><line x1="519.6" y1="295.96" x2="521.4" y2="295.96" stroke="#1a1a1a" stroke-width="0.9"/><line x1="677.4" y1="295.96" x2="675.6" y2="295.96" stroke="#1a1a1a" stroke-width="0.9"/><line x1="519.6" y1="283.54" x2="522.6" y2="283.54" stroke="#1a1a1a" stroke-width="0.9"/><line x1="677.4" y1="283.54" x2="674.4" y2="283.54" stroke="#1a1a1a" stroke-width="0.9"/><line x1="519.6" y1="271.12" x2="521.4" y2="271.12" stroke="#1a1a1a" stroke-width="0.9"/><line x1="677.4" y1="271.12" x2="675.6" y2="271.12" stroke="#1a1a1a" stroke-width="0.9"/><line x1="519.6" y1="258.7" x2="522.6" y2="258.7" stroke="#1a1a1a" stroke-width="0.9"/><line x1="677.4" y1="258.7" x2="674.4" y2="258.7" stroke="#1a1a1a" stroke-width="0.9"/><line x1="519.6" y1="246.28" x2="521.4" y2="246.28" stroke="#1a1a1a" stroke-width="0.9"/><line x1="677.4" y1="246.28" x2="675.6" y2="246.28" stroke="#1a1a1a" stroke-width="0.9"/><line x1="519.6" y1="233.86" x2="522.6" y2="233.86" stroke="#1a1a1a" stroke-width="0.9"/><line x1="677.4" y1="233.86" x2="674.4" y2="233.86" stroke="#1a1a1a" stroke-width="0.9"/><line x1="519.6" y1="221.44" x2="521.4" y2="221.44" stroke="#1a1a1a" stroke-width="0.9"/><line x1="677.4" y1="221.44" x2="675.6" y2="221.44" stroke="#1a1a1a" stroke-width="0.9"/><line x1="519.6" y1="209.02" x2="522.6" y2="209.02" stroke="#1a1a1a" stroke-width="0.9"/><line x1="677.4" y1="209.02" x2="674.4" y2="209.02" stroke="#1a1a1a" stroke-width="0.9"/><line x1="519.6" y1="196.6" x2="521.4" y2="196.6" stroke="#1a1a1a" stroke-width="0.9"/><line x1="677.4" y1="196.6" x2="675.6" y2="196.6" stroke="#1a1a1a" stroke-width="0.9"/><polyline points="676.6,209.55 675.93,209.56 675.26,209.58 674.59,209.59 673.92,209.61 673.26,209.62 672.59,209.64 671.92,209.65 671.25,209.66 670.58,209.68 669.91,209.69 669.24,209.71 668.57,209.72 667.91,209.74 667.24,209.75 666.57,209.77 665.9,209.78 665.23,209.79 664.56,209.81 663.89,209.82 663.22,209.84 662.55,209.85 661.89,209.87 661.22,209.88 660.55,209.9 659.88,209.91 659.21,209.93 658.54,209.94 657.87,209.96 657.2,209.97 656.54,209.99 655.87,210 655.2,210.02 654.53,210.03 653.86,210.05 653.19,210.06 652.52,210.08 651.85,210.09 651.19,210.11 650.52,210.12 649.85,210.14 649.18,210.16 648.51,210.17 647.84,210.18 647.17,210.2 646.5,210.21 645.83,210.23 645.17,210.24 644.5,210.26 643.83,210.27 643.16,210.28 642.49,210.3 641.82,210.31 641.15,210.32 640.48,210.34 639.81,210.35 639.14,210.36 638.48,210.38 637.81,210.39 637.14,210.4 636.47,210.42 635.8,210.43 635.13,210.45 634.46,210.46 633.79,210.48 633.12,210.49 632.46,210.51 631.79,210.53 631.12,210.54 630.45,210.56 629.78,210.58 629.11,210.6 628.44,210.62 627.78,210.64 627.11,210.66 626.44,210.68 625.77,210.7 625.1,210.73 624.43,210.75 623.77,210.77 623.1,210.8 622.43,210.83 621.76,210.86 621.09,210.89 620.42,210.92 619.75,210.95 619.08,210.99 618.41,211.02 617.74,211.06 617.08,211.11 616.41,211.15 615.74,211.19 615.07,211.24 614.41,211.29 613.74,211.34 613.07,211.4 612.41,211.46 611.74,211.52 611.08,211.58 610.42,211.65 609.75,211.73 609.08,211.83 608.41,211.93 607.75,212.03 607.08,212.15 606.43,212.28 605.77,212.42 605.13,212.57 604.49,212.73 603.85,212.91 603.22,213.13 602.6,213.39 601.98,213.68 601.38,213.98 600.79,214.3 600.22,214.63 599.64,215 599.08,215.39 598.56,215.81 598.08,216.26 597.65,216.75 597.23,217.29 596.85,217.86 596.51,218.45 596.24,219.05 596.02,219.66 595.82,220.29 595.63,220.94 595.47,221.59 595.32,222.26 595.19,222.92 595.08,223.59 594.99,224.25 594.91,224.91 594.83,225.57 594.76,226.23 594.7,226.89 594.63,227.56 594.58,228.22 594.52,228.89 594.47,229.56 594.43,230.23 594.38,230.9 594.34,231.56 594.29,232.23 594.25,232.9 594.21,233.57 594.17,234.24 594.13,234.91 594.08,235.58 594.04,236.25 593.99,236.92 593.94,237.59 593.89,238.26 593.84,238.92 593.79,239.59 593.73,240.26 593.68,240.93 593.63,241.59 593.57,242.26 593.52,242.93 593.47,243.59 593.41,244.26 593.36,244.93 593.31,245.59 593.25,246.26 593.2,246.93 593.15,247.59 593.1,248.26 593.04,248.93 592.99,249.59 592.94,250.26 592.89,250.93 592.84,251.6 592.79,252.26 592.74,252.93 592.7,253.6 592.65,254.27 592.61,254.93 592.56,255.6 592.52,256.27 592.48,256.94 592.43,257.6 592.39,258.27 592.35,258.94 592.31,259.61 592.26,260.27 592.22,260.94 592.17,261.61 592.12,262.28 592.07,262.94 592.02,263.61 591.97,264.28 591.92,264.94 591.86,265.61 591.8,266.28 591.74,266.94 591.68,267.61 591.62,268.27 591.55,268.94 591.49,269.61 591.42,270.27 591.35,270.94 591.28,271.6 591.21,272.27 591.14,272.93 591.06,273.6 590.99,274.26 590.91,274.93 590.83,275.59 590.75,276.26 590.67,276.92 590.59,277.59 590.51,278.25 590.43,278.92 590.34,279.58 590.25,280.24 590.17,280.9 590.08,281.57 589.99,282.23 589.9,282.89 589.8,283.55 589.71,284.22 589.61,284.88 589.51,285.54 589.4,286.2 589.3,286.86 589.19,287.52 589.08,288.18 588.97,288.84 588.86,289.5 588.74,290.16 588.62,290.82 588.5,291.48 588.38,292.14 588.26,292.79 588.13,293.45 588.01,294.11 587.88,294.76 587.76,295.42 587.63,296.08 587.49,296.74 587.35,297.4 587.2,298.05 587.03,298.69 586.85,299.33 586.64,299.98 586.42,300.63 586.16,301.27 585.88,301.87 585.56,302.41 585.17,302.95 584.69,303.48 584.17,303.96 583.62,304.35 583.06,304.6 582.47,304.79 581.85,304.97 581.2,305.12 580.53,305.26 579.84,305.38 579.15,305.48 578.46,305.56 577.78,305.62 577.12,305.67 576.45,305.71 575.79,305.75 575.13,305.78 574.46,305.82 573.79,305.85 573.13,305.88 572.46,305.9 571.79,305.93 571.12,305.95 570.45,305.98 569.79,306 569.12,306.02 568.45,306.04 567.77,306.06 567.1,306.07 566.43,306.09 565.76,306.1 565.09,306.12 564.42,306.14 563.75,306.15 563.08,306.17 562.41,306.18 561.74,306.19 561.07,306.21 560.4,306.23 559.73,306.24 559.06,306.26 558.39,306.27 557.72,306.29 557.06,306.31 556.39,306.32 555.72,306.34 555.05,306.35 554.38,306.36 553.71,306.38 553.04,306.39 552.37,306.41 551.7,306.42 551.04,306.43 550.37,306.44 549.7,306.46 549.03,306.47 548.36,306.48 547.69,306.49 547.02,306.51 546.35,306.52 545.69,306.53 545.02,306.54 544.35,306.56 543.68,306.57 543.01,306.58 542.34,306.59 541.67,306.61 541,306.62 540.33,306.63 539.67,306.64 539,306.66 538.33,306.67 537.66,306.69 536.99,306.7 536.32,306.71 535.65,306.73 534.98,306.74 534.31,306.75 533.65,306.77 532.98,306.78 532.31,306.79 531.64,306.81 530.97,306.82 530.3,306.83 529.63,306.85 528.96,306.86 528.29,306.87 527.63,306.89 526.96,306.9 526.29,306.91 525.62,306.93 524.95,306.94 524.28,306.96 523.61,306.97 522.94,306.98 522.28,307 521.61,307.01 520.94,307.02 520.27,307.04 519.6,307.05" fill="none" stroke="#4b5cff" stroke-width="0.75" stroke-linejoin="round"/><polyline points="519.6,309.45 520.27,309.44 520.94,309.43 521.61,309.42 522.28,309.41 522.95,309.39 523.62,309.38 524.29,309.37 524.96,309.36 525.63,309.35 526.3,309.33 526.97,309.32 527.64,309.31 528.32,309.3 528.99,309.28 529.66,309.27 530.33,309.26 531,309.24 531.67,309.23 532.34,309.22 533.01,309.2 533.68,309.19 534.35,309.17 535.02,309.16 535.69,309.15 536.36,309.13 537.03,309.12 537.7,309.1 538.37,309.09 539.04,309.07 539.71,309.06 540.38,309.04 541.05,309.03 541.72,309.01 542.39,309 543.06,308.98 543.73,308.97 544.4,308.95 545.07,308.93 545.74,308.92 546.41,308.9 547.08,308.89 547.75,308.87 548.43,308.86 549.1,308.84 549.77,308.83 550.44,308.81 551.11,308.8 551.78,308.78 552.45,308.77 553.12,308.75 553.79,308.74 554.46,308.72 555.13,308.71 555.8,308.69 556.47,308.67 557.14,308.66 557.81,308.64 558.48,308.62 559.15,308.6 559.82,308.58 560.49,308.56 561.16,308.54 561.83,308.52 562.5,308.5 563.17,308.48 563.84,308.46 564.51,308.44 565.18,308.41 565.85,308.39 566.52,308.37 567.19,308.34 567.86,308.31 568.53,308.29 569.2,308.26 569.87,308.23 570.54,308.2 571.21,308.17 571.88,308.13 572.55,308.09 573.23,308.06 573.9,308.01 574.57,307.97 575.24,307.92 575.91,307.88 576.58,307.82 577.25,307.77 577.92,307.71 578.58,307.65 579.25,307.58 579.91,307.52 580.58,307.44 581.24,307.37 581.9,307.28 582.56,307.17 583.21,307.04 583.87,306.9 584.52,306.74 585.17,306.57 585.82,306.4 586.47,306.23 587.12,306.06 587.78,305.9 588.43,305.74 589.09,305.6 589.75,305.47 590.41,305.34 591.06,305.2 591.72,305.06 592.37,304.92 593.02,304.75 593.66,304.57 594.3,304.37 594.93,304.14 595.56,303.89 596.18,303.63 596.79,303.35 597.4,303.08 598.01,302.78 598.61,302.47 599.19,302.13 599.73,301.76 600.27,301.35 600.79,300.9 601.27,300.41 601.69,299.9 602.04,299.36 602.36,298.77 602.64,298.14 602.88,297.51 603.09,296.87 603.27,296.23 603.45,295.58 603.6,294.92 603.72,294.26 603.81,293.6 603.87,292.93 603.94,292.27 603.99,291.61 604.04,290.94 604.09,290.27 604.14,289.6 604.18,288.93 604.21,288.26 604.25,287.59 604.28,286.92 604.31,286.25 604.34,285.57 604.37,284.9 604.4,284.23 604.43,283.56 604.46,282.89 604.5,282.22 604.53,281.55 604.56,280.88 604.59,280.21 604.62,279.54 604.64,278.87 604.67,278.2 604.69,277.53 604.72,276.86 604.74,276.19 604.76,275.51 604.78,274.84 604.81,274.17 604.83,273.5 604.85,272.83 604.88,272.16 604.9,271.49 604.92,270.82 604.95,270.15 604.98,269.48 605.01,268.81 605.04,268.14 605.07,267.47 605.1,266.8 605.14,266.14 605.18,265.47 605.22,264.8 605.27,264.13 605.32,263.47 605.38,262.8 605.45,262.13 605.52,261.46 605.59,260.8 605.66,260.13 605.74,259.47 605.82,258.8 605.91,258.13 606,257.47 606.08,256.8 606.17,256.14 606.26,255.47 606.35,254.81 606.44,254.14 606.53,253.48 606.61,252.81 606.7,252.15 606.79,251.48 606.87,250.82 606.96,250.15 607.06,249.49 607.15,248.82 607.24,248.16 607.34,247.5 607.44,246.83 607.53,246.17 607.63,245.51 607.73,244.84 607.82,244.18 607.92,243.52 608.02,242.85 608.11,242.19 608.21,241.52 608.3,240.86 608.39,240.2 608.48,239.53 608.57,238.87 608.66,238.2 608.75,237.54 608.83,236.87 608.92,236.21 609,235.54 609.09,234.88 609.17,234.21 609.26,233.55 609.34,232.88 609.43,232.22 609.52,231.55 609.61,230.89 609.7,230.22 609.79,229.56 609.89,228.9 609.99,228.23 610.09,227.57 610.19,226.91 610.29,226.24 610.4,225.58 610.5,224.92 610.61,224.25 610.72,223.59 610.84,222.93 610.97,222.27 611.1,221.62 611.23,220.96 611.38,220.31 611.52,219.64 611.68,218.97 611.85,218.3 612.04,217.66 612.27,217.05 612.54,216.47 612.91,215.87 613.35,215.29 613.85,214.8 614.36,214.47 614.91,214.25 615.52,214.07 616.17,213.9 616.85,213.76 617.55,213.64 618.26,213.55 618.95,213.48 619.62,213.44 620.28,213.41 620.94,213.37 621.61,213.34 622.28,213.32 622.94,213.29 623.61,213.27 624.28,213.25 624.95,213.22 625.62,213.2 626.29,213.19 626.96,213.17 627.63,213.15 628.3,213.14 628.97,213.12 629.65,213.11 630.32,213.1 630.99,213.09 631.66,213.07 632.34,213.06 633.01,213.05 633.68,213.04 634.35,213.03 635.03,213.02 635.7,213.01 636.37,213 637.04,212.99 637.72,212.98 638.39,212.97 639.06,212.96 639.73,212.94 640.4,212.93 641.07,212.92 641.74,212.91 642.41,212.9 643.08,212.89 643.75,212.88 644.42,212.87 645.09,212.86 645.76,212.85 646.43,212.84 647.1,212.83 647.77,212.82 648.44,212.81 649.11,212.8 649.78,212.79 650.45,212.78 651.12,212.77 651.8,212.76 652.47,212.75 653.14,212.74 653.81,212.73 654.48,212.72 655.15,212.71 655.82,212.7 656.49,212.69 657.16,212.68 657.83,212.67 658.5,212.66 659.17,212.65 659.84,212.64 660.51,212.63 661.18,212.62 661.85,212.61 662.52,212.6 663.19,212.59 663.86,212.58 664.53,212.56 665.2,212.55 665.87,212.54 666.54,212.53 667.21,212.52 667.89,212.51 668.56,212.5 669.23,212.48 669.9,212.47 670.57,212.46 671.24,212.45 671.91,212.44 672.58,212.42 673.25,212.41 673.92,212.4 674.59,212.39 675.26,212.37 675.93,212.36 676.6,212.35" fill="none" stroke="#4b5cff" stroke-width="0.75" stroke-linejoin="round"/><polyline points="677.2,209.4 676.53,209.41 675.86,209.43 675.19,209.44 674.52,209.46 673.86,209.47 673.19,209.49 672.52,209.5 671.85,209.51 671.18,209.53 670.51,209.54 669.84,209.56 669.17,209.57 668.51,209.59 667.84,209.6 667.17,209.62 666.5,209.63 665.83,209.64 665.16,209.66 664.49,209.67 663.82,209.69 663.15,209.7 662.49,209.72 661.82,209.73 661.15,209.75 660.48,209.76 659.81,209.78 659.14,209.79 658.47,209.81 657.8,209.82 657.14,209.84 656.47,209.85 655.8,209.87 655.13,209.88 654.46,209.9 653.79,209.91 653.12,209.93 652.45,209.94 651.79,209.96 651.12,209.97 650.45,209.99 649.78,210.01 649.11,210.02 648.44,210.03 647.77,210.05 647.1,210.06 646.43,210.08 645.77,210.09 645.1,210.11 644.43,210.12 643.76,210.13 643.09,210.15 642.42,210.16 641.75,210.17 641.08,210.19 640.41,210.2 639.74,210.21 639.08,210.23 638.41,210.24 637.74,210.25 637.07,210.27 636.4,210.28 635.73,210.3 635.06,210.31 634.39,210.33 633.72,210.34 633.06,210.36 632.39,210.38 631.72,210.39 631.05,210.41 630.38,210.43 629.71,210.45 629.04,210.47 628.38,210.49 627.71,210.51 627.04,210.53 626.37,210.55 625.7,210.58 625.03,210.6 624.37,210.62 623.7,210.65 623.03,210.68 622.36,210.71 621.69,210.74 621.02,210.77 620.35,210.8 619.68,210.84 619.01,210.87 618.34,210.91 617.68,210.96 617.01,211 616.34,211.04 615.67,211.09 615.01,211.14 614.34,211.19 613.67,211.25 613.01,211.31 612.34,211.37 611.68,211.43 611.02,211.5 610.35,211.58 609.68,211.68 609.01,211.78 608.35,211.88 607.68,212 607.03,212.13 606.37,212.27 605.73,212.42 605.09,212.58 604.45,212.76 603.82,212.98 603.2,213.24 602.58,213.53 601.98,213.83 601.39,214.15 600.82,214.48 600.24,214.85 599.68,215.24 599.16,215.66 598.68,216.11 598.25,216.6 597.83,217.14 597.45,217.71 597.11,218.3 596.84,218.9 596.62,219.51 596.42,220.14 596.23,220.79 596.07,221.44 595.92,222.11 595.79,222.77 595.68,223.44 595.59,224.1 595.51,224.76 595.43,225.42 595.36,226.08 595.3,226.74 595.23,227.41 595.18,228.07 595.12,228.74 595.07,229.41 595.03,230.08 594.98,230.75 594.94,231.41 594.89,232.08 594.85,232.75 594.81,233.42 594.77,234.09 594.73,234.76 594.68,235.43 594.64,236.1 594.59,236.77 594.54,237.44 594.49,238.11 594.44,238.77 594.39,239.44 594.33,240.11 594.28,240.78 594.23,241.44 594.17,242.11 594.12,242.78 594.07,243.44 594.01,244.11 593.96,244.78 593.91,245.44 593.85,246.11 593.8,246.78 593.75,247.44 593.7,248.11 593.64,248.78 593.59,249.44 593.54,250.11 593.49,250.78 593.44,251.45 593.39,252.11 593.34,252.78 593.3,253.45 593.25,254.12 593.21,254.78 593.16,255.45 593.12,256.12 593.08,256.79 593.03,257.45 592.99,258.12 592.95,258.79 592.91,259.46 592.86,260.12 592.82,260.79 592.77,261.46 592.72,262.13 592.67,262.79 592.62,263.46 592.57,264.13 592.52,264.79 592.46,265.46 592.4,266.13 592.34,266.79 592.28,267.46 592.22,268.12 592.15,268.79 592.09,269.46 592.02,270.12 591.95,270.79 591.88,271.45 591.81,272.12 591.74,272.78 591.66,273.45 591.59,274.11 591.51,274.78 591.43,275.44 591.35,276.11 591.27,276.77 591.19,277.44 591.11,278.1 591.03,278.77 590.94,279.43 590.85,280.09 590.77,280.75 590.68,281.42 590.59,282.08 590.5,282.74 590.4,283.4 590.31,284.07 590.21,284.73 590.11,285.39 590,286.05 589.9,286.71 589.79,287.37 589.68,288.03 589.57,288.69 589.46,289.35 589.34,290.01 589.22,290.67 589.1,291.33 588.98,291.99 588.86,292.64 588.73,293.3 588.61,293.96 588.48,294.61 588.36,295.27 588.23,295.93 588.09,296.59 587.95,297.25 587.8,297.9 587.63,298.54 587.45,299.18 587.24,299.83 587.02,300.48 586.76,301.12 586.48,301.72 586.16,302.26 585.77,302.8 585.29,303.33 584.77,303.81 584.22,304.2 583.66,304.45 583.07,304.64 582.45,304.82 581.8,304.97 581.13,305.11 580.44,305.23 579.75,305.33 579.06,305.41 578.38,305.47 577.72,305.52 577.05,305.56 576.39,305.6 575.73,305.63 575.06,305.67 574.39,305.7 573.73,305.73 573.06,305.75 572.39,305.78 571.72,305.8 571.05,305.83 570.39,305.85 569.72,305.87 569.05,305.89 568.37,305.91 567.7,305.92 567.03,305.94 566.36,305.95 565.69,305.97 565.02,305.99 564.35,306 563.68,306.02 563.01,306.03 562.34,306.04 561.67,306.06 561,306.08 560.33,306.09 559.66,306.11 558.99,306.12 558.32,306.14 557.66,306.16 556.99,306.17 556.32,306.19 555.65,306.2 554.98,306.21 554.31,306.23 553.64,306.24 552.97,306.26 552.3,306.27 551.64,306.28 550.97,306.29 550.3,306.31 549.63,306.32 548.96,306.33 548.29,306.34 547.62,306.36 546.95,306.37 546.29,306.38 545.62,306.39 544.95,306.41 544.28,306.42 543.61,306.43 542.94,306.44 542.27,306.46 541.6,306.47 540.93,306.48 540.27,306.49 539.6,306.51 538.93,306.52 538.26,306.54 537.59,306.55 536.92,306.56 536.25,306.58 535.58,306.59 534.91,306.6 534.25,306.62 533.58,306.63 532.91,306.64 532.24,306.66 531.57,306.67 530.9,306.68 530.23,306.7 529.56,306.71 528.89,306.72 528.23,306.74 527.56,306.75 526.89,306.76 526.22,306.78 525.55,306.79 524.88,306.81 524.21,306.82 523.54,306.83 522.88,306.85 522.21,306.86 521.54,306.87 520.87,306.89 520.2,306.9" fill="none" stroke="#9638ff" stroke-width="1.25" stroke-linejoin="round"/><polyline points="520.2,309.3 520.87,309.29 521.54,309.28 522.21,309.27 522.88,309.26 523.55,309.24 524.22,309.23 524.89,309.22 525.56,309.21 526.23,309.2 526.9,309.18 527.57,309.17 528.24,309.16 528.92,309.15 529.59,309.13 530.26,309.12 530.93,309.11 531.6,309.09 532.27,309.08 532.94,309.07 533.61,309.05 534.28,309.04 534.95,309.02 535.62,309.01 536.29,309 536.96,308.98 537.63,308.97 538.3,308.95 538.97,308.94 539.64,308.92 540.31,308.91 540.98,308.89 541.65,308.88 542.32,308.86 542.99,308.85 543.66,308.83 544.33,308.82 545,308.8 545.67,308.78 546.34,308.77 547.01,308.75 547.68,308.74 548.35,308.72 549.03,308.71 549.7,308.69 550.37,308.68 551.04,308.66 551.71,308.65 552.38,308.63 553.05,308.62 553.72,308.6 554.39,308.59 555.06,308.57 555.73,308.56 556.4,308.54 557.07,308.52 557.74,308.51 558.41,308.49 559.08,308.47 559.75,308.45 560.42,308.43 561.09,308.41 561.76,308.39 562.43,308.37 563.1,308.35 563.77,308.33 564.44,308.31 565.11,308.29 565.78,308.26 566.45,308.24 567.12,308.22 567.79,308.19 568.46,308.16 569.13,308.14 569.8,308.11 570.47,308.08 571.14,308.05 571.81,308.02 572.48,307.98 573.15,307.94 573.83,307.91 574.5,307.86 575.17,307.82 575.84,307.77 576.51,307.73 577.18,307.67 577.85,307.62 578.52,307.56 579.18,307.5 579.85,307.43 580.51,307.37 581.18,307.29 581.84,307.22 582.5,307.13 583.16,307.02 583.81,306.89 584.47,306.75 585.12,306.59 585.77,306.42 586.42,306.25 587.07,306.08 587.72,305.91 588.38,305.75 589.03,305.59 589.69,305.45 590.35,305.32 591.01,305.19 591.66,305.05 592.32,304.91 592.97,304.77 593.62,304.6 594.26,304.42 594.9,304.22 595.53,303.99 596.16,303.74 596.78,303.48 597.39,303.2 598,302.93 598.61,302.63 599.21,302.32 599.79,301.98 600.33,301.61 600.87,301.2 601.39,300.75 601.87,300.26 602.29,299.75 602.64,299.21 602.96,298.62 603.24,297.99 603.48,297.36 603.69,296.72 603.87,296.08 604.05,295.43 604.2,294.77 604.32,294.11 604.41,293.45 604.47,292.78 604.54,292.12 604.59,291.46 604.64,290.79 604.69,290.12 604.74,289.45 604.78,288.78 604.81,288.11 604.85,287.44 604.88,286.77 604.91,286.1 604.94,285.42 604.97,284.75 605,284.08 605.03,283.41 605.06,282.74 605.1,282.07 605.13,281.4 605.16,280.73 605.19,280.06 605.22,279.39 605.24,278.72 605.27,278.05 605.29,277.38 605.32,276.71 605.34,276.04 605.36,275.36 605.38,274.69 605.41,274.02 605.43,273.35 605.45,272.68 605.48,272.01 605.5,271.34 605.52,270.67 605.55,270 605.58,269.33 605.61,268.66 605.64,267.99 605.67,267.32 605.7,266.65 605.74,265.99 605.78,265.32 605.82,264.65 605.87,263.98 605.92,263.32 605.98,262.65 606.05,261.98 606.12,261.31 606.19,260.65 606.26,259.98 606.34,259.32 606.42,258.65 606.51,257.98 606.6,257.32 606.68,256.65 606.77,255.99 606.86,255.32 606.95,254.66 607.04,253.99 607.13,253.33 607.21,252.66 607.3,252 607.39,251.33 607.47,250.67 607.56,250 607.66,249.34 607.75,248.67 607.84,248.01 607.94,247.35 608.04,246.68 608.13,246.02 608.23,245.36 608.33,244.69 608.42,244.03 608.52,243.37 608.62,242.7 608.71,242.04 608.81,241.37 608.9,240.71 608.99,240.05 609.08,239.38 609.17,238.72 609.26,238.05 609.35,237.39 609.43,236.72 609.52,236.06 609.6,235.39 609.69,234.73 609.77,234.06 609.86,233.4 609.94,232.73 610.03,232.07 610.12,231.4 610.21,230.74 610.3,230.07 610.39,229.41 610.49,228.75 610.59,228.08 610.69,227.42 610.79,226.76 610.89,226.09 611,225.43 611.1,224.77 611.21,224.1 611.32,223.44 611.44,222.78 611.57,222.12 611.7,221.47 611.83,220.81 611.98,220.16 612.12,219.49 612.28,218.82 612.45,218.15 612.64,217.51 612.87,216.9 613.14,216.32 613.51,215.72 613.95,215.14 614.45,214.65 614.96,214.32 615.51,214.1 616.12,213.92 616.77,213.75 617.45,213.61 618.15,213.49 618.86,213.4 619.55,213.33 620.22,213.29 620.88,213.26 621.54,213.22 622.21,213.19 622.88,213.17 623.54,213.14 624.21,213.12 624.88,213.1 625.55,213.07 626.22,213.05 626.89,213.04 627.56,213.02 628.23,213 628.9,212.99 629.57,212.97 630.25,212.96 630.92,212.95 631.59,212.94 632.26,212.92 632.94,212.91 633.61,212.9 634.28,212.89 634.95,212.88 635.63,212.87 636.3,212.86 636.97,212.85 637.64,212.84 638.32,212.83 638.99,212.82 639.66,212.81 640.33,212.79 641,212.78 641.67,212.77 642.34,212.76 643.01,212.75 643.68,212.74 644.35,212.73 645.02,212.72 645.69,212.71 646.36,212.7 647.03,212.69 647.7,212.68 648.37,212.67 649.04,212.66 649.71,212.65 650.38,212.64 651.05,212.63 651.72,212.62 652.4,212.61 653.07,212.6 653.74,212.59 654.41,212.58 655.08,212.57 655.75,212.56 656.42,212.55 657.09,212.54 657.76,212.53 658.43,212.52 659.1,212.51 659.77,212.5 660.44,212.49 661.11,212.48 661.78,212.47 662.45,212.46 663.12,212.45 663.79,212.44 664.46,212.43 665.13,212.41 665.8,212.4 666.47,212.39 667.14,212.38 667.81,212.37 668.49,212.36 669.16,212.35 669.83,212.33 670.5,212.32 671.17,212.31 671.84,212.3 672.51,212.29 673.18,212.27 673.85,212.26 674.52,212.25 675.19,212.24 675.86,212.22 676.53,212.21 677.2,212.2" fill="none" stroke="#9638ff" stroke-width="1.25" stroke-linejoin="round"/><path d="M676.03,207.81 l1.3,2.3 h-2.6z" fill="#4b5cff"/><path d="M520.37,305.29 l1.3,2.3 h-2.6z" fill="#4b5cff"/><path d="M676.03,210.61 l1.3,2.3 h-2.6z" fill="#4b5cff"/><path d="M520.37,307.69 l1.3,2.3 h-2.6z" fill="#4b5cff"/><path d="M663.32,208.09 l1.3,2.3 h-2.6z" fill="#4b5cff"/><path d="M533.08,305.03 l1.3,2.3 h-2.6z" fill="#4b5cff"/><path d="M663.29,210.84 l1.3,2.3 h-2.6z" fill="#4b5cff"/><path d="M533.11,307.45 l1.3,2.3 h-2.6z" fill="#4b5cff"/><path d="M653.29,208.31 l1.3,2.3 h-2.6z" fill="#4b5cff"/><path d="M542.44,304.84 l1.3,2.3 h-2.6z" fill="#4b5cff"/><path d="M653.24,210.99 l1.3,2.3 h-2.6z" fill="#4b5cff"/><path d="M542.49,307.25 l1.3,2.3 h-2.6z" fill="#4b5cff"/><path d="M643.93,208.52 l1.3,2.3 h-2.6z" fill="#4b5cff"/><path d="M551.8,304.67 l1.3,2.3 h-2.6z" fill="#4b5cff"/><path d="M643.85,211.13 l1.3,2.3 h-2.6z" fill="#4b5cff"/><path d="M551.88,307.03 l1.3,2.3 h-2.6z" fill="#4b5cff"/><path d="M637.24,208.65 l1.3,2.3 h-2.6z" fill="#4b5cff"/><path d="M559.16,304.51 l1.3,2.3 h-2.6z" fill="#4b5cff"/><path d="M637.14,211.24 l1.3,2.3 h-2.6z" fill="#4b5cff"/><path d="M559.25,306.85 l1.3,2.3 h-2.6z" fill="#4b5cff"/><path d="M630.55,208.81 l1.3,2.3 h-2.6z" fill="#4b5cff"/><path d="M565.19,304.37 l1.3,2.3 h-2.6z" fill="#4b5cff"/><path d="M630.42,211.35 l1.3,2.3 h-2.6z" fill="#4b5cff"/><path d="M565.28,306.66 l1.3,2.3 h-2.6z" fill="#4b5cff"/><path d="M625.87,208.95 l1.3,2.3 h-2.6z" fill="#4b5cff"/><path d="M570.55,304.23 l1.3,2.3 h-2.6z" fill="#4b5cff"/><path d="M625.72,211.45 l1.3,2.3 h-2.6z" fill="#4b5cff"/><path d="M570.64,306.45 l1.3,2.3 h-2.6z" fill="#4b5cff"/><path d="M621.19,209.14 l1.3,2.3 h-2.6z" fill="#4b5cff"/><path d="M574.56,304.07 l1.3,2.3 h-2.6z" fill="#4b5cff"/><path d="M621.04,211.62 l1.3,2.3 h-2.6z" fill="#4b5cff"/><path d="M574.67,306.22 l1.3,2.3 h-2.6z" fill="#4b5cff"/><path d="M617.18,209.36 l1.3,2.3 h-2.6z" fill="#4b5cff"/><path d="M579.25,303.73 l1.3,2.3 h-2.6z" fill="#4b5cff"/><path d="M616.95,212.01 l1.3,2.3 h-2.6z" fill="#4b5cff"/><path d="M579.35,305.83 l1.3,2.3 h-2.6z" fill="#4b5cff"/><path d="M613.84,209.59 l1.3,2.3 h-2.6z" fill="#4b5cff"/><path d="M581.95,303.22 l1.3,2.3 h-2.6z" fill="#4b5cff"/><path d="M613.95,213.05 l1.3,2.3 h-2.6z" fill="#4b5cff"/><path d="M582,305.53 l1.3,2.3 h-2.6z" fill="#4b5cff"/><path d="M594.68,226.47 l1.3,2.3 h-2.6z" fill="#4b5cff"/><path d="M593.89,237.84 l1.3,2.3 h-2.6z" fill="#4b5cff"/><path d="M592.99,249.18 l1.3,2.3 h-2.6z" fill="#4b5cff"/><path d="M592.27,259.86 l1.3,2.3 h-2.6z" fill="#4b5cff"/><path d="M591.24,271.18 l1.3,2.3 h-2.6z" fill="#4b5cff"/><path d="M589.81,282.47 l1.3,2.3 h-2.6z" fill="#4b5cff"/><path d="M587.86,293.67 l1.3,2.3 h-2.6z" fill="#4b5cff"/><path d="M610.09,226.48 l1.3,2.3 h-2.6z" fill="#4b5cff"/><path d="M608.58,237.78 l1.3,2.3 h-2.6z" fill="#4b5cff"/><path d="M606.97,249.07 l1.3,2.3 h-2.6z" fill="#4b5cff"/><path d="M605.55,260.38 l1.3,2.3 h-2.6z" fill="#4b5cff"/><path d="M604.95,271.08 l1.3,2.3 h-2.6z" fill="#4b5cff"/><path d="M604.5,282.48 l1.3,2.3 h-2.6z" fill="#4b5cff"/><path d="M603.55,293.83 l1.3,2.3 h-2.6z" fill="#4b5cff"/><path d="M599.46,214.06 l1.3,2.3 h-2.6z" fill="#4b5cff"/><path d="M604.12,211.38 l1.3,2.3 h-2.6z" fill="#4b5cff"/><path d="M609.31,210.18 l1.3,2.3 h-2.6z" fill="#4b5cff"/><path d="M613.97,209.65 l1.3,2.3 h-2.6z" fill="#4b5cff"/><path d="M580.54,305.62 l1.3,2.3 h-2.6z" fill="#4b5cff"/><path d="M585.77,304.48 l1.3,2.3 h-2.6z" fill="#4b5cff"/><path d="M591.02,303.31 l1.3,2.3 h-2.6z" fill="#4b5cff"/><path d="M596.09,301.6 l1.3,2.3 h-2.6z" fill="#4b5cff"/><rect x="675.43" y="208.31" width="2.5" height="2.5" fill="#9638ff"/><rect x="519.77" y="305.79" width="2.5" height="2.5" fill="#9638ff"/><rect x="675.43" y="211.11" width="2.5" height="2.5" fill="#9638ff"/><rect x="519.77" y="308.19" width="2.5" height="2.5" fill="#9638ff"/><rect x="662.72" y="208.59" width="2.5" height="2.5" fill="#9638ff"/><rect x="532.48" y="305.53" width="2.5" height="2.5" fill="#9638ff"/><rect x="662.69" y="211.34" width="2.5" height="2.5" fill="#9638ff"/><rect x="532.51" y="307.95" width="2.5" height="2.5" fill="#9638ff"/><rect x="652.69" y="208.81" width="2.5" height="2.5" fill="#9638ff"/><rect x="541.84" y="305.34" width="2.5" height="2.5" fill="#9638ff"/><rect x="652.64" y="211.49" width="2.5" height="2.5" fill="#9638ff"/><rect x="541.89" y="307.75" width="2.5" height="2.5" fill="#9638ff"/><rect x="643.33" y="209.02" width="2.5" height="2.5" fill="#9638ff"/><rect x="551.2" y="305.17" width="2.5" height="2.5" fill="#9638ff"/><rect x="643.25" y="211.63" width="2.5" height="2.5" fill="#9638ff"/><rect x="551.28" y="307.53" width="2.5" height="2.5" fill="#9638ff"/><rect x="636.64" y="209.15" width="2.5" height="2.5" fill="#9638ff"/><rect x="558.56" y="305.01" width="2.5" height="2.5" fill="#9638ff"/><rect x="636.54" y="211.74" width="2.5" height="2.5" fill="#9638ff"/><rect x="558.65" y="307.35" width="2.5" height="2.5" fill="#9638ff"/><rect x="629.95" y="209.31" width="2.5" height="2.5" fill="#9638ff"/><rect x="564.59" y="304.87" width="2.5" height="2.5" fill="#9638ff"/><rect x="629.82" y="211.85" width="2.5" height="2.5" fill="#9638ff"/><rect x="564.68" y="307.16" width="2.5" height="2.5" fill="#9638ff"/><rect x="625.27" y="209.45" width="2.5" height="2.5" fill="#9638ff"/><rect x="569.95" y="304.73" width="2.5" height="2.5" fill="#9638ff"/><rect x="625.12" y="211.95" width="2.5" height="2.5" fill="#9638ff"/><rect x="570.04" y="306.95" width="2.5" height="2.5" fill="#9638ff"/><rect x="620.59" y="209.64" width="2.5" height="2.5" fill="#9638ff"/><rect x="573.96" y="304.57" width="2.5" height="2.5" fill="#9638ff"/><rect x="620.44" y="212.12" width="2.5" height="2.5" fill="#9638ff"/><rect x="574.07" y="306.72" width="2.5" height="2.5" fill="#9638ff"/><rect x="616.58" y="209.86" width="2.5" height="2.5" fill="#9638ff"/><rect x="578.65" y="304.23" width="2.5" height="2.5" fill="#9638ff"/><rect x="616.35" y="212.51" width="2.5" height="2.5" fill="#9638ff"/><rect x="578.75" y="306.33" width="2.5" height="2.5" fill="#9638ff"/><rect x="613.24" y="210.09" width="2.5" height="2.5" fill="#9638ff"/><rect x="581.35" y="303.72" width="2.5" height="2.5" fill="#9638ff"/><rect x="613.35" y="213.55" width="2.5" height="2.5" fill="#9638ff"/><rect x="581.4" y="306.03" width="2.5" height="2.5" fill="#9638ff"/><rect x="594.69" y="221.67" width="2.5" height="2.5" fill="#9638ff"/><rect x="593.71" y="232.32" width="2.5" height="2.5" fill="#9638ff"/><rect x="592.86" y="243.68" width="2.5" height="2.5" fill="#9638ff"/><rect x="592.02" y="255.02" width="2.5" height="2.5" fill="#9638ff"/><rect x="591.18" y="266.36" width="2.5" height="2.5" fill="#9638ff"/><rect x="589.93" y="277.67" width="2.5" height="2.5" fill="#9638ff"/><rect x="588.24" y="288.91" width="2.5" height="2.5" fill="#9638ff"/><rect x="610.34" y="221.68" width="2.5" height="2.5" fill="#9638ff"/><rect x="608.76" y="232.3" width="2.5" height="2.5" fill="#9638ff"/><rect x="607.23" y="243.59" width="2.5" height="2.5" fill="#9638ff"/><rect x="605.67" y="254.89" width="2.5" height="2.5" fill="#9638ff"/><rect x="604.57" y="266.22" width="2.5" height="2.5" fill="#9638ff"/><rect x="604.14" y="277.62" width="2.5" height="2.5" fill="#9638ff"/><rect x="603.64" y="288.35" width="2.5" height="2.5" fill="#9638ff"/><rect x="596.35" y="216.61" width="2.5" height="2.5" fill="#9638ff"/><rect x="598.06" y="214.56" width="2.5" height="2.5" fill="#9638ff"/><rect x="599.72" y="213.38" width="2.5" height="2.5" fill="#9638ff"/><rect x="601.48" y="212.43" width="2.5" height="2.5" fill="#9638ff"/><rect x="602.72" y="211.88" width="2.5" height="2.5" fill="#9638ff"/><rect x="604.63" y="211.32" width="2.5" height="2.5" fill="#9638ff"/><rect x="605.93" y="211.03" width="2.5" height="2.5" fill="#9638ff"/><rect x="607.91" y="210.68" width="2.5" height="2.5" fill="#9638ff"/><rect x="609.25" y="210.48" width="2.5" height="2.5" fill="#9638ff"/><rect x="610.58" y="210.33" width="2.5" height="2.5" fill="#9638ff"/><rect x="612.57" y="210.15" width="2.5" height="2.5" fill="#9638ff"/><rect x="597.15" y="215.5" width="2.5" height="2.5" fill="#9638ff"/><rect x="595.74" y="217.8" width="2.5" height="2.5" fill="#9638ff"/><rect x="594.97" y="220.34" width="2.5" height="2.5" fill="#9638ff"/><rect x="580.74" y="306.12" width="2.5" height="2.5" fill="#9638ff"/><rect x="582.71" y="305.79" width="2.5" height="2.5" fill="#9638ff"/><rect x="584.02" y="305.49" width="2.5" height="2.5" fill="#9638ff"/><rect x="585.97" y="304.98" width="2.5" height="2.5" fill="#9638ff"/><rect x="587.93" y="304.49" width="2.5" height="2.5" fill="#9638ff"/><rect x="589.25" y="304.22" width="2.5" height="2.5" fill="#9638ff"/><rect x="591.22" y="303.81" width="2.5" height="2.5" fill="#9638ff"/><rect x="592.52" y="303.5" width="2.5" height="2.5" fill="#9638ff"/><rect x="594.43" y="302.89" width="2.5" height="2.5" fill="#9638ff"/><rect x="596.29" y="302.1" width="2.5" height="2.5" fill="#9638ff"/><rect x="598.11" y="301.22" width="2.5" height="2.5" fill="#9638ff"/><rect x="599.77" y="300.1" width="2.5" height="2.5" fill="#9638ff"/><rect x="602.59" y="295.62" width="2.5" height="2.5" fill="#9638ff"/><rect x="601.54" y="298.11" width="2.5" height="2.5" fill="#9638ff"/><rect x="599.77" y="300.1" width="2.5" height="2.5" fill="#9638ff"/><rect x="519.6" y="187" width="157.8" height="144.5" fill="none" stroke="#1a1a1a" stroke-width="1.1"/><text x="518.1" y="341.8" font-family='"Liberation Sans", sans-serif' font-size="9" fill="#000" text-anchor="middle">-20</text><text x="557.55" y="341.8" font-family='"Liberation Sans", sans-serif' font-size="9" fill="#000" text-anchor="middle">-10</text><text x="598.5" y="341.8" font-family='"Liberation Sans", sans-serif' font-size="9" fill="#000" text-anchor="middle">0</text><text x="637.95" y="341.8" font-family='"Liberation Sans", sans-serif' font-size="9" fill="#000" text-anchor="middle">10</text><text x="677.4" y="341.8" font-family='"Liberation Sans", sans-serif' font-size="9" fill="#000" text-anchor="middle">20</text><text x="516.2" y="212.22" font-family='"Liberation Sans", sans-serif' font-size="9" fill="#000" text-anchor="end">800</text><text x="516.2" y="237.06" font-family='"Liberation Sans", sans-serif' font-size="9" fill="#000" text-anchor="end">400</text><text x="516.2" y="261.9" font-family='"Liberation Sans", sans-serif' font-size="9" fill="#000" text-anchor="end">0</text><text x="516.2" y="286.74" font-family='"Liberation Sans", sans-serif' font-size="9" fill="#000" text-anchor="end">-400</text><text x="516.2" y="311.58" font-family='"Liberation Sans", sans-serif' font-size="9" fill="#000" text-anchor="end">-800</text><g transform="translate(602.4,351.9)" font-family='"Liberation Sans", sans-serif' fill="#000"><text x="-18.62" y="0" font-size="9.2" font-style="italic" xml:space="preserve">μ</text><text x="-13.58" y="2.02" font-size="6.44" xml:space="preserve">0</text><text x="-9.99" y="0" font-size="9.2" font-style="italic" xml:space="preserve">H</text><text x="-3.35" y="0" font-size="9.2" xml:space="preserve"> (mT)</text></g><g transform="translate(497,259) rotate(-90)" font-family='"Liberation Sans", sans-serif' fill="#000"><text x="-33.55" y="0" font-size="9" xml:space="preserve">Moment (kA m</text><text x="24.96" y="-3.42" font-size="6.3" xml:space="preserve">-2</text><text x="30.56" y="0" font-size="9" xml:space="preserve">)</text></g><g transform="translate(530.7,202.8)" font-family='"Liberation Sans", sans-serif' fill="#000"><text x="0" y="0" font-size="9.2" xml:space="preserve">Py(12 nm)/Mn</text><text x="57.77" y="2.02" font-size="6.44" xml:space="preserve">3</text><text x="61.35" y="0" font-size="9.2" xml:space="preserve">Sn (40 nm)</text></g><g transform="translate(530.7,217.2)" font-family='"Liberation Sans", sans-serif' fill="#000"><text x="0" y="0" font-size="9.2" font-style="italic" xml:space="preserve">μ</text><text x="5.04" y="2.02" font-size="6.44" xml:space="preserve">0</text><text x="8.62" y="0" font-size="9.2" font-style="italic" xml:space="preserve">H</text><text x="15.27" y="0" font-size="9.2" xml:space="preserve"> || [0001]</text></g><g transform="translate(530.7,229.6)" font-family='"Liberation Sans", sans-serif' fill="#000"><text x="0" y="0" font-size="9.2" font-style="italic" xml:space="preserve">T</text><text x="5.62" y="0" font-size="9.2" xml:space="preserve"> = 300 K</text></g><line x1="624.4" y1="301.4" x2="639.9" y2="301.4" stroke="#9638ff" stroke-width="0.9"/><rect x="630.8" y="300.0" width="2.9" height="2.9" fill="#9638ff"/><text x="644.3" y="304.7" font-family='"Liberation Sans", sans-serif' font-size="9.2" fill="#000">ZFC</text><line x1="624.4" y1="312.6" x2="639.9" y2="312.6" stroke="#4b5cff" stroke-width="0.9"/><path d="M632.2,310.4 l1.8,3.2 h-3.6z" fill="#4b5cff"/><text x="644.3" y="315.5" font-family='"Liberation Sans", sans-serif' font-size="9.2" fill="#000">FC</text><line x1="74" y1="25" x2="128.8" y2="29.2" stroke="#d2d2d2" stroke-width="0.6" stroke-linecap="round"/><line x1="74" y1="67.3" x2="128.8" y2="71.5" stroke="#d2d2d2" stroke-width="0.6" stroke-linecap="round"/><line x1="74" y1="25" x2="74" y2="67.3" stroke="#d2d2d2" stroke-width="0.6" stroke-linecap="round"/><line x1="128.8" y1="29.2" x2="167" y2="15.1" stroke="#d2d2d2" stroke-width="0.6" stroke-linecap="round"/><line x1="128.8" y1="71.5" x2="167" y2="57.4" stroke="#d2d2d2" stroke-width="0.6" stroke-linecap="round"/><line x1="128.8" y1="29.2" x2="128.8" y2="71.5" stroke="#d2d2d2" stroke-width="0.6" stroke-linecap="round"/><line x1="167" y1="15.1" x2="112.2" y2="10.9" stroke="#d2d2d2" stroke-width="0.6" stroke-linecap="round"/><line x1="167" y1="57.4" x2="112.2" y2="53.2" stroke="#d2d2d2" stroke-width="0.6" stroke-linecap="round"/><line x1="167" y1="15.1" x2="167" y2="57.4" stroke="#d2d2d2" stroke-width="0.6" stroke-linecap="round"/><line x1="112.2" y1="10.9" x2="74" y2="25" stroke="#d2d2d2" stroke-width="0.6" stroke-linecap="round"/><line x1="112.2" y1="53.2" x2="74" y2="67.3" stroke="#d2d2d2" stroke-width="0.6" stroke-linecap="round"/><line x1="112.2" y1="10.9" x2="112.2" y2="53.2" stroke="#d2d2d2" stroke-width="0.6" stroke-linecap="round"/><line x1="74" y1="25" x2="120.6" y2="20.1" stroke="#e2e2e2" stroke-width="0.5" stroke-linecap="round"/><line x1="120.6" y1="20.1" x2="166.8" y2="15.3" stroke="#e2e2e2" stroke-width="0.5" stroke-linecap="round"/><line x1="74" y1="67.3" x2="120.5" y2="61.5" stroke="#e2e2e2" stroke-width="0.5" stroke-linecap="round"/><line x1="120.5" y1="61.5" x2="166.8" y2="57.6" stroke="#e2e2e2" stroke-width="0.5" stroke-linecap="round"/><line x1="112.2" y1="10.9" x2="120.6" y2="20.1" stroke="#e6e6e6" stroke-width="0.5" stroke-linecap="round"/><line x1="120.6" y1="20.1" x2="128.8" y2="29.2" stroke="#e6e6e6" stroke-width="0.5" stroke-linecap="round"/><line x1="112.2" y1="53.2" x2="120.5" y2="61.5" stroke="#e6e6e6" stroke-width="0.5" stroke-linecap="round"/><line x1="120.5" y1="61.5" x2="128.8" y2="71.5" stroke="#e6e6e6" stroke-width="0.5" stroke-linecap="round"/><circle cx="74" cy="25" r="1.6" fill="#f4f4f4" stroke="#8a8a8a" stroke-width="0.65"/><circle cx="74" cy="67.3" r="1.6" fill="#f4f4f4" stroke="#8a8a8a" stroke-width="0.65"/><circle cx="128.8" cy="29.2" r="1.6" fill="#f4f4f4" stroke="#8a8a8a" stroke-width="0.65"/><circle cx="128.8" cy="71.5" r="1.6" fill="#f4f4f4" stroke="#8a8a8a" stroke-width="0.65"/><circle cx="167" cy="15.1" r="1.6" fill="#f4f4f4" stroke="#8a8a8a" stroke-width="0.65"/><circle cx="167" cy="57.4" r="1.6" fill="#f4f4f4" stroke="#8a8a8a" stroke-width="0.65"/><circle cx="112.2" cy="10.9" r="1.6" fill="#f4f4f4" stroke="#8a8a8a" stroke-width="0.65"/><circle cx="112.2" cy="53.2" r="1.6" fill="#f4f4f4" stroke="#8a8a8a" stroke-width="0.65"/><circle cx="104.9" cy="42.8" r="1.6" fill="#f4f4f4" stroke="#8a8a8a" stroke-width="0.65"/><line x1="93" y1="17.8" x2="101.4" y2="27.2" stroke="#5ccf8c" stroke-width="0.7" stroke-linecap="round"/><line x1="93" y1="17.8" x2="120.6" y2="20.1" stroke="#5ccf8c" stroke-width="0.7" stroke-linecap="round"/><line x1="101.4" y1="27.2" x2="120.6" y2="20.1" stroke="#5ccf8c" stroke-width="0.7" stroke-linecap="round"/><line x1="120.6" y1="20.1" x2="139.5" y2="13.6" stroke="#5ccf8c" stroke-width="0.7" stroke-linecap="round"/><line x1="120.6" y1="20.1" x2="147.4" y2="21.9" stroke="#5ccf8c" stroke-width="0.7" stroke-linecap="round"/><line x1="139.5" y1="13.6" x2="147.4" y2="21.9" stroke="#5ccf8c" stroke-width="0.7" stroke-linecap="round"/><line x1="85" y1="17.8" x2="98.5" y2="17.8" stroke="#1aa552" stroke-width="1.8" stroke-linecap="round"/><path d="M100,17.8 L97,19.3 L97,16.3 Z" fill="#1aa552"/><circle cx="93" cy="17.8" r="2.2" fill="#3ccf7e" stroke="#0c8a3c" stroke-width="0.9"/><circle cx="92.67" cy="17.47" r="0.99" fill="#ffffff" fill-opacity="0.35"/><line x1="97.69" y1="28.7" x2="105.67" y2="25.48" stroke="#1aa552" stroke-width="1.6" stroke-linecap="round"/><path d="M106.96,24.95 L104.89,27.3 L103.84,24.7 Z" fill="#1aa552"/><circle cx="97.69" cy="28.7" r="1.1" fill="#3ccf7e" stroke="#0c8a3c" stroke-width="0.6"/><circle cx="101.4" cy="27.2" r="2.2" fill="#3ccf7e" stroke="#0c8a3c" stroke-width="0.9"/><circle cx="101.07" cy="26.87" r="0.99" fill="#ffffff" fill-opacity="0.35"/><line x1="135.79" y1="15.1" x2="143.77" y2="11.88" stroke="#1aa552" stroke-width="1.6" stroke-linecap="round"/><path d="M145.06,11.35 L142.99,13.7 L141.94,11.1 Z" fill="#1aa552"/><circle cx="135.79" cy="15.1" r="1.1" fill="#3ccf7e" stroke="#0c8a3c" stroke-width="0.6"/><circle cx="139.5" cy="13.6" r="2.2" fill="#3ccf7e" stroke="#0c8a3c" stroke-width="0.9"/><circle cx="139.17" cy="13.27" r="0.99" fill="#ffffff" fill-opacity="0.35"/><line x1="140.91" y1="21.56" x2="152.89" y2="22.19" stroke="#1aa552" stroke-width="1.8" stroke-linecap="round"/><path d="M154.39,22.27 L151.32,23.61 L151.47,20.61 Z" fill="#1aa552"/><circle cx="147.4" cy="21.9" r="2.2" fill="#3ccf7e" stroke="#0c8a3c" stroke-width="0.9"/><circle cx="147.07" cy="21.57" r="0.99" fill="#ffffff" fill-opacity="0.35"/><circle cx="120.6" cy="20.1" r="1.9" fill="#3ccf7e" stroke="#0c8a3c" stroke-width="0.8"/><line x1="93" y1="60.2" x2="101.4" y2="69.6" stroke="#5ccf8c" stroke-width="0.7" stroke-linecap="round"/><line x1="93" y1="60.2" x2="120.6" y2="62.5" stroke="#5ccf8c" stroke-width="0.7" stroke-linecap="round"/><line x1="101.4" y1="69.6" x2="120.6" y2="62.5" stroke="#5ccf8c" stroke-width="0.7" stroke-linecap="round"/><line x1="120.6" y1="62.5" x2="139.5" y2="56" stroke="#5ccf8c" stroke-width="0.7" stroke-linecap="round"/><line x1="120.6" y1="62.5" x2="147.4" y2="64.3" stroke="#5ccf8c" stroke-width="0.7" stroke-linecap="round"/><line x1="139.5" y1="56" x2="147.4" y2="64.3" stroke="#5ccf8c" stroke-width="0.7" stroke-linecap="round"/><line x1="85" y1="60.2" x2="98.5" y2="60.2" stroke="#1aa552" stroke-width="1.8" stroke-linecap="round"/><path d="M100,60.2 L97,61.7 L97,58.7 Z" fill="#1aa552"/><circle cx="93" cy="60.2" r="2.2" fill="#3ccf7e" stroke="#0c8a3c" stroke-width="0.9"/><circle cx="92.67" cy="59.87" r="0.99" fill="#ffffff" fill-opacity="0.35"/><line x1="97.69" y1="71.1" x2="105.67" y2="67.88" stroke="#1aa552" stroke-width="1.6" stroke-linecap="round"/><path d="M106.96,67.35 L104.89,69.7 L103.84,67.1 Z" fill="#1aa552"/><circle cx="97.69" cy="71.1" r="1.1" fill="#3ccf7e" stroke="#0c8a3c" stroke-width="0.6"/><circle cx="101.4" cy="69.6" r="2.2" fill="#3ccf7e" stroke="#0c8a3c" stroke-width="0.9"/><circle cx="101.07" cy="69.27" r="0.99" fill="#ffffff" fill-opacity="0.35"/><line x1="135.79" y1="57.5" x2="143.77" y2="54.28" stroke="#1aa552" stroke-width="1.6" stroke-linecap="round"/><path d="M145.06,53.75 L142.99,56.1 L141.94,53.5 Z" fill="#1aa552"/><circle cx="135.79" cy="57.5" r="1.1" fill="#3ccf7e" stroke="#0c8a3c" stroke-width="0.6"/><circle cx="139.5" cy="56" r="2.2" fill="#3ccf7e" stroke="#0c8a3c" stroke-width="0.9"/><circle cx="139.17" cy="55.67" r="0.99" fill="#ffffff" fill-opacity="0.35"/><line x1="140.91" y1="63.96" x2="152.89" y2="64.59" stroke="#1aa552" stroke-width="1.8" stroke-linecap="round"/><path d="M154.39,64.67 L151.32,66.01 L151.47,63.01 Z" fill="#1aa552"/><circle cx="147.4" cy="64.3" r="2.2" fill="#3ccf7e" stroke="#0c8a3c" stroke-width="0.9"/><circle cx="147.07" cy="63.97" r="0.99" fill="#ffffff" fill-opacity="0.35"/><circle cx="120.6" cy="62.5" r="1.9" fill="#3ccf7e" stroke="#0c8a3c" stroke-width="0.8"/><line x1="124.6" y1="36.2" x2="150.2" y2="37.9" stroke="#5a93f5" stroke-width="0.7" stroke-linecap="round"/><line x1="150.2" y1="37.9" x2="132.4" y2="45" stroke="#5a93f5" stroke-width="0.7" stroke-linecap="round"/><line x1="124.6" y1="36.2" x2="132.4" y2="45" stroke="#5a93f5" stroke-width="0.7" stroke-linecap="round"/><line x1="116.8" y1="36" x2="130" y2="36" stroke="#1f6fe0" stroke-width="1.8" stroke-linecap="round"/><path d="M131.5,36 L128.5,37.5 L128.5,34.5 Z" fill="#1f6fe0"/><circle cx="125" cy="36" r="2.2" fill="#4a93ff" stroke="#1050c8" stroke-width="0.9"/><circle cx="124.67" cy="35.67" r="0.99" fill="#ffffff" fill-opacity="0.35"/><line x1="149.06" y1="36.83" x2="152.48" y2="39.91" stroke="#1f6fe0" stroke-width="1.6" stroke-linecap="round"/><path d="M153.52,40.85 L150.5,40.01 L152.37,37.93 Z" fill="#1f6fe0"/><circle cx="149.8" cy="37.5" r="2.2" fill="#4a93ff" stroke="#1050c8" stroke-width="0.9"/><circle cx="149.47" cy="37.17" r="0.99" fill="#ffffff" fill-opacity="0.35"/><line x1="128.79" y1="46.7" x2="136.3" y2="43.66" stroke="#1f6fe0" stroke-width="1.6" stroke-linecap="round"/><path d="M137.6,43.14 L135.53,45.49 L134.48,42.89 Z" fill="#1f6fe0"/><circle cx="128.79" cy="46.7" r="1.1" fill="#4a93ff" stroke="#1050c8" stroke-width="0.6"/><circle cx="132.5" cy="45.2" r="2.2" fill="#4a93ff" stroke="#1050c8" stroke-width="0.9"/><circle cx="132.17" cy="44.87" r="0.99" fill="#ffffff" fill-opacity="0.35"/><line x1="120.6" y1="61.5" x2="120.79" y2="13.8" stroke="#111" stroke-width="1.5" stroke-linecap="round"/><path d="M120.8,11.4 L122.78,15.41 L118.78,15.39 Z" fill="#111"/><line x1="120.6" y1="61.5" x2="78.43" y2="77.68" stroke="#111" stroke-width="1.2" stroke-linecap="round"/><path d="M76.3,78.5 L79.17,75.36 L80.53,78.91 Z" fill="#111"/><line x1="120.6" y1="61.5" x2="180.73" y2="67.57" stroke="#111" stroke-width="1.2" stroke-linecap="round"/><path d="M183,67.8 L179.03,69.31 L179.41,65.53 Z" fill="#111"/><line x1="120.6" y1="61.5" x2="154.04" y2="72.77" stroke="#111" stroke-width="1.2" stroke-linecap="round"/><path d="M156.2,73.5 L151.99,74.09 L153.21,70.49 Z" fill="#111"/><circle cx="120.6" cy="20.1" r="2.4" fill="#1f9a50" stroke="#0b6b30" stroke-width="0.9"/><circle cx="120.6" cy="61.5" r="2.4" fill="#1f9a50" stroke="#0b6b30" stroke-width="0.9"/><g transform="translate(112.2,7.2) scale(1.05,1)" font-family='"Liberation Serif", serif' fill="#000" stroke="#000" stroke-width="0.12"><text x="0" y="0" font-size="9.5" font-style="italic" xml:space="preserve">z</text><text x="3.7" y="0" font-size="9.5" xml:space="preserve"> || [0001]</text></g><g transform="translate(34.4,83.3) scale(1.05,1)" font-family='"Liberation Serif", serif' fill="#000" stroke="#000" stroke-width="0.12"><text x="0" y="0" font-size="9.5" font-style="italic" xml:space="preserve">x</text><text x="4.22" y="0" font-size="9.5" xml:space="preserve"> || [2</text><text x="20.68" y="0" font-size="9.5" xml:space="preserve">11</text><line x1="21.35" y1="-8.12" x2="24.77" y2="-8.12" stroke="#000" stroke-width="0.85"/><line x1="26.1" y1="-8.12" x2="29.52" y2="-8.12" stroke="#000" stroke-width="0.85"/><text x="30.18" y="0" font-size="9.5" xml:space="preserve">0]</text></g><g transform="translate(185.7,69.8) scale(1.05,1)" font-family='"Liberation Serif", serif' fill="#000" stroke="#000" stroke-width="0.12"><text x="0" y="0" font-size="9.5" xml:space="preserve">[</text><text x="3.16" y="0" font-size="9.5" xml:space="preserve">1</text><line x1="3.83" y1="-8.12" x2="7.25" y2="-8.12" stroke="#000" stroke-width="0.85"/><text x="7.91" y="0" font-size="9.5" xml:space="preserve">2</text><text x="12.66" y="0" font-size="9.5" xml:space="preserve">1</text><line x1="13.33" y1="-8.12" x2="16.75" y2="-8.12" stroke="#000" stroke-width="0.85"/><text x="17.41" y="0" font-size="9.5" xml:space="preserve">0]</text></g><g transform="translate(157.3,81.4) scale(1.05,1)" font-family='"Liberation Serif", serif' fill="#000" stroke="#000" stroke-width="0.12"><text x="0" y="0" font-size="9.5" font-style="italic" xml:space="preserve">y</text><text x="4.22" y="0" font-size="9.5" xml:space="preserve"> || [01</text><text x="25.43" y="0" font-size="9.5" xml:space="preserve">1</text><line x1="26.1" y1="-8.12" x2="29.52" y2="-8.12" stroke="#000" stroke-width="0.85"/><text x="30.18" y="0" font-size="9.5" xml:space="preserve">0]</text></g><text x="90.6" y="37.4" font-family='"Liberation Sans", sans-serif' font-size="8.6" fill="#00c85a" font-weight="bold">Mn</text><text x="152.6" y="33.9" font-family='"Liberation Sans", sans-serif' font-size="8.7" fill="#2a5aff" font-weight="bold">Mn</text><text x="171.6" y="17.8" font-family='"Liberation Sans", sans-serif' font-size="9.2" fill="#8f8f8f">Sn</text><circle cx="72.6" cy="93" r="1.3" fill="#f4f4f4" stroke="#8a8a8a" stroke-width="0.65"/><circle cx="114.3" cy="93" r="1.3" fill="#f4f4f4" stroke="#8a8a8a" stroke-width="0.65"/><circle cx="155.9" cy="93" r="1.3" fill="#f4f4f4" stroke="#8a8a8a" stroke-width="0.65"/><circle cx="114.3" cy="117" r="1.3" fill="#f4f4f4" stroke="#8a8a8a" stroke-width="0.65"/><circle cx="155.9" cy="117" r="1.3" fill="#f4f4f4" stroke="#8a8a8a" stroke-width="0.65"/><circle cx="93.4" cy="129" r="1.3" fill="#f4f4f4" stroke="#8a8a8a" stroke-width="0.65"/><circle cx="135.3" cy="129" r="1.3" fill="#f4f4f4" stroke="#8a8a8a" stroke-width="0.65"/><circle cx="176.8" cy="129" r="1.3" fill="#f4f4f4" stroke="#8a8a8a" stroke-width="0.65"/><circle cx="135.4" cy="153" r="1.3" fill="#f4f4f4" stroke="#8a8a8a" stroke-width="0.65"/><circle cx="176.8" cy="153" r="1.3" fill="#f4f4f4" stroke="#8a8a8a" stroke-width="0.65"/><circle cx="114.5" cy="165.4" r="1.3" fill="#f4f4f4" stroke="#8a8a8a" stroke-width="0.65"/><circle cx="155.9" cy="165.4" r="1.3" fill="#f4f4f4" stroke="#8a8a8a" stroke-width="0.65"/><circle cx="197.6" cy="165.4" r="1.3" fill="#f4f4f4" stroke="#8a8a8a" stroke-width="0.65"/><line x1="83.2" y1="99" x2="145.6" y2="99" stroke="#8cbcf8" stroke-width="1.9" stroke-linecap="round"/><line x1="104.2" y1="135.1" x2="166.6" y2="135.1" stroke="#8cbcf8" stroke-width="1.9" stroke-linecap="round"/><line x1="83.2" y1="99" x2="114.5" y2="152.8" stroke="#3b82ee" stroke-width="0.95" stroke-linecap="round"/><line x1="124.8" y1="99" x2="155.9" y2="152.8" stroke="#3b82ee" stroke-width="0.95" stroke-linecap="round"/><line x1="104" y1="99" x2="93.4" y2="117" stroke="#3b82ee" stroke-width="0.95" stroke-linecap="round"/><line x1="145.6" y1="99" x2="114.5" y2="152.8" stroke="#3b82ee" stroke-width="0.95" stroke-linecap="round"/><line x1="166.6" y1="135.1" x2="155.9" y2="152.8" stroke="#3b82ee" stroke-width="0.95" stroke-linecap="round"/><line x1="83.4" y1="110.7" x2="166.6" y2="110.7" stroke="#98e4b6" stroke-width="2" stroke-linecap="round"/><line x1="104.2" y1="146.8" x2="187.4" y2="146.8" stroke="#98e4b6" stroke-width="2" stroke-linecap="round"/><line x1="93.4" y1="93" x2="83.4" y2="110.7" stroke="#42c27a" stroke-width="0.95" stroke-linecap="round"/><line x1="93.4" y1="93" x2="135.4" y2="165.5" stroke="#42c27a" stroke-width="0.95" stroke-linecap="round"/><line x1="135.1" y1="93" x2="104.2" y2="146.8" stroke="#42c27a" stroke-width="0.95" stroke-linecap="round"/><line x1="135.1" y1="93" x2="176.8" y2="165.5" stroke="#42c27a" stroke-width="0.95" stroke-linecap="round"/><line x1="166.6" y1="110.7" x2="135.4" y2="165.5" stroke="#42c27a" stroke-width="0.95" stroke-linecap="round"/><line x1="187.4" y1="146.8" x2="176.8" y2="165.5" stroke="#42c27a" stroke-width="0.95" stroke-linecap="round"/><line x1="87.9" y1="93" x2="97.6" y2="93" stroke="#4fcf84" stroke-width="1" stroke-linecap="round"/><path d="M98.6,93 L96.6,94 L96.6,92 Z" fill="#4fcf84"/><circle cx="93.4" cy="93" r="1.9" fill="#3ccf7e" stroke="#0c8a3c" stroke-width="0.9"/><circle cx="93.12" cy="92.72" r="0.85" fill="#ffffff" fill-opacity="0.35"/><line x1="129.6" y1="93" x2="139.3" y2="93" stroke="#4fcf84" stroke-width="1" stroke-linecap="round"/><path d="M140.3,93 L138.3,94 L138.3,92 Z" fill="#4fcf84"/><circle cx="135.1" cy="93" r="1.9" fill="#3ccf7e" stroke="#0c8a3c" stroke-width="0.9"/><circle cx="134.81" cy="92.72" r="0.85" fill="#ffffff" fill-opacity="0.35"/><line x1="108.8" y1="129.1" x2="118.5" y2="129.1" stroke="#4fcf84" stroke-width="1" stroke-linecap="round"/><path d="M119.5,129.1 L117.5,130.1 L117.5,128.1 Z" fill="#4fcf84"/><circle cx="114.3" cy="129.1" r="1.9" fill="#3ccf7e" stroke="#0c8a3c" stroke-width="0.9"/><circle cx="114.02" cy="128.81" r="0.85" fill="#ffffff" fill-opacity="0.35"/><line x1="150.4" y1="129.1" x2="160.1" y2="129.1" stroke="#4fcf84" stroke-width="1" stroke-linecap="round"/><path d="M161.1,129.1 L159.1,130.1 L159.1,128.1 Z" fill="#4fcf84"/><circle cx="155.9" cy="129.1" r="1.9" fill="#3ccf7e" stroke="#0c8a3c" stroke-width="0.9"/><circle cx="155.62" cy="128.81" r="0.85" fill="#ffffff" fill-opacity="0.35"/><line x1="129.9" y1="165.5" x2="139.6" y2="165.5" stroke="#4fcf84" stroke-width="1" stroke-linecap="round"/><path d="M140.6,165.5 L138.6,166.5 L138.6,164.5 Z" fill="#4fcf84"/><circle cx="135.4" cy="165.5" r="1.9" fill="#3ccf7e" stroke="#0c8a3c" stroke-width="0.9"/><circle cx="135.12" cy="165.22" r="0.85" fill="#ffffff" fill-opacity="0.35"/><line x1="171.3" y1="165.5" x2="181" y2="165.5" stroke="#4fcf84" stroke-width="1" stroke-linecap="round"/><path d="M182,165.5 L180,166.5 L180,164.5 Z" fill="#4fcf84"/><circle cx="176.8" cy="165.5" r="1.9" fill="#3ccf7e" stroke="#0c8a3c" stroke-width="0.9"/><circle cx="176.52" cy="165.22" r="0.85" fill="#ffffff" fill-opacity="0.35"/><line x1="81.15" y1="106.8" x2="85.05" y2="113.56" stroke="#3bb86f" stroke-width="1.1" stroke-linecap="round"/><path d="M85.5,114.34 L83.82,113.23 L85.38,112.33 Z" fill="#3bb86f"/><circle cx="83.4" cy="110.7" r="1.9" fill="#3ccf7e" stroke="#0c8a3c" stroke-width="0.9"/><circle cx="83.12" cy="110.42" r="0.85" fill="#ffffff" fill-opacity="0.35"/><line x1="101.95" y1="114.6" x2="105.85" y2="107.84" stroke="#3bb86f" stroke-width="1.1" stroke-linecap="round"/><path d="M106.3,107.06 L106.18,109.07 L104.62,108.17 Z" fill="#3bb86f"/><circle cx="104.2" cy="110.7" r="1.9" fill="#3ccf7e" stroke="#0c8a3c" stroke-width="0.9"/><circle cx="103.92" cy="110.42" r="0.85" fill="#ffffff" fill-opacity="0.35"/><line x1="122.75" y1="106.8" x2="126.65" y2="113.56" stroke="#3bb86f" stroke-width="1.1" stroke-linecap="round"/><path d="M127.1,114.34 L125.42,113.23 L126.98,112.33 Z" fill="#3bb86f"/><circle cx="125" cy="110.7" r="1.9" fill="#3ccf7e" stroke="#0c8a3c" stroke-width="0.9"/><circle cx="124.72" cy="110.42" r="0.85" fill="#ffffff" fill-opacity="0.35"/><line x1="143.55" y1="114.6" x2="147.45" y2="107.84" stroke="#3bb86f" stroke-width="1.1" stroke-linecap="round"/><path d="M147.9,107.06 L147.78,109.07 L146.22,108.17 Z" fill="#3bb86f"/><circle cx="145.8" cy="110.7" r="1.9" fill="#3ccf7e" stroke="#0c8a3c" stroke-width="0.9"/><circle cx="145.52" cy="110.42" r="0.85" fill="#ffffff" fill-opacity="0.35"/><line x1="164.35" y1="106.8" x2="168.25" y2="113.56" stroke="#3bb86f" stroke-width="1.1" stroke-linecap="round"/><path d="M168.7,114.34 L167.02,113.23 L168.58,112.33 Z" fill="#3bb86f"/><circle cx="166.6" cy="110.7" r="1.9" fill="#3ccf7e" stroke="#0c8a3c" stroke-width="0.9"/><circle cx="166.32" cy="110.42" r="0.85" fill="#ffffff" fill-opacity="0.35"/><line x1="101.95" y1="142.9" x2="105.85" y2="149.66" stroke="#3bb86f" stroke-width="1.1" stroke-linecap="round"/><path d="M106.3,150.44 L104.62,149.33 L106.18,148.43 Z" fill="#3bb86f"/><circle cx="104.2" cy="146.8" r="1.9" fill="#3ccf7e" stroke="#0c8a3c" stroke-width="0.9"/><circle cx="103.92" cy="146.52" r="0.85" fill="#ffffff" fill-opacity="0.35"/><line x1="122.75" y1="150.7" x2="126.65" y2="143.94" stroke="#3bb86f" stroke-width="1.1" stroke-linecap="round"/><path d="M127.1,143.16 L126.98,145.17 L125.42,144.27 Z" fill="#3bb86f"/><circle cx="125" cy="146.8" r="1.9" fill="#3ccf7e" stroke="#0c8a3c" stroke-width="0.9"/><circle cx="124.72" cy="146.52" r="0.85" fill="#ffffff" fill-opacity="0.35"/><line x1="143.55" y1="142.9" x2="147.45" y2="149.66" stroke="#3bb86f" stroke-width="1.1" stroke-linecap="round"/><path d="M147.9,150.44 L146.22,149.33 L147.78,148.43 Z" fill="#3bb86f"/><circle cx="145.8" cy="146.8" r="1.9" fill="#3ccf7e" stroke="#0c8a3c" stroke-width="0.9"/><circle cx="145.52" cy="146.52" r="0.85" fill="#ffffff" fill-opacity="0.35"/><line x1="164.35" y1="150.7" x2="168.25" y2="143.94" stroke="#3bb86f" stroke-width="1.1" stroke-linecap="round"/><path d="M168.7,143.16 L168.58,145.17 L167.02,144.27 Z" fill="#3bb86f"/><circle cx="166.6" cy="146.8" r="1.9" fill="#3ccf7e" stroke="#0c8a3c" stroke-width="0.9"/><circle cx="166.32" cy="146.52" r="0.85" fill="#ffffff" fill-opacity="0.35"/><line x1="185.15" y1="142.9" x2="189.05" y2="149.66" stroke="#3bb86f" stroke-width="1.1" stroke-linecap="round"/><path d="M189.5,150.44 L187.82,149.33 L189.38,148.43 Z" fill="#3bb86f"/><circle cx="187.4" cy="146.8" r="1.9" fill="#3ccf7e" stroke="#0c8a3c" stroke-width="0.9"/><circle cx="187.12" cy="146.52" r="0.85" fill="#ffffff" fill-opacity="0.35"/><line x1="80.95" y1="102.9" x2="84.73" y2="96.36" stroke="#4a8af5" stroke-width="1" stroke-linecap="round"/><path d="M85.2,95.54 L85.07,97.66 L83.43,96.71 Z" fill="#4a8af5"/><circle cx="83.2" cy="99" r="1.9" fill="#4a93ff" stroke="#1050c8" stroke-width="0.9"/><circle cx="82.92" cy="98.72" r="0.85" fill="#ffffff" fill-opacity="0.35"/><line x1="99.5" y1="99" x2="107.55" y2="99" stroke="#4a8af5" stroke-width="1" stroke-linecap="round"/><path d="M108.5,99 L106.6,99.95 L106.6,98.05 Z" fill="#4a8af5"/><circle cx="104" cy="99" r="1.9" fill="#4a93ff" stroke="#1050c8" stroke-width="0.9"/><circle cx="103.72" cy="98.72" r="0.85" fill="#ffffff" fill-opacity="0.35"/><line x1="122.55" y1="102.9" x2="126.33" y2="96.36" stroke="#4a8af5" stroke-width="1" stroke-linecap="round"/><path d="M126.8,95.54 L126.67,97.66 L125.03,96.71 Z" fill="#4a8af5"/><circle cx="124.8" cy="99" r="1.9" fill="#4a93ff" stroke="#1050c8" stroke-width="0.9"/><circle cx="124.52" cy="98.72" r="0.85" fill="#ffffff" fill-opacity="0.35"/><line x1="141.1" y1="99" x2="149.15" y2="99" stroke="#4a8af5" stroke-width="1" stroke-linecap="round"/><path d="M150.1,99 L148.2,99.95 L148.2,98.05 Z" fill="#4a8af5"/><circle cx="145.6" cy="99" r="1.9" fill="#4a93ff" stroke="#1050c8" stroke-width="0.9"/><circle cx="145.32" cy="98.72" r="0.85" fill="#ffffff" fill-opacity="0.35"/><line x1="101.95" y1="139" x2="105.73" y2="132.46" stroke="#4a8af5" stroke-width="1" stroke-linecap="round"/><path d="M106.2,131.64 L106.07,133.76 L104.43,132.81 Z" fill="#4a8af5"/><circle cx="104.2" cy="135.1" r="1.9" fill="#4a93ff" stroke="#1050c8" stroke-width="0.9"/><circle cx="103.92" cy="134.81" r="0.85" fill="#ffffff" fill-opacity="0.35"/><line x1="120.5" y1="135.1" x2="128.55" y2="135.1" stroke="#4a8af5" stroke-width="1" stroke-linecap="round"/><path d="M129.5,135.1 L127.6,136.05 L127.6,134.15 Z" fill="#4a8af5"/><circle cx="125" cy="135.1" r="1.9" fill="#4a93ff" stroke="#1050c8" stroke-width="0.9"/><circle cx="124.72" cy="134.81" r="0.85" fill="#ffffff" fill-opacity="0.35"/><line x1="143.55" y1="139" x2="147.33" y2="132.46" stroke="#4a8af5" stroke-width="1" stroke-linecap="round"/><path d="M147.8,131.64 L147.67,133.76 L146.03,132.81 Z" fill="#4a8af5"/><circle cx="145.8" cy="135.1" r="1.9" fill="#4a93ff" stroke="#1050c8" stroke-width="0.9"/><circle cx="145.52" cy="134.81" r="0.85" fill="#ffffff" fill-opacity="0.35"/><line x1="162.1" y1="135.1" x2="170.15" y2="135.1" stroke="#4a8af5" stroke-width="1" stroke-linecap="round"/><path d="M171.1,135.1 L169.2,136.05 L169.2,134.15 Z" fill="#4a8af5"/><circle cx="166.6" cy="135.1" r="1.9" fill="#4a93ff" stroke="#1050c8" stroke-width="0.9"/><circle cx="166.32" cy="134.81" r="0.85" fill="#ffffff" fill-opacity="0.35"/><line x1="91.4" y1="113.54" x2="94.95" y2="119.68" stroke="#4a8af5" stroke-width="1" stroke-linecap="round"/><path d="M95.4,120.46 L93.72,119.36 L95.28,118.46 Z" fill="#4a8af5"/><circle cx="93.4" cy="117" r="1.9" fill="#4a93ff" stroke="#1050c8" stroke-width="0.9"/><circle cx="93.12" cy="116.72" r="0.85" fill="#ffffff" fill-opacity="0.35"/><line x1="133.1" y1="113.54" x2="136.65" y2="119.68" stroke="#4a8af5" stroke-width="1" stroke-linecap="round"/><path d="M137.1,120.46 L135.42,119.36 L136.98,118.46 Z" fill="#4a8af5"/><circle cx="135.1" cy="117" r="1.9" fill="#4a93ff" stroke="#1050c8" stroke-width="0.9"/><circle cx="134.81" cy="116.72" r="0.85" fill="#ffffff" fill-opacity="0.35"/><line x1="112.5" y1="149.34" x2="116.05" y2="155.48" stroke="#4a8af5" stroke-width="1" stroke-linecap="round"/><path d="M116.5,156.26 L114.82,155.16 L116.38,154.26 Z" fill="#4a8af5"/><circle cx="114.5" cy="152.8" r="1.9" fill="#4a93ff" stroke="#1050c8" stroke-width="0.9"/><circle cx="114.22" cy="152.52" r="0.85" fill="#ffffff" fill-opacity="0.35"/><line x1="153.9" y1="149.34" x2="157.45" y2="155.48" stroke="#4a8af5" stroke-width="1" stroke-linecap="round"/><path d="M157.9,156.26 L156.22,155.16 L157.78,154.26 Z" fill="#4a8af5"/><circle cx="155.9" cy="152.8" r="1.9" fill="#4a93ff" stroke="#1050c8" stroke-width="0.9"/><circle cx="155.62" cy="152.52" r="0.85" fill="#ffffff" fill-opacity="0.35"/><line x1="54.8" y1="166.9" x2="54.8" y2="145.4" stroke="#111" stroke-width="1.2" stroke-linecap="round"/><path d="M54.8,143.6 L56.3,146.6 L53.3,146.6 Z" fill="#111"/><line x1="54.8" y1="166.9" x2="76.5" y2="166.9" stroke="#111" stroke-width="1.2" stroke-linecap="round"/><path d="M78.3,166.9 L75.3,168.4 L75.3,165.4 Z" fill="#111"/><line x1="54.8" y1="166.9" x2="43.43" y2="148.14" stroke="#111" stroke-width="1.2" stroke-linecap="round"/><path d="M42.5,146.6 L45.34,148.39 L42.77,149.94 Z" fill="#111"/><path d="M54.8,159.8 H61.8 V166.9" fill="none" stroke="#111" stroke-width="0.9"/><circle cx="54.8" cy="166.9" r="3.4" fill="#fff" stroke="#111" stroke-width="1.1"/><circle cx="54.8" cy="166.9" r="1.1" fill="#111"/><g transform="translate(46.35,140.6) scale(1.05,1)" font-family='"Liberation Serif", serif' fill="#000" stroke="#000" stroke-width="0.12"><text x="0" y="0" font-size="9.5" font-style="italic" xml:space="preserve">y</text><text x="4.22" y="0" font-size="9.5" xml:space="preserve"> || [01</text><text x="25.43" y="0" font-size="9.5" xml:space="preserve">1</text><line x1="26.1" y1="-8.12" x2="29.52" y2="-8.12" stroke="#000" stroke-width="0.85"/><text x="30.18" y="0" font-size="9.5" xml:space="preserve">0]</text></g><g transform="translate(15.3,151) scale(1.05,1)" font-family='"Liberation Serif", serif' fill="#000" stroke="#000" stroke-width="0.12"><text x="0" y="0" font-size="9.5" xml:space="preserve">[</text><text x="3.16" y="0" font-size="9.5" xml:space="preserve">1</text><line x1="3.83" y1="-8.12" x2="7.25" y2="-8.12" stroke="#000" stroke-width="0.85"/><text x="7.91" y="0" font-size="9.5" xml:space="preserve">2</text><text x="12.66" y="0" font-size="9.5" xml:space="preserve">1</text><line x1="13.33" y1="-8.12" x2="16.75" y2="-8.12" stroke="#000" stroke-width="0.85"/><text x="17.41" y="0" font-size="9.5" xml:space="preserve">0]</text></g><g transform="translate(68.4,161.4) scale(1.05,1)" font-family='"Liberation Serif", serif' fill="#000" stroke="#000" stroke-width="0.12"><text x="0" y="0" font-size="9.5" font-style="italic" xml:space="preserve">x</text><text x="4.22" y="0" font-size="9.5" xml:space="preserve"> || [2</text><text x="20.68" y="0" font-size="9.5" xml:space="preserve">11</text><line x1="21.35" y1="-8.12" x2="24.77" y2="-8.12" stroke="#000" stroke-width="0.85"/><line x1="26.1" y1="-8.12" x2="29.52" y2="-8.12" stroke="#000" stroke-width="0.85"/><text x="30.18" y="0" font-size="9.5" xml:space="preserve">0]</text></g><g transform="translate(11.1,169.6) scale(1.05,1)" font-family='"Liberation Serif", serif' fill="#000" stroke="#000" stroke-width="0.12"><text x="0" y="0" font-size="9.5" font-style="italic" xml:space="preserve">z</text><text x="3.7" y="0" font-size="9.5" xml:space="preserve"> || [0001]</text></g></svg></body></html>
